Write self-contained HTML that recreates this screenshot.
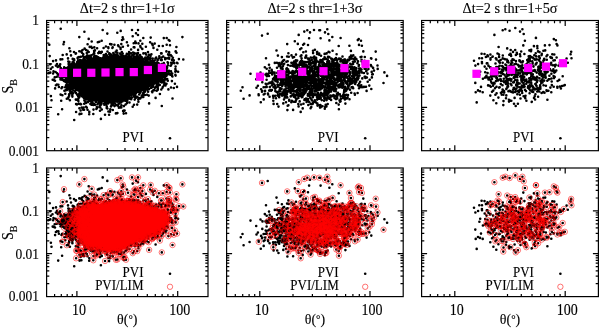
<!DOCTYPE html>
<html><head><meta charset="utf-8"><style>
html,body{margin:0;padding:0;background:#fff;width:600px;height:328px;overflow:hidden}
svg{display:block;font-family:"Liberation Serif",serif;will-change:transform}
text{stroke:#000;stroke-width:0.12px}
.rg{fill:none;stroke:none;marker-start:url(#r);marker-mid:url(#r);marker-end:url(#r)}
</style></head><body>
<svg width="600" height="328" viewBox="0 0 600 328">
<defs><marker id="r" markerUnits="userSpaceOnUse" markerWidth="8" markerHeight="8" refX="4" refY="4" overflow="visible"><circle cx="4" cy="4" r="2.7" fill="none" stroke="#f00" stroke-width="0.55"/></marker></defs>
<path d="M104.1 56.8H126.1V58.2H104.1zM95.1 57.8H134.1V59.2H95.1zM89.1 58.8H140.1V60.2H89.1zM86.1 59.8H144.1V61.2H86.1zM83.1 60.8H147.1V62.2H83.1zM79.1 61.8H150.1V63.2H79.1zM77.1 62.8H155.1V64.2H77.1zM74.1 63.8H161.1V65.2H74.1zM72.1 64.8H164.1V66.2H72.1zM69.1 65.8H165.1V67.2H69.1zM67.1 66.8H165.1V68.2H67.1zM66.1 67.8H166.1V69.2H66.1zM65.1 68.8H166.1V70.2H65.1zM64.1 69.8H166.1V71.2H64.1zM63.1 70.8H166.1V72.2H63.1zM63.1 71.8H165.1V73.2H63.1zM63.1 72.8H165.1V74.2H63.1zM63.1 73.8H164.1V75.2H63.1zM64.1 74.8H164.1V76.2H64.1zM64.1 75.8H163.1V77.2H64.1zM65.1 76.8H162.1V78.2H65.1zM65.1 77.8H161.1V79.2H65.1zM66.1 78.8H160.1V80.2H66.1zM67.1 79.8H159.1V81.2H67.1zM68.1 80.8H158.1V82.2H68.1zM69.1 81.8H157.1V83.2H69.1zM69.1 82.8H155.1V84.2H69.1zM71.1 83.8H153.1V85.2H71.1zM72.1 84.8H151.1V86.2H72.1zM73.1 85.8H150.1V87.2H73.1zM74.1 86.8H148.1V88.2H74.1zM76.1 87.8H145.1V89.2H76.1zM77.1 88.8H143.1V90.2H77.1zM78.1 89.8H140.1V91.2H78.1zM79.1 90.8H138.1V92.2H79.1zM81.1 91.8H135.1V93.2H81.1zM82.1 92.8H133.1V94.2H82.1zM83.1 93.8H132.1V95.2H83.1zM85.1 94.8H130.1V96.2H85.1zM86.1 95.8H129.1V97.2H86.1zM87.1 96.8H127.1V98.2H87.1zM89.1 97.8H126.1V99.2H89.1zM92.1 98.8H124.1V100.2H92.1zM96.1 99.8H120.1V101.2H96.1zM100.1 100.8H115.1V102.2H100.1z" fill="#000"/>
<path d="M163.8 38.1h0M91.7 41.5h0M135.3 41.6h0M97.8 42.3h0M126.9 42.2h0M150.1 42.3h0M133.7 43.3h0M135.9 43.1h0M138.5 43.4h0M142.3 43.8h0M154.7 43.6h0M49.3 44.7h0M63.5 44.3h0M110.1 44.1h0M111.5 44.4h0M121.3 44.1h0M118.1 45.4h0M128 45.6h0M162.8 46h0M89.7 46.9h0M105.9 46.5h0M118.6 46.3h0M122.9 46.7h0M140.3 46.1h0M145.9 46.7h0M94.3 47.4h0M108.3 47.3h0M120.5 47.7h0M133.7 47.2h0M134.4 47.4h0M140.6 47.3h0M153.5 47.9h0M176.4 47h0M69.4 48.2h0M84.6 48.6h0M108.4 48.1h0M112.4 48h0M142.3 48.9h0M120.6 49h0M131.1 49.5h0M138.1 49.9h0M157.3 49.8h0M82.5 50.1h0M87.6 50.9h0M94.1 50.8h0M94.9 50.4h0M116.7 50.5h0M70.3 51.2h0M81 51.5h0M99.2 51.7h0M101.8 51.9h0M107.5 51.5h0M115.7 51.7h0M166.4 51.4h0M94.1 52.3h0M100.2 52.7h0M101.4 52.1h0M117.4 52.8h0M121.8 52.1h0M129.1 52h0M133 52.6h0M133.8 52.7h0M134.2 53h0M148 52.1h0M176.5 52.7h0M75.7 53.7h0M76 53.3h0M86.8 53.1h0M94.3 53.7h0M98.3 53.1h0M100.8 53h0M109.4 53.3h0M113.3 53.1h0M120 53.6h0M122.7 53.5h0M122.5 53.7h0M126.8 53.9h0M129.5 53.9h0M131 53.3h0M136.2 53.5h0M138 53.1h0M143.4 53.4h0M145.5 53.2h0M161.1 53.4h0M161.6 53.4h0M83.3 54.2h0M93.3 54.2h0M105.9 54h0M109.2 54h0M110.7 54.4h0M110.7 55h0M114.1 54.4h0M115.7 54.8h0M115.8 54.9h0M116.7 54.9h0M117.5 55h0M121.2 54.7h0M122.4 54.1h0M127.6 54.1h0M128.3 54.3h0M129.5 54h0M133.9 54.4h0M140.1 55h0M146.1 54.5h0M149 54.8h0M151.4 54.2h0M168.1 54.3h0M169 54.4h0M169 54.5h0M71 55.4h0M87.3 55.4h0M89.6 55.8h0M91.4 55.3h0M103.7 55.1h0M106.9 55.5h0M106.8 55.2h0M111.6 55.4h0M112.8 55.8h0M116.9 55h0M117.6 55.4h0M122.7 55.6h0M123.6 55.9h0M126.3 55.8h0M126.2 55.5h0M129.1 55.1h0M132.4 55.4h0M136.7 55.6h0M137.6 55.2h0M168.6 55.2h0M170.7 55.1h0M49.7 56.1h0M80.9 56.7h0M83 56.1h0M83.1 56.3h0M85.7 56.8h0M86.3 56.9h0M87.5 56.5h0M88.5 56.4h0M94 56.7h0M95 56.4h0M94.9 56.3h0M96.6 56.2h0M104.4 56.1h0M106 57h0M106.1 56h0M106.4 56.3h0M109.6 56.1h0M112.5 56.1h0M114.8 56.8h0M114.6 56.7h0M114.2 56.1h0M116 56.6h0M116.6 56.3h0M117.8 56.1h0M118.5 56h0M118.3 57h0M119.5 56.7h0M121.7 56.9h0M121.6 56.6h0M122.6 56.7h0M122.5 56.9h0M123.7 56.8h0M123.5 56.9h0M124.1 57h0M125.3 56.3h0M125.5 56.6h0M127.3 56.7h0M130.4 56.2h0M131 56.9h0M131.3 56.9h0M134.2 56.7h0M137.6 56.6h0M140.3 56.4h0M141 56.8h0M147.9 56.5h0M150.5 56.1h0M159.3 56.3h0M163.2 56.5h0M171.5 56h0M77.9 57.6h0M79 57.1h0M84.8 57h0M86.1 57.5h0M85.4 57.4h0M86.5 57.8h0M88.1 57.6h0M88.9 57.5h0M89.7 57.4h0M90.9 57.4h0M94.4 57.9h0M95.5 57.2h0M95.7 57.8h0M98.2 57.6h0M98.3 57.2h0M98.3 57.8h0M103.3 57.2h0M104.3 57.3h0M105.6 57.4h0M107 57.7h0M108.1 57.1h0M109.8 57.8h0M109.9 57.3h0M110.6 57.9h0M110.9 57.9h0M110.7 57.8h0M111.4 57.2h0M112.8 57.1h0M113 57.9h0M112.8 57.6h0M113.8 57.4h0M113.8 57.9h0M113.4 57.5h0M115.1 57.7h0M115.5 57.9h0M116.8 57.5h0M117.9 57.2h0M118.1 57.7h0M118.6 57.2h0M120.5 57.7h0M120.9 57.1h0M122.7 57.3h0M123.3 57.6h0M124.7 57.2h0M124.5 57.4h0M125.4 57.8h0M125.7 57.7h0M127.5 57.3h0M128 57.3h0M129.6 57h0M129.8 57.3h0M130.9 57.3h0M130.5 57.5h0M131.2 57.6h0M135.8 57.1h0M136.1 57h0M136.8 57.1h0M138 57.3h0M139 57.5h0M140.9 57.2h0M141.6 57.1h0M145.4 57.5h0M147.8 57.1h0M147.3 57.5h0M148.4 57.8h0M148.9 58h0M156.2 57.5h0M161.7 57.5h0M68 58.4h0M72.7 58.9h0M77.6 58h0M83.7 58.6h0M87.7 58h0M89.8 58.8h0M91.5 58.2h0M93 58.5h0M95.1 58.5h0M96.1 58.7h0M96.5 58.5h0M96.6 58.1h0M99.8 58.3h0M100.1 58.2h0M101.5 58.5h0M102.7 58.5h0M103.1 58.8h0M103.7 58.5h0M104 58.5h0M103.4 58.6h0M126.9 58.7h0M126.9 58.6h0M127.6 58.3h0M127.3 58.5h0M128.8 58.3h0M128.2 58.2h0M128.9 58.3h0M128.3 58.4h0M130 58.6h0M129.9 58.7h0M129.7 58.1h0M130.1 58.8h0M133.2 58.3h0M133.2 58.6h0M133.8 58.8h0M135 58.6h0M134.9 58.3h0M134.9 58.7h0M134.4 58.3h0M136 58.2h0M136.9 58.9h0M140 58.4h0M139.5 59h0M142.1 58.3h0M142.6 58.5h0M145 58.6h0M150.1 58.9h0M150.3 58h0M152.7 58.6h0M155.4 58.6h0M159.3 58h0M165.1 58.1h0M167.2 58.3h0M169.2 58.7h0M60.5 59.4h0M62.3 59.3h0M74.1 59.4h0M83.5 59.3h0M87.5 59.2h0M89.8 59.1h0M89.6 59.8h0M90.7 59.7h0M91.7 59.9h0M91.9 59.7h0M92.1 59.1h0M93.8 59.2h0M94.5 59.1h0M94.6 59.9h0M96.1 59.5h0M95.4 59.9h0M97 59.8h0M133.5 59.8h0M135.2 59.1h0M136.6 59.6h0M138.2 59.8h0M139.2 60h0M140.9 60h0M140.7 59.3h0M141.1 59.2h0M143 60h0M144.9 59.3h0M144.8 59.3h0M146.6 59.4h0M148 59.7h0M157.7 59.6h0M165.2 59.3h0M172 59.9h0M172.5 59.2h0M56 60.4h0M73.8 60.8h0M73.9 60.4h0M74.2 60.2h0M78 60.3h0M78.1 60.7h0M78.5 60.9h0M79.8 60h0M81.1 60.6h0M80.4 60.1h0M82.3 60.7h0M82.3 60.2h0M82.5 60.3h0M85 60.1h0M87.5 60.2h0M87.5 60.3h0M87.3 60.9h0M88.6 61h0M89.4 60.3h0M89.7 60.2h0M139.7 60.4h0M139.9 60.6h0M139.4 60.9h0M139.2 61h0M139.5 60.7h0M139.3 60.6h0M141.3 60.5h0M142.2 60.5h0M142.5 60.9h0M146 60.1h0M146.6 60.5h0M147.3 60.9h0M150.3 60.2h0M152.4 60.9h0M154.7 60.5h0M157.5 60.5h0M157.7 60.3h0M160.8 60h0M161.8 60.1h0M173.8 60.4h0M53.1 61.1h0M68.3 61.6h0M69.5 62h0M73.3 61.9h0M80.7 61.5h0M81.3 61.2h0M83.3 61.5h0M84 61.3h0M83.6 61.6h0M85.5 61.2h0M85.9 61.7h0M86.6 61.8h0M86.6 61.7h0M86.7 62h0M145.3 61.4h0M147.5 61.6h0M151.3 61.2h0M153.7 61.5h0M72.5 62.2h0M73.7 62.1h0M77.2 62h0M80.7 62.8h0M81.6 62.3h0M82.2 62.2h0M146.6 62.2h0M146.1 62.4h0M146.6 62.5h0M146.8 62.2h0M146.9 63h0M147.7 62.2h0M147.8 62.1h0M148.7 62.8h0M149.7 62.3h0M151.8 62.1h0M157.1 62.5h0M167.6 62.3h0M171.1 62.7h0M174.1 63h0M173.4 62.4h0M176.9 62.7h0M57 64h0M74 63.5h0M73.7 63.4h0M73.5 63h0M76.8 63.8h0M77 63.6h0M76.8 63.4h0M77.7 63.3h0M78.3 63.1h0M78.6 63.1h0M78.5 63.7h0M79.2 63.2h0M79.1 63.6h0M80.1 63.5h0M150.4 63h0M152.8 63.1h0M152.3 63.2h0M152.2 63.3h0M152.6 63.7h0M154.4 63.1h0M154.1 63.9h0M155.1 63.2h0M155.4 63.2h0M157 63.1h0M156.1 63.6h0M158.6 63.4h0M163.8 63.1h0M168 63h0M171.6 64h0M174.2 63.3h0M177.5 63.2h0M50.2 64.2h0M60.2 64.2h0M68.6 64.1h0M70.8 64.2h0M71.5 64.1h0M74.3 65h0M74.6 64.3h0M154.3 64.7h0M154.5 64.9h0M155.2 64.8h0M155.9 64.5h0M156.5 64.2h0M157 64.9h0M156.2 64.5h0M156.4 64.2h0M158.9 64.2h0M158.5 64.6h0M161.4 64.5h0M161.7 64h0M162.5 64.6h0M163.7 64.6h0M164.4 64.6h0M55.9 65.6h0M58.5 66h0M69.5 65.4h0M70.3 65.8h0M73.7 65.9h0M73.1 65.5h0M74.7 65.3h0M75 65.9h0M74.5 65.9h0M74.5 65.7h0M161.3 65.7h0M162.7 65.1h0M162.2 65.3h0M164 65.5h0M164.7 65.2h0M167.9 65.3h0M170.5 65.8h0M171 65.5h0M59.9 66.2h0M68.8 66.2h0M69.2 66.4h0M70.7 66.4h0M71.7 66.8h0M71.5 66h0M163.3 66.9h0M163.8 66.2h0M163.8 66.9h0M165.7 66.5h0M52.5 67.3h0M57.7 67h0M60.8 68h0M64.2 67.4h0M68 67.7h0M68.2 67.4h0M68.7 67.7h0M69.9 67.5h0M69.7 67.2h0M69.6 67.2h0M164.2 67.5h0M164.8 67.8h0M167.1 67.4h0M50.8 68.9h0M60.7 68.5h0M66.5 68h0M66.1 68.2h0M66.6 68.8h0M68 68.1h0M67.5 68.5h0M67.1 68.9h0M164.8 68.4h0M164.9 68.2h0M164.7 68.7h0M164.5 68.7h0M166.5 68.4h0M166.9 68.4h0M175.4 69h0M60.5 69.6h0M64 69.3h0M63.1 69.3h0M63.2 69.6h0M65.1 69.8h0M64.2 69.9h0M64.8 69.6h0M65.2 69.9h0M66.9 69.1h0M64.5 70.4h0M65.9 70h0M65.7 70.1h0M166.6 70.8h0M167.4 70.7h0M169 70.7h0M176 70.7h0M53.5 71.2h0M55.6 72h0M64.4 71.7h0M164.2 71.5h0M164.4 71.6h0M165.6 71.1h0M166.1 71.7h0M165.7 71.1h0M168.6 71.4h0M169.1 71.8h0M171 71.4h0M175.4 71.7h0M175.3 71.3h0M178.1 71.8h0M49.6 72.9h0M50.3 72.6h0M62.2 72h0M63.1 72.4h0M63.2 72.6h0M63.3 72.9h0M164.4 73h0M165 73h0M165.1 72.4h0M165.6 72.9h0M48.3 73.3h0M53.1 73.5h0M57.1 73.2h0M61.5 73.4h0M62.8 73.8h0M165.8 73.1h0M166.6 73.8h0M166.3 73.2h0M168.4 73.2h0M172.2 73.5h0M58 74.4h0M60.4 74.8h0M61.1 74.7h0M62.2 74.6h0M63.9 74.9h0M64.8 74.3h0M163.9 74.2h0M163.9 74.7h0M164.5 74.9h0M168 74.2h0M169.9 74.1h0M170.3 74.7h0M171.1 74.5h0M175.4 74.9h0M61.6 75.8h0M163.1 75h0M162.5 76h0M162.4 75.6h0M164 75.3h0M163.8 75.8h0M163.9 75.7h0M164.7 75.8h0M164.5 75.1h0M165.8 75.6h0M166.5 75.7h0M172.1 75.9h0M56.8 76.8h0M59.5 77h0M59.5 76.5h0M62.2 76.9h0M63.4 76.8h0M64.3 76.2h0M65 76.1h0M64.3 76.6h0M172.4 76.5h0M54.7 77.4h0M62.3 77.9h0M65.4 77.4h0M161.6 77.4h0M161.6 77.4h0M162.8 77.5h0M163.7 77h0M163.3 77.2h0M165.2 77.9h0M61.5 78.3h0M161.2 78.6h0M162.1 78.4h0M52.7 79.8h0M60.5 79.4h0M62 79.8h0M66 79.9h0M67.5 79.7h0M67.9 79.3h0M67.8 79.9h0M159.5 79.3h0M161.6 79.6h0M162 79.9h0M166 79.1h0M165.5 79.5h0M167.2 79h0M53.7 80.1h0M55 80.7h0M63.9 80.1h0M63.9 80.9h0M68.1 80.3h0M158.2 80.1h0M161 80.7h0M163.7 80.7h0M163.6 80.1h0M163.2 80.1h0M164.3 80h0M167.8 80.7h0M65.4 81.7h0M66.6 81.8h0M67.4 81.7h0M68.4 81.5h0M157.5 81.2h0M157.2 81.6h0M157.4 81.2h0M158.1 81.5h0M160.2 81.6h0M161.1 81.3h0M162.6 81.1h0M162.2 81.2h0M163.1 81.9h0M69.3 82.3h0M69.4 82.1h0M154.8 82.8h0M155.8 82.8h0M156.8 82.4h0M157.2 82.5h0M161.6 82.5h0M163.7 82.5h0M164.4 82.2h0M66.8 84h0M70 83.7h0M69.5 83.1h0M70.7 83.4h0M70.4 83.7h0M154 83.1h0M154.1 83.5h0M157.4 83.3h0M157.5 83.5h0M158.2 83.5h0M164.5 83.9h0M174.9 83.8h0M56.9 84.5h0M58.4 84.7h0M67.6 84.5h0M68 84.8h0M70.6 84.4h0M70.5 84.8h0M72.4 84.2h0M72.7 84.2h0M152.4 85h0M153.6 84.3h0M156.9 84.3h0M156.7 84.5h0M157.7 84.5h0M157.5 84.8h0M158.7 84.4h0M66 85.3h0M68 85.1h0M68.2 85.6h0M69.4 86h0M72.6 85.4h0M72.3 86h0M73.2 85.4h0M150.8 85.8h0M151.7 85.7h0M152.8 85.4h0M152.2 85.7h0M156.7 85.2h0M158.7 85.3h0M159.8 85h0M164 85.3h0M165 85.3h0M165.5 85.5h0M67.8 86.3h0M69.2 87h0M71.2 86.7h0M71.7 86.4h0M73.1 86.3h0M148 86.6h0M147.1 86.3h0M151.8 86.2h0M152.4 86.6h0M153.3 86.6h0M156.4 86.8h0M162.9 86.7h0M58.9 87h0M62.1 87.4h0M62.4 87.2h0M65.2 87.3h0M67.4 87.4h0M69.9 87.3h0M69.1 87.5h0M71.7 87.9h0M73.4 87.5h0M75.1 87.9h0M145.6 87.5h0M145.8 87.2h0M146.9 87.2h0M146.1 88h0M147.3 87.5h0M150.9 87.7h0M151.5 87.8h0M155.1 87.7h0M157.7 87.1h0M162.6 87.6h0M61.5 88.3h0M66.9 88.7h0M73.2 88.3h0M76.7 88.7h0M77.1 88.6h0M142.8 88.1h0M142.9 88.4h0M143.9 88.8h0M144.5 88.2h0M144.9 88.8h0M147.8 88.1h0M147.5 88.1h0M157.8 88.2h0M157.8 88.9h0M67 89.9h0M69.3 89.4h0M70.8 89.5h0M71.5 89h0M75.9 89.4h0M76.1 90h0M140 89.3h0M140.2 89.8h0M141.1 89.8h0M141.4 89.7h0M141.2 89.2h0M142.3 89.3h0M143.4 89.9h0M144.2 89.9h0M145.6 89.6h0M147.1 89.6h0M149.1 89.1h0M154.1 89.9h0M157.8 89.8h0M161.3 89.5h0M168.4 89.4h0M64.4 90.7h0M65.4 90.4h0M66.6 90h0M69.7 90.8h0M73.4 90.5h0M77.8 90.3h0M79.4 90.4h0M79.1 90.7h0M80 90.2h0M137.9 90.2h0M137.6 90.3h0M138.8 90.7h0M138.3 90.7h0M139.9 90.7h0M140.9 90.9h0M141.4 90.2h0M141.3 90.5h0M142.2 90.2h0M143.1 90.1h0M144.9 90.8h0M153.3 90.3h0M154.4 90.3h0M156.7 90.8h0M157 90.5h0M71.5 91.7h0M75 91.4h0M80.2 91.9h0M80.7 91.5h0M136.3 91.4h0M136.5 92h0M137.6 91.9h0M138.8 91.2h0M139.3 91h0M140.3 91.5h0M140.4 91.6h0M140.5 91.9h0M140.1 91.1h0M145.1 91.6h0M144.1 91.1h0M148.1 91.8h0M152 91.6h0M152.4 91.6h0M70.3 92.3h0M70.5 92.3h0M79.8 92.9h0M79.7 92.2h0M81.9 92.3h0M82.9 92.5h0M82.5 92.6h0M132.1 92.3h0M132.4 92h0M133.7 92.7h0M134.4 92.3h0M135 92.2h0M135.4 92.5h0M136.6 92.2h0M139.8 92.5h0M139.9 92.9h0M152.3 92.3h0M65.3 93.7h0M71.2 93.2h0M73.1 93.2h0M76 93.1h0M79.4 93.8h0M80.1 93.9h0M79.6 93.9h0M82.1 93.9h0M83.9 93h0M131.9 93.1h0M131.4 93.9h0M133 93.3h0M132.6 93.4h0M133.8 93.9h0M134.4 93.1h0M135.9 93.3h0M142.9 93.2h0M143.2 93.5h0M143.5 93.3h0M60.6 94.6h0M69.1 94.4h0M77.1 94.6h0M77.8 94.6h0M79.8 94h0M83.7 94.5h0M83.8 94.5h0M84.8 95h0M84.9 94.8h0M131.2 94.7h0M131.5 94.9h0M133.4 94.5h0M134.7 94.3h0M135.3 94.9h0M139.2 94.5h0M147 94.7h0M159.9 94h0M62.4 95.3h0M69.2 95.7h0M72.3 95.4h0M79.6 95.8h0M86.9 95.2h0M129.4 95.1h0M129.3 95.5h0M131.3 95.1h0M141.8 95.6h0M143.1 95.9h0M143.4 95.2h0M144.9 95h0M148.7 95.6h0M50.9 96.1h0M72.4 96.6h0M78.2 96.2h0M79.2 96.9h0M81.7 96.1h0M82.7 96.8h0M82.6 96.5h0M83.9 96.2h0M83.2 96.4h0M85 96.9h0M85.6 96.8h0M85.5 96.6h0M86.8 96.4h0M86.6 97h0M86.6 96.3h0M87.3 96.7h0M87.8 96.2h0M87.4 96.8h0M87.3 96.2h0M126.4 96.2h0M127.3 96.7h0M127.9 96.9h0M127.8 96.2h0M127.6 96.2h0M134 96.5h0M135.3 96.3h0M137.2 96.7h0M68.6 97.1h0M79.3 97.2h0M83.8 97.2h0M84.9 97.8h0M85.3 97.7h0M88.3 97.6h0M89 97.8h0M89 98h0M125.6 97.5h0M125.6 97.5h0M129.7 97.3h0M132 97.5h0M135.3 97.6h0M136 97.7h0M141.6 97.1h0M143.3 97h0M155.6 97.9h0M66.8 98.7h0M68.1 98.4h0M78.5 98.4h0M83.9 98.1h0M86.3 99h0M86.7 98.4h0M88.7 98.9h0M89.4 98.9h0M90.4 98.5h0M92.3 98.5h0M92.9 99h0M123.4 98.7h0M124.1 98.4h0M124.4 98.5h0M124.8 98.6h0M125.8 98.5h0M128.4 98.6h0M128.9 98h0M129.4 98.6h0M130.7 98h0M138.7 98.1h0M140.2 98.4h0M172.5 98.5h0M75.8 99.6h0M76.5 99.6h0M77.9 99.8h0M86.1 99.5h0M87.9 99.5h0M89 99.1h0M88.3 99.5h0M90.6 99.2h0M93.2 99.1h0M95.5 99.6h0M96.5 99.4h0M119.9 99.9h0M119.8 99.7h0M119.2 99h0M121.7 99.5h0M122 99.4h0M122.1 99.5h0M122.7 99.3h0M123.3 99.9h0M123.3 99.1h0M125.4 99.1h0M125.2 99.8h0M125.9 99.6h0M126.8 99.5h0M131.2 99.2h0M134.7 99.6h0M138.3 99.4h0M51.5 100.2h0M61.2 100.7h0M69.9 100.3h0M84.4 100.5h0M89.1 100.7h0M90.9 100.7h0M90.8 100.7h0M91.2 100.1h0M93.2 100.1h0M95.7 100h0M95.5 100.7h0M95.8 100.7h0M95.3 100.8h0M95.7 100.7h0M97.4 100.1h0M115.6 100.1h0M115.4 100.7h0M115.2 100.5h0M115.4 100.5h0M115.9 100.3h0M117.9 100.7h0M118.9 100.6h0M119.4 100.5h0M119.1 100.7h0M120.2 100.8h0M123.8 100.2h0M124.3 100h0M124.9 100.6h0M125.7 100.8h0M125.2 100.3h0M127.3 100.8h0M78.4 101.1h0M90.9 101.3h0M92 102h0M91.2 101.7h0M92.4 101.7h0M95.9 102h0M98.8 102h0M101 101h0M100.4 101.8h0M100.7 101.8h0M101.6 101.8h0M101.6 101.8h0M104.1 101h0M104.9 101.5h0M106 101.9h0M105.8 101.5h0M107.6 101.8h0M107.9 101.7h0M108.4 101.1h0M108.6 101.1h0M109.7 101.7h0M110.5 102h0M110.3 101.8h0M111.7 101.3h0M111.2 101.5h0M112.7 101.7h0M115 101.1h0M114.8 101.3h0M114.5 101.4h0M115.7 101.3h0M117.8 101.3h0M117.2 101.8h0M117.2 101.1h0M117.2 101h0M117.6 101.5h0M120.5 101.7h0M120.6 101.9h0M120.1 101.6h0M122.6 101.2h0M138.4 101.8h0M85.4 102.3h0M85.6 102.1h0M88 102.1h0M99.6 103h0M101.3 102.8h0M106.6 102.4h0M108.7 102.6h0M108.3 102.6h0M109.8 102.2h0M110.7 102.4h0M111.9 102.8h0M112.1 102.9h0M111.8 102.2h0M121.1 102.5h0M129.5 102.5h0M78.6 103.7h0M80.3 103.9h0M84.2 103.8h0M86 103h0M90.4 103.9h0M92.2 103.2h0M93.7 103.7h0M98.2 103.2h0M100.7 103.4h0M101.3 103.7h0M103.9 103.7h0M105.2 103.7h0M107.8 103.1h0M108.1 103.4h0M114.6 103.2h0M119.3 103.4h0M127 103.1h0M149.1 103.4h0M76.1 104.1h0M76.9 104.4h0M80.2 104.1h0M81.1 104.3h0M91.5 104.8h0M93.4 105h0M95.2 104.8h0M97.7 104.2h0M100.7 104.1h0M101.1 104.6h0M104.9 104.2h0M104.3 104.8h0M106 104.6h0M111.6 104.6h0M112.9 104.6h0M112.9 104.1h0M116 104.8h0M118.5 104.1h0M125.6 104.5h0M134 104.8h0M137.2 104.6h0M100.2 105.3h0M112.3 105.1h0M115.5 105.3h0M117.7 105.6h0M118.1 105.4h0M121.4 105.4h0M161.8 106h0M86 106.8h0M99.4 106.9h0M106.8 106.3h0M111 106.4h0M114.5 106.1h0M123.9 106.1h0M132.7 106.7h0M81.8 107.6h0M83.6 107.5h0M86.8 107.6h0M96.8 107h0M100.3 107.5h0M106.7 107.9h0M118.9 107.7h0M120.1 107.4h0M121.3 107.5h0M79.4 108.3h0M97 108h0M107.4 108.5h0M62.1 109.3h0M83 109.6h0M84.1 109.7h0M87.5 109.8h0M93.5 109.6h0M96.4 109h0M101.8 109.5h0M110.3 109.4h0M80.6 110.5h0M100 110.7h0M112.8 110h0M123.7 110.5h0M124.6 110.6h0M76.1 112h0M89.3 111.9h0M108.4 111.5h0M110 111.8h0M123.1 111.1h0M79.7 113.8h0M81.4 113.8h0M93.3 114h0M115.9 113.4h0M117.4 113.1h0M123.7 113.6h0M126 113.3h0M89.2 114.3h0M105 114.7h0M109.1 114.7h0M60.7 28.7h0M64 42h0M79.3 37.1h0M84.4 31.7h0M88.7 38.9h0M87.6 44.3h0M91.3 46.7h0M92 48h0M97.1 48.3h0M99.3 41.7h0M101.7 40.7h0M102.7 30h0M107.3 33.6h0M103.6 48h0M112.7 47.3h0M114.4 44.7h0M117.3 32.7h0M120.7 30.9h0M122.7 37.3h0M123.3 39.3h0M122 40h0M132 30h0M138 30h0M136 33.3h0M138 35h0M132.7 36.3h0M143.3 38h0M140.3 40.7h0M150.7 37.6h0M166.7 38h0M168.7 40h0M169.6 40.7h0M182.4 37.1h0M152 43.7h0M152.7 45.3h0M158.9 46h0M166.7 44.7h0M170 45.3h0M169 52h0M175.7 51.3h0M169.2 52.2h0M175.6 51.5h0M169.2 57.7h0M172.9 57.7h0M178.9 59.1h0M183.3 59.5h0M175.6 66.5h0M175.6 75.6h0M171.9 81.1h0M171 87.5h0M173.8 88h0M177 86.9h0M166.5 83.8h0M58.2 114.3h0M74.2 120h0M79.5 114.3h0M100.9 118.9h0M55.1 88.4h0M55.9 85.3h0M62.7 55h0M66.7 54.4h0M74 52h0M79.3 51.3h0M82 52.7h0M86 50h0M88.7 52h0" stroke="#000" stroke-width="2.6" stroke-linecap="round" fill="none"/>
<rect x="59" y="68.9" width="8.2" height="8.2" fill="#f0f"/>
<rect x="73" y="68.7" width="8.2" height="8.2" fill="#f0f"/>
<rect x="87.2" y="68.7" width="8.2" height="8.2" fill="#f0f"/>
<rect x="101.4" y="68.4" width="8.2" height="8.2" fill="#f0f"/>
<rect x="115.4" y="68" width="8.2" height="8.2" fill="#f0f"/>
<rect x="129.7" y="68" width="8.2" height="8.2" fill="#f0f"/>
<rect x="143.8" y="65.9" width="8.2" height="8.2" fill="#f0f"/>
<rect x="157.8" y="63.8" width="8.2" height="8.2" fill="#f0f"/>
<path d="M104.1 203.8H126.1V205.3H104.1zM95.1 204.8H134.1V206.3H95.1zM89.1 205.8H140.1V207.3H89.1zM86.1 206.8H144.1V208.3H86.1zM83.1 207.8H147.1V209.2H83.1zM79.1 208.7H150.1V210.2H79.1zM77.1 209.7H155.1V211.2H77.1zM74.1 210.7H161.1V212.2H74.1zM72.1 211.7H164.1V213.2H72.1zM69.1 212.7H165.1V214.2H69.1zM67.1 213.7H165.1V215.2H67.1zM66.1 214.7H166.1V216.2H66.1zM65.1 215.7H166.1V217.1H65.1zM64.1 216.6H166.1V218.1H64.1zM63.1 217.6H166.1V219.1H63.1zM63.1 218.6H165.1V220.1H63.1zM63.1 219.6H165.1V221.1H63.1zM63.1 220.6H164.1V222.1H63.1zM64.1 221.6H164.1V223.1H64.1zM64.1 222.6H163.1V224.1H64.1zM65.1 223.6H162.1V225H65.1zM65.1 224.5H161.1V226H65.1zM66.1 225.5H160.1V227H66.1zM67.1 226.5H159.1V228H67.1zM68.1 227.5H158.1V229H68.1zM69.1 228.5H157.1V230H69.1zM69.1 229.5H155.1V231H69.1zM71.1 230.5H153.1V232H71.1zM72.1 231.5H151.1V232.9H72.1zM73.1 232.4H150.1V233.9H73.1zM74.1 233.4H148.1V234.9H74.1zM76.1 234.4H145.1V235.9H76.1zM77.1 235.4H143.1V236.9H77.1zM78.1 236.4H140.1V237.9H78.1zM79.1 237.4H138.1V238.9H79.1zM81.1 238.4H135.1V239.9H81.1zM82.1 239.4H133.1V240.8H82.1zM83.1 240.3H132.1V241.8H83.1zM85.1 241.3H130.1V242.8H85.1zM86.1 242.3H129.1V243.8H86.1zM87.1 243.3H127.1V244.8H87.1zM89.1 244.3H126.1V245.8H89.1zM92.1 245.3H124.1V246.8H92.1zM96.1 246.3H120.1V247.8H96.1zM100.1 247.3H115.1V248.7H100.1z" fill="#000"/>
<path d="M163.8 185.4h0M91.7 188.8h0M135.3 188.8h0M97.8 189.5h0M126.9 189.5h0M150.1 189.5h0M133.7 190.5h0M135.9 190.3h0M138.5 190.7h0M142.3 191.1h0M154.7 190.8h0M49.3 191.9h0M63.5 191.5h0M110.1 191.3h0M111.5 191.6h0M121.3 191.3h0M118.1 192.6h0M128 192.8h0M162.8 193.2h0M89.7 194.1h0M105.9 193.6h0M118.6 193.4h0M122.9 193.8h0M140.3 193.2h0M145.9 193.9h0M94.3 194.6h0M108.3 194.5h0M120.5 194.8h0M133.7 194.3h0M134.4 194.6h0M140.6 194.4h0M153.5 195h0M176.4 194.2h0M69.4 195.3h0M84.6 195.8h0M108.4 195.3h0M112.4 195.2h0M142.3 196.1h0M120.6 196.2h0M131.1 196.6h0M138.1 197.1h0M157.3 196.9h0M82.5 197.3h0M87.6 198h0M94.1 197.9h0M94.9 197.5h0M116.7 197.7h0M70.3 198.3h0M81 198.6h0M99.2 198.8h0M101.8 199h0M107.5 198.6h0M115.7 198.8h0M166.4 198.6h0M94.1 199.4h0M100.2 199.8h0M101.4 199.2h0M117.4 199.9h0M121.8 199.2h0M129.1 199.1h0M133 199.7h0M133.8 199.8h0M134.2 200.1h0M148 199.2h0M176.5 199.8h0M75.7 200.8h0M76 200.4h0M86.8 200.2h0M94.3 200.8h0M98.3 200.2h0M100.8 200.1h0M109.4 200.4h0M113.3 200.2h0M120 200.7h0M122.7 200.6h0M122.5 200.8h0M126.8 201h0M129.5 201h0M131 200.4h0M136.2 200.6h0M138 200.2h0M143.4 200.5h0M145.5 200.3h0M161.1 200.5h0M161.6 200.5h0M83.3 201.3h0M93.3 201.3h0M105.9 201.1h0M109.2 201.1h0M110.7 201.5h0M110.7 202h0M114.1 201.5h0M115.7 201.8h0M115.8 202h0M116.7 202h0M117.5 202h0M121.2 201.8h0M122.4 201.2h0M127.6 201.2h0M128.3 201.4h0M129.5 201.1h0M133.9 201.5h0M140.1 202h0M146.1 201.6h0M149 201.9h0M151.4 201.3h0M168.1 201.4h0M169 201.5h0M169 201.6h0M71 202.5h0M87.3 202.5h0M89.6 202.9h0M91.4 202.4h0M103.7 202.2h0M106.9 202.6h0M106.8 202.2h0M111.6 202.5h0M112.8 202.8h0M116.9 202.1h0M117.6 202.4h0M122.7 202.7h0M123.6 203h0M126.3 202.8h0M126.2 202.6h0M129.1 202.2h0M132.4 202.4h0M136.7 202.6h0M137.6 202.3h0M168.6 202.3h0M170.7 202.2h0M49.7 203.2h0M80.9 203.8h0M83 203.2h0M83.1 203.4h0M85.7 203.9h0M86.3 204h0M87.5 203.6h0M88.5 203.4h0M94 203.7h0M95 203.5h0M94.9 203.3h0M96.6 203.3h0M104.4 203.2h0M106 204h0M106.1 203.1h0M106.4 203.4h0M109.6 203.2h0M112.5 203.2h0M114.8 203.9h0M114.6 203.8h0M114.2 203.2h0M116 203.6h0M116.6 203.3h0M117.8 203.1h0M118.5 203.1h0M118.3 204h0M119.5 203.8h0M121.7 203.9h0M121.6 203.7h0M122.6 203.8h0M122.5 203.9h0M123.7 203.9h0M123.5 204h0M124.1 204h0M125.3 203.3h0M125.5 203.6h0M127.3 203.8h0M130.4 203.3h0M131 203.9h0M131.3 203.9h0M134.2 203.8h0M137.6 203.6h0M140.3 203.5h0M141 203.8h0M147.9 203.6h0M150.5 203.2h0M159.3 203.3h0M163.2 203.6h0M171.5 203.1h0M77.9 204.6h0M79 204.1h0M84.8 204.1h0M86.1 204.5h0M85.4 204.4h0M86.5 204.9h0M88.1 204.6h0M88.9 204.5h0M89.7 204.5h0M90.9 204.4h0M94.4 204.9h0M95.5 204.2h0M95.7 204.9h0M98.2 204.7h0M98.3 204.3h0M98.3 204.9h0M103.3 204.2h0M104.3 204.4h0M105.6 204.4h0M107 204.7h0M108.1 204.2h0M109.8 204.8h0M109.9 204.3h0M110.6 205h0M110.9 204.9h0M110.7 204.9h0M111.4 204.2h0M112.8 204.1h0M113 204.9h0M112.8 204.6h0M113.8 204.4h0M113.8 205h0M113.4 204.6h0M115.1 204.7h0M115.5 204.9h0M116.8 204.5h0M117.9 204.2h0M118.1 204.7h0M118.6 204.2h0M120.5 204.7h0M120.9 204.2h0M122.7 204.3h0M123.3 204.6h0M124.7 204.2h0M124.5 204.5h0M125.4 204.8h0M125.7 204.7h0M127.5 204.4h0M128 204.4h0M129.6 204.1h0M129.8 204.4h0M130.9 204.4h0M130.5 204.5h0M131.2 204.6h0M135.8 204.2h0M136.1 204.1h0M136.8 204.1h0M138 204.4h0M139 204.5h0M140.9 204.2h0M141.6 204.1h0M145.4 204.5h0M147.8 204.2h0M147.3 204.5h0M148.4 204.9h0M148.9 205h0M156.2 204.5h0M161.7 204.5h0M68 205.4h0M72.7 205.9h0M77.6 205.1h0M83.7 205.7h0M87.7 205.1h0M89.8 205.8h0M91.5 205.2h0M93 205.5h0M95.1 205.5h0M96.1 205.8h0M96.5 205.6h0M96.6 205.1h0M99.8 205.3h0M100.1 205.2h0M101.5 205.5h0M102.7 205.6h0M103.1 205.8h0M103.7 205.5h0M104 205.5h0M103.4 205.7h0M126.9 205.8h0M126.9 205.7h0M127.6 205.3h0M127.3 205.5h0M128.8 205.3h0M128.2 205.2h0M128.9 205.3h0M128.3 205.4h0M130 205.7h0M129.9 205.7h0M129.7 205.1h0M130.1 205.8h0M133.2 205.3h0M133.2 205.6h0M133.8 205.8h0M135 205.7h0M134.9 205.3h0M134.9 205.7h0M134.4 205.3h0M136 205.3h0M136.9 205.9h0M140 205.4h0M139.5 206h0M142.1 205.3h0M142.6 205.5h0M145 205.6h0M150.1 205.9h0M150.3 205h0M152.7 205.7h0M155.4 205.6h0M159.3 205.1h0M165.1 205.1h0M167.2 205.4h0M169.2 205.7h0M60.5 206.4h0M62.3 206.3h0M74.1 206.5h0M83.5 206.3h0M87.5 206.2h0M89.8 206.1h0M89.6 206.8h0M90.7 206.8h0M91.7 206.9h0M91.9 206.7h0M92.1 206.2h0M93.8 206.2h0M94.5 206.1h0M94.6 206.9h0M96.1 206.5h0M95.4 207h0M97 206.8h0M133.5 206.8h0M135.2 206.1h0M136.6 206.6h0M138.2 206.8h0M139.2 207h0M140.9 207h0M140.7 206.3h0M141.1 206.2h0M143 207h0M144.9 206.3h0M144.8 206.3h0M146.6 206.4h0M148 206.7h0M157.7 206.7h0M165.2 206.3h0M172 206.9h0M172.5 206.2h0M56 207.4h0M73.8 207.8h0M73.9 207.4h0M74.2 207.2h0M78 207.3h0M78.1 207.7h0M78.5 207.9h0M79.8 207h0M81.1 207.7h0M80.4 207.1h0M82.3 207.7h0M82.3 207.3h0M82.5 207.3h0M85 207.1h0M87.5 207.2h0M87.5 207.4h0M87.3 207.9h0M88.6 208h0M89.4 207.3h0M89.7 207.2h0M139.7 207.4h0M139.9 207.6h0M139.4 207.9h0M139.2 208h0M139.5 207.7h0M139.3 207.6h0M141.3 207.6h0M142.2 207.5h0M142.5 207.9h0M146 207.2h0M146.6 207.5h0M147.3 207.9h0M150.3 207.2h0M152.4 207.9h0M154.7 207.5h0M157.5 207.5h0M157.7 207.4h0M160.8 207h0M161.8 207.1h0M173.8 207.4h0M53.1 208.1h0M68.3 208.6h0M69.5 209h0M73.3 208.9h0M80.7 208.5h0M81.3 208.2h0M83.3 208.5h0M84 208.3h0M83.6 208.6h0M85.5 208.2h0M85.9 208.7h0M86.6 208.8h0M86.6 208.7h0M86.7 209h0M145.3 208.4h0M147.5 208.5h0M151.3 208.2h0M153.7 208.5h0M72.5 209.1h0M73.7 209.1h0M77.2 209h0M80.7 209.8h0M81.6 209.3h0M82.2 209.2h0M146.6 209.2h0M146.1 209.4h0M146.6 209.5h0M146.8 209.2h0M146.9 210h0M147.7 209.2h0M147.8 209.1h0M148.7 209.8h0M149.7 209.3h0M151.8 209.1h0M157.1 209.5h0M167.6 209.3h0M171.1 209.7h0M174.1 210h0M173.4 209.4h0M176.9 209.7h0M57 210.9h0M74 210.5h0M73.7 210.4h0M73.5 210h0M76.8 210.8h0M77 210.6h0M76.8 210.4h0M77.7 210.3h0M78.3 210.1h0M78.6 210.1h0M78.5 210.7h0M79.2 210.2h0M79.1 210.5h0M80.1 210.4h0M150.4 210h0M152.8 210.1h0M152.3 210.2h0M152.2 210.3h0M152.6 210.6h0M154.4 210h0M154.1 210.9h0M155.1 210.1h0M155.4 210.1h0M157 210.1h0M156.1 210.5h0M158.6 210.4h0M163.8 210.1h0M168 210h0M171.6 211h0M174.2 210.3h0M177.5 210.1h0M50.2 211.2h0M60.2 211.2h0M68.6 211h0M70.8 211.2h0M71.5 211.1h0M74.3 211.9h0M74.6 211.3h0M154.3 211.7h0M154.5 211.8h0M155.2 211.7h0M155.9 211.4h0M156.5 211.2h0M157 211.9h0M156.2 211.5h0M156.4 211.2h0M158.9 211.2h0M158.5 211.5h0M161.4 211.5h0M161.7 211h0M162.5 211.6h0M163.7 211.6h0M164.4 211.6h0M55.9 212.5h0M58.5 212.9h0M69.5 212.4h0M70.3 212.7h0M73.7 212.9h0M73.1 212.4h0M74.7 212.3h0M75 212.9h0M74.5 212.8h0M74.5 212.7h0M161.3 212.6h0M162.7 212h0M162.2 212.2h0M164 212.4h0M164.7 212.1h0M167.9 212.2h0M170.5 212.8h0M171 212.4h0M59.9 213.1h0M68.8 213.2h0M69.2 213.3h0M70.7 213.4h0M71.7 213.7h0M71.5 213h0M163.3 213.9h0M163.8 213.2h0M163.8 213.8h0M165.7 213.5h0M52.5 214.2h0M57.7 214h0M60.8 214.9h0M64.2 214.3h0M68 214.7h0M68.2 214.3h0M68.7 214.6h0M69.9 214.4h0M69.7 214.2h0M69.6 214.1h0M164.2 214.4h0M164.8 214.8h0M167.1 214.3h0M50.8 215.8h0M60.7 215.4h0M66.5 214.9h0M66.1 215.2h0M66.6 215.7h0M68 215h0M67.5 215.4h0M67.1 215.8h0M164.8 215.3h0M164.9 215.1h0M164.7 215.6h0M164.5 215.6h0M166.5 215.3h0M166.9 215.3h0M175.4 215.9h0M60.5 216.5h0M64 216.2h0M63.1 216.2h0M63.2 216.5h0M65.1 216.7h0M64.2 216.8h0M64.8 216.5h0M65.2 216.8h0M66.9 216.1h0M64.5 217.3h0M65.9 216.9h0M65.7 216.9h0M166.6 217.7h0M167.4 217.6h0M169 217.6h0M176 217.5h0M53.5 218h0M55.6 218.8h0M64.4 218.5h0M164.2 218.4h0M164.4 218.5h0M165.6 218h0M166.1 218.6h0M165.7 218h0M168.6 218.3h0M169.1 218.7h0M171 218.3h0M175.4 218.5h0M175.3 218.2h0M178.1 218.7h0M49.6 219.7h0M50.3 219.4h0M62.2 218.9h0M63.1 219.2h0M63.2 219.5h0M63.3 219.8h0M164.4 219.8h0M165 219.8h0M165.1 219.3h0M165.6 219.8h0M48.3 220.2h0M53.1 220.3h0M57.1 220h0M61.5 220.2h0M62.8 220.6h0M165.8 219.9h0M166.6 220.7h0M166.3 220.1h0M168.4 220.1h0M172.2 220.4h0M58 221.2h0M60.4 221.6h0M61.1 221.5h0M62.2 221.5h0M63.9 221.7h0M64.8 221.2h0M163.9 221.1h0M163.9 221.6h0M164.5 221.7h0M168 221h0M169.9 220.9h0M170.3 221.6h0M171.1 221.3h0M175.4 221.7h0M61.6 222.7h0M163.1 221.9h0M162.5 222.8h0M162.4 222.5h0M164 222.1h0M163.8 222.6h0M163.9 222.5h0M164.7 222.7h0M164.5 221.9h0M165.8 222.4h0M166.5 222.6h0M172.1 222.7h0M56.8 223.7h0M59.5 223.8h0M59.5 223.3h0M62.2 223.8h0M63.4 223.6h0M64.3 223h0M65 223h0M64.3 223.4h0M172.4 223.3h0M54.7 224.2h0M62.3 224.7h0M65.4 224.2h0M161.6 224.2h0M161.6 224.2h0M162.8 224.3h0M163.7 223.9h0M163.3 224h0M165.2 224.6h0M61.5 225.1h0M161.2 225.4h0M162.1 225.2h0M52.7 226.6h0M60.5 226.2h0M62 226.6h0M66 226.7h0M67.5 226.5h0M67.9 226.1h0M67.8 226.6h0M159.5 226.1h0M161.6 226.3h0M162 226.7h0M166 225.9h0M165.5 226.3h0M167.2 225.8h0M53.7 226.9h0M55 227.5h0M63.9 226.9h0M63.9 227.6h0M68.1 227h0M158.2 226.9h0M161 227.5h0M163.7 227.5h0M163.6 226.9h0M163.2 226.8h0M164.3 226.8h0M167.8 227.4h0M65.4 228.4h0M66.6 228.5h0M67.4 228.5h0M68.4 228.3h0M157.5 227.9h0M157.2 228.4h0M157.4 227.9h0M158.1 228.2h0M160.2 228.3h0M161.1 228h0M162.6 227.9h0M162.2 227.9h0M163.1 228.6h0M69.3 229h0M69.4 228.8h0M154.8 229.5h0M155.8 229.5h0M156.8 229.2h0M157.2 229.3h0M161.6 229.3h0M163.7 229.3h0M164.4 228.9h0M66.8 230.7h0M70 230.4h0M69.5 229.8h0M70.7 230.1h0M70.4 230.4h0M154 229.8h0M154.1 230.2h0M157.4 230h0M157.5 230.2h0M158.2 230.2h0M164.5 230.6h0M174.9 230.5h0M56.9 231.2h0M58.4 231.4h0M67.6 231.3h0M68 231.5h0M70.6 231.1h0M70.5 231.5h0M72.4 231h0M72.7 230.9h0M152.4 231.7h0M153.6 231h0M156.9 231h0M156.7 231.3h0M157.7 231.3h0M157.5 231.5h0M158.7 231.1h0M66 232h0M68 231.8h0M68.2 232.3h0M69.4 232.7h0M72.6 232.1h0M72.3 232.7h0M73.2 232.1h0M150.8 232.5h0M151.7 232.4h0M152.8 232.1h0M152.2 232.4h0M156.7 231.9h0M158.7 232h0M159.8 231.7h0M164 232h0M165 232h0M165.5 232.2h0M67.8 233h0M69.2 233.6h0M71.2 233.4h0M71.7 233.1h0M73.1 233h0M148 233.3h0M147.1 233h0M151.8 232.9h0M152.4 233.3h0M153.3 233.2h0M156.4 233.5h0M162.9 233.4h0M58.9 233.7h0M62.1 234.1h0M62.4 233.9h0M65.2 234h0M67.4 234h0M69.9 234h0M69.1 234.2h0M71.7 234.6h0M73.4 234.2h0M75.1 234.5h0M145.6 234.2h0M145.8 233.9h0M146.9 233.8h0M146.1 234.6h0M147.3 234.1h0M150.9 234.4h0M151.5 234.4h0M155.1 234.4h0M157.7 233.8h0M162.6 234.3h0M61.5 235h0M66.9 235.3h0M73.2 235h0M76.7 235.3h0M77.1 235.3h0M142.8 234.7h0M142.9 235.1h0M143.9 235.5h0M144.5 234.8h0M144.9 235.4h0M147.8 234.7h0M147.5 234.8h0M157.8 234.9h0M157.8 235.5h0M67 236.6h0M69.3 236h0M70.8 236.1h0M71.5 235.7h0M75.9 236.1h0M76.1 236.6h0M140 236h0M140.2 236.5h0M141.1 236.5h0M141.4 236.3h0M141.2 235.8h0M142.3 236h0M143.4 236.5h0M144.2 236.5h0M145.6 236.2h0M147.1 236.3h0M149.1 235.8h0M154.1 236.6h0M157.8 236.5h0M161.3 236.2h0M168.4 236.1h0M64.4 237.3h0M65.4 237h0M66.6 236.7h0M69.7 237.5h0M73.4 237.1h0M77.8 236.9h0M79.4 237.1h0M79.1 237.4h0M80 236.9h0M137.9 236.8h0M137.6 236.9h0M138.8 237.3h0M138.3 237.4h0M139.9 237.3h0M140.9 237.5h0M141.4 236.8h0M141.3 237.1h0M142.2 236.9h0M143.1 236.7h0M144.9 237.4h0M153.3 237h0M154.4 237h0M156.7 237.5h0M157 237.2h0M71.5 238.4h0M75 238h0M80.2 238.5h0M80.7 238.1h0M136.3 238h0M136.5 238.6h0M137.6 238.5h0M138.8 237.9h0M139.3 237.7h0M140.3 238.1h0M140.4 238.2h0M140.5 238.5h0M140.1 237.8h0M145.1 238.2h0M144.1 237.7h0M148.1 238.4h0M152 238.2h0M152.4 238.2h0M70.3 238.9h0M70.5 238.9h0M79.8 239.5h0M79.7 238.8h0M81.9 238.9h0M82.9 239.1h0M82.5 239.2h0M132.1 238.9h0M132.4 238.7h0M133.7 239.3h0M134.4 238.9h0M135 238.8h0M135.4 239.1h0M136.6 238.8h0M139.8 239.1h0M139.9 239.5h0M152.3 239h0M65.3 240.3h0M71.2 239.8h0M73.1 239.8h0M76 239.7h0M79.4 240.4h0M80.1 240.5h0M79.6 240.5h0M82.1 240.5h0M83.9 239.6h0M131.9 239.7h0M131.4 240.5h0M133 239.9h0M132.6 240h0M133.8 240.5h0M134.4 239.7h0M135.9 239.9h0M142.9 239.8h0M143.2 240.1h0M143.5 239.9h0M60.6 241.1h0M69.1 241h0M77.1 241.2h0M77.8 241.2h0M79.8 240.6h0M83.7 241.1h0M83.8 241.1h0M84.8 241.6h0M84.9 241.3h0M131.2 241.3h0M131.5 241.5h0M133.4 241.1h0M134.7 240.9h0M135.3 241.5h0M139.2 241h0M147 241.3h0M159.9 240.6h0M62.4 241.9h0M69.2 242.3h0M72.3 242h0M79.6 242.4h0M86.9 241.8h0M129.4 241.7h0M129.3 242h0M131.3 241.7h0M141.8 242.1h0M143.1 242.5h0M143.4 241.8h0M144.9 241.6h0M148.7 242.2h0M50.9 242.7h0M72.4 243.2h0M78.2 242.8h0M79.2 243.5h0M81.7 242.7h0M82.7 243.3h0M82.6 243.1h0M83.9 242.8h0M83.2 243h0M85 243.5h0M85.6 243.4h0M85.5 243.1h0M86.8 242.9h0M86.6 243.5h0M86.6 242.8h0M87.3 243.3h0M87.8 242.7h0M87.4 243.3h0M87.3 242.8h0M126.4 242.8h0M127.3 243.3h0M127.9 243.4h0M127.8 242.8h0M127.6 242.8h0M134 243h0M135.3 242.9h0M137.2 243.3h0M68.6 243.6h0M79.3 243.8h0M83.8 243.8h0M84.9 244.3h0M85.3 244.2h0M88.3 244.2h0M89 244.3h0M89 244.5h0M125.6 244h0M125.6 244h0M129.7 243.8h0M132 244.1h0M135.3 244.1h0M136 244.3h0M141.6 243.6h0M143.3 243.6h0M155.6 244.5h0M66.8 245.2h0M68.1 245h0M78.5 245h0M83.9 244.7h0M86.3 245.5h0M86.7 244.9h0M88.7 245.5h0M89.4 245.5h0M90.4 245h0M92.3 245h0M92.9 245.5h0M123.4 245.3h0M124.1 244.9h0M124.4 245.1h0M124.8 245.2h0M125.8 245h0M128.4 245.1h0M128.9 244.6h0M129.4 245.1h0M130.7 244.6h0M138.7 244.7h0M140.2 245h0M172.5 245h0M75.8 246.2h0M76.5 246.1h0M77.9 246.4h0M86.1 246h0M87.9 246h0M89 245.6h0M88.3 246h0M90.6 245.7h0M93.2 245.6h0M95.5 246.1h0M96.5 245.9h0M119.9 246.5h0M119.8 246.2h0M119.2 245.6h0M121.7 246.1h0M122 245.9h0M122.1 246h0M122.7 245.8h0M123.3 246.5h0M123.3 245.6h0M125.4 245.6h0M125.2 246.3h0M125.9 246.1h0M126.8 246h0M131.2 245.7h0M134.7 246.2h0M138.3 245.9h0M51.5 246.8h0M61.2 247.2h0M69.9 246.8h0M84.4 247h0M89.1 247.2h0M90.9 247.2h0M90.8 247.2h0M91.2 246.6h0M93.2 246.6h0M95.7 246.5h0M95.5 247.2h0M95.8 247.3h0M95.3 247.3h0M95.7 247.2h0M97.4 246.7h0M115.6 246.6h0M115.4 247.2h0M115.2 247h0M115.4 247h0M115.9 246.8h0M117.9 247.2h0M118.9 247.1h0M119.4 247h0M119.1 247.2h0M120.2 247.4h0M123.8 246.8h0M124.3 246.5h0M124.9 247.1h0M125.7 247.3h0M125.2 246.8h0M127.3 247.3h0M78.4 247.6h0M90.9 247.8h0M92 248.5h0M91.2 248.2h0M92.4 248.2h0M95.9 248.5h0M98.8 248.5h0M101 247.5h0M100.4 248.3h0M100.7 248.3h0M101.6 248.3h0M101.6 248.3h0M104.1 247.5h0M104.9 248h0M106 248.4h0M105.8 248h0M107.6 248.3h0M107.9 248.2h0M108.4 247.6h0M108.6 247.6h0M109.7 248.2h0M110.5 248.5h0M110.3 248.3h0M111.7 247.8h0M111.2 248h0M112.7 248.2h0M115 247.6h0M114.8 247.8h0M114.5 248h0M115.7 247.8h0M117.8 247.8h0M117.2 248.3h0M117.2 247.6h0M117.2 247.5h0M117.6 248h0M120.5 248.2h0M120.6 248.4h0M120.1 248.1h0M122.6 247.7h0M138.4 248.3h0M85.4 248.8h0M85.6 248.6h0M88 248.6h0M99.6 249.5h0M101.3 249.3h0M106.6 248.9h0M108.7 249.1h0M108.3 249.1h0M109.8 248.7h0M110.7 248.9h0M111.9 249.3h0M112.1 249.4h0M111.8 248.7h0M121.1 249h0M129.5 249h0M78.6 250.2h0M80.3 250.3h0M84.2 250.2h0M86 249.5h0M90.4 250.4h0M92.2 249.7h0M93.7 250.1h0M98.2 249.7h0M100.7 249.9h0M101.3 250.2h0M103.9 250.2h0M105.2 250.2h0M107.8 249.6h0M108.1 249.8h0M114.6 249.7h0M119.3 249.9h0M127 249.6h0M149.1 249.9h0M76.1 250.6h0M76.9 250.9h0M80.2 250.6h0M81.1 250.8h0M91.5 251.2h0M93.4 251.4h0M95.2 251.3h0M97.7 250.6h0M100.7 250.6h0M101.1 251.1h0M104.9 250.7h0M104.3 251.3h0M106 251.1h0M111.6 251.1h0M112.9 251.1h0M112.9 250.6h0M116 251.3h0M118.5 250.6h0M125.6 250.9h0M134 251.3h0M137.2 251.1h0M100.2 251.8h0M112.3 251.5h0M115.5 251.7h0M117.7 252.1h0M118.1 251.9h0M121.4 251.8h0M161.8 252.4h0M86 253.2h0M99.4 253.4h0M106.8 252.8h0M111 252.8h0M114.5 252.5h0M123.9 252.6h0M132.7 253.2h0M81.8 254.1h0M83.6 254h0M86.8 254h0M96.8 253.5h0M100.3 253.9h0M106.7 254.3h0M118.9 254.1h0M120.1 253.9h0M121.3 253.9h0M79.4 254.7h0M97 254.4h0M107.4 254.9h0M62.1 255.7h0M83 256h0M84.1 256.1h0M87.5 256.2h0M93.5 256h0M96.4 255.5h0M101.8 255.9h0M110.3 255.8h0M80.6 256.9h0M100 257.1h0M112.8 256.4h0M123.7 256.9h0M124.6 257h0M76.1 258.3h0M89.3 258.3h0M108.4 257.9h0M110 258.2h0M123.1 257.5h0M79.7 260.2h0M81.4 260.2h0M93.3 260.3h0M115.9 259.8h0M117.4 259.5h0M123.7 260h0M126 259.7h0M89.2 260.7h0M105 261h0M109.1 261.1h0M60.7 176.1h0M64 189.2h0M79.3 184.4h0M84.4 179.1h0M88.7 186.2h0M87.6 191.5h0M91.3 193.9h0M92 195.2h0M97.1 195.5h0M99.3 188.9h0M101.7 188h0M102.7 177.4h0M107.3 180.9h0M103.6 195.2h0M112.7 194.5h0M114.4 191.9h0M117.3 180.1h0M120.7 178.3h0M122.7 184.6h0M123.3 186.6h0M122 187.3h0M132 177.4h0M138 177.4h0M136 180.6h0M138 182.3h0M132.7 183.6h0M143.3 185.3h0M140.3 188h0M150.7 184.9h0M166.7 185.3h0M168.7 187.3h0M169.6 188h0M182.4 184.4h0M152 190.9h0M152.7 192.5h0M158.9 193.2h0M166.7 191.9h0M170 192.5h0M169 199.1h0M175.7 198.4h0M169.2 199.3h0M175.6 198.6h0M169.2 204.7h0M172.9 204.7h0M178.9 206.1h0M183.3 206.5h0M175.6 213.4h0M175.6 222.4h0M171.9 227.9h0M171 234.2h0M173.8 234.7h0M177 233.6h0M166.5 230.5h0M58.2 260.6h0M74.2 266.3h0M79.5 260.6h0M100.9 265.2h0M55.1 235.1h0M55.9 232h0M62.7 202.1h0M66.7 201.5h0M74 199.1h0M79.3 198.4h0M82 199.8h0M86 197.1h0M88.7 199.1h0" stroke="#000" stroke-width="2.6" stroke-linecap="round" fill="none"/>
<path d="M91.7 188.8 135.3 188.8 150.1 189.5 133.7 190.5 135.9 190.3 138.5 190.7 142.3 191.1 154.7 190.8 110.1 191.3 121.3 191.3 128 192.8 162.8 193.2 118.6 193.4 122.9 193.8 94.3 194.6 108.3 194.5 120.5 194.8 133.7 194.3 134.4 194.6 140.6 194.4 176.4 194.2 108.4 195.3 142.3 196.1 138.1 197.1 87.6 198 94.1 197.9 99.2 198.8 101.8 199 115.7 198.8 166.4 198.6 117.4 199.9 121.8 199.2 129.1 199.1 134.2 200.1 148 199.2 176.5 199.8 94.3 200.8 98.3 200.2 120 200.7 122.7 200.6 126.8 201 129.5 201 131 200.4 145.5 200.3 161.1 200.5 161.6 200.5 93.3 201.3 105.9 201.1 114.1 201.5 115.7 201.8 115.8 202 116.7 202 117.5 202 122.4 201.2 127.6 201.2 128.3 201.4 133.9 201.5 146.1 201.6 169 201.5 169 201.6 89.6 202.9 91.4 202.4 103.7 202.2 111.6 202.5 112.8 202.8 117.6 202.4 122.7 202.7 126.3 202.8 137.6 202.3 168.6 202.3 80.9 203.8 85.7 203.9 88.5 203.4 95 203.5 96.6 203.3 104.4 203.2 106.1 203.1 109.6 203.2 112.5 203.2 114.2 203.2 117.8 203.1 118.5 203.1 118.3 204 122.6 203.8 122.5 203.9 123.7 203.9 123.5 204 124.1 204 125.3 203.3 127.3 203.8 134.2 203.8 137.6 203.6 140.3 203.5 150.5 203.2 171.5 203.1 86.1 204.5 86.5 204.9 89.7 204.5 90.9 204.4 95.5 204.2 95.7 204.9 98.3 204.3 98.3 204.9 103.3 204.2 104.3 204.4 107 204.7 109.9 204.3 110.7 204.9 112.8 204.1 112.8 204.6 113.8 204.4 113.8 205 115.1 204.7 116.8 204.5 117.9 204.2 118.6 204.2 120.5 204.7 122.7 204.3 123.3 204.6 124.7 204.2 124.5 204.5 125.7 204.7 127.5 204.4 128 204.4 129.6 204.1 129.8 204.4 135.8 204.2 136.1 204.1 138 204.4 141.6 204.1 147.8 204.2 148.4 204.9 148.9 205 161.7 204.5 96.5 205.6 99.8 205.3 103.1 205.8 103.7 205.5 104 205.5 103.4 205.7 107.9 205.1 109.8 205.5 110.7 205.5 110.8 205.2 110.6 205.3 111.9 205.8 113.5 205.9 114.5 205.5 116 205.5 116 205.3 116.7 205.7 117.6 205.2 117.4 205.3 121.1 205.1 121.9 206 126.9 205.8 126.9 205.7 127.3 205.5 128.9 205.3 130 205.7 130.1 205.8 133.2 205.6 133.8 205.8 134.9 205.3 134.9 205.7 134.4 205.3 136.9 205.9 140 205.4 142.6 205.5 145 205.6 150.3 205 152.7 205.7 155.4 205.6 165.1 205.1 167.2 205.4 87.5 206.2 89.8 206.1 90.7 206.8 91.7 206.9 93.8 206.2 94.6 206.9 99.9 207 103.5 206.5 107 206.9 108.7 206.8 110.6 206.4 110.2 206.7 110.4 206.5 111 206 110.1 206.9 110.1 206.4 117.5 207 117.3 206.5 120.5 206.9 120.4 206.1 120.5 206.8 121.5 206.5 122.1 206.6 123.7 206.1 125 206.8 126.3 206.5 127.5 206.1 127.7 206.6 129.9 206.6 132.1 207 136.6 206.6 138.2 206.8 139.2 207 140.9 207 141.1 206.2 143 207 144.8 206.3 165.2 206.3 79.8 207 87.5 207.2 87.5 207.4 87.3 207.9 90.6 207.4 91.9 207.4 92.8 207.5 93.3 207.2 93.3 207.7 95 207.6 94.8 207.1 95.8 207.9 96 207.7 95.3 207.5 95.4 207.3 96.5 207.5 96.3 207.6 98.4 207.4 99.4 207.3 99.9 207.1 99.9 207.2 99.1 207.6 101 207.6 100.8 207.3 100.4 207.7 101.1 208 101.7 207.4 102.7 207.3 102.3 207.3 102.8 207.3 103.2 207.8 104.8 207.1 105.1 207.4 105.6 208 106.1 207.3 107.2 208 108.6 207.1 108.9 207.7 108.9 207.4 109.6 207.8 110.8 208 111.2 207.6 113.7 207.5 113.2 207.4 113.8 207.9 114.7 207.8 116.3 207.8 117 207.7 118 207.5 120.5 207.3 120.3 207.1 120.6 207.4 121.6 207.3 123.6 207.3 123.2 207.7 124.1 207 125 207.1 124.4 207.5 126.1 207.1 126.6 207.6 128 207.4 127.2 207.2 127.1 207.3 130 207.3 129.7 207.9 130.7 207.7 131.3 207.8 131.8 207.8 132.9 207.6 133.9 207.7 133.1 207 134.3 207.5 134.4 207.7 134.3 207.7 135.2 207.3 135.2 208 136.7 207.3 136.4 207.6 136.9 207.2 136.6 208 138.1 207.3 139.9 207.6 139.4 207.9 139.2 208 139.5 207.7 141.3 207.6 142.2 207.5 142.5 207.9 146 207.2 146.6 207.5 150.3 207.2 152.4 207.9 154.7 207.5 157.5 207.5 157.7 207.4 173.8 207.4 81.3 208.2 84 208.3 85.5 208.2 86.6 208.8 86.6 208.7 91.8 208.5 92.3 208.8 94 208.1 95 208.9 95 208.9 94.5 208.8 95.5 208.6 98.5 208.2 98.9 208.4 98.6 208 99.3 208.5 99.7 208.3 100.9 208.5 102.9 208.7 104 208.1 105.8 208 106.9 208.3 106.9 208.7 109.8 208.8 110.1 208.1 111.1 208.3 113 208.6 112.3 208.6 114.4 209 114.3 208.5 116 208.6 115.2 208.6 117.1 208 118.8 208.7 120 208.9 119.8 208.5 119.8 208.3 119.7 208.2 119.1 208.8 120.4 208.2 120.4 208.1 120.5 208.2 121.9 208.6 121.6 208.6 122.2 208.1 123.1 208.5 124 208 125.3 208.3 125.5 208.2 125.7 208.1 126.1 208.1 126 208.4 126.8 208.4 126.5 208.8 127.4 208.7 128 208.2 128.4 208 128.9 208.9 130.9 208.8 131.6 208.6 134.9 208.8 134.7 208.2 135.7 208.7 136.1 208.2 136.9 208.3 138.1 208.8 138.7 208.4 138.4 208.1 140.4 208.6 142.3 208.9 142.1 208.5 145.3 208.4 77.2 209 81.6 209.3 83.7 209.6 89.1 209.6 91.8 209.4 91.3 209.9 91.3 209.4 91.9 209.7 92.4 209.7 93.3 209.8 93.2 209.2 94.8 209.1 95.6 209.8 98.7 209.2 100.3 209.3 102.9 209.8 103.6 209.9 106.2 209.8 106.9 209.2 106.7 209.7 107.6 209.3 107.6 209.6 108.1 209.6 107.6 210 108.5 209.1 108.1 209.2 108.3 209.6 110.9 209.9 112.9 209.9 112.3 209.8 112.6 210 113.4 209.3 114 210 114 209 115.7 209.4 115.3 209.9 115.8 209.2 116.3 209.6 117.2 209.5 119.8 209.5 119.2 209.3 121.6 209.8 121.8 209.6 123.1 209.4 123 209.1 122.8 209.6 123.2 209.3 123.8 209.1 124.6 209.6 124.5 209.7 126.2 209.2 126.3 209.1 126.7 209.3 127.7 209.4 127.6 209.4 130.1 209.9 130 209.1 130.4 210 130.6 209 130.7 209.8 130.9 209.4 131.3 209.9 131.5 209.3 133.3 209.3 133.8 209.8 139.7 209.5 139.9 209.6 139.6 209.7 139.4 209 141 209.4 141.6 209.9 141.8 209.4 141.4 209.1 142 209.2 142.9 209.2 142.8 209.4 146.6 209.2 146.6 209.5 146.8 209.2 146.9 210 147.7 209.2 147.8 209.1 148.7 209.8 167.6 209.3 174.1 210 173.4 209.4 176.9 209.7 74 210.5 76.8 210.8 76.8 210.4 78.6 210.1 78.5 210.7 82.4 210.5 83 210.6 82.2 210 84.1 210.8 85.3 210.9 88 210.3 88.7 210.8 90.9 210.2 93.4 210.2 94.3 210.3 95.6 210.2 95.6 210.8 95.4 210 95.8 210.2 96.2 210.3 97.8 210.6 97.4 210.9 98.5 210.4 100 210.6 99.5 210.3 99.5 210.8 101.9 210.4 102.2 210.1 103 210.1 103.8 210.8 103.9 210.4 104.4 210.8 105.4 210.6 105.9 210.9 108.2 210.2 109.8 210 110.9 210.3 111.9 210 112.3 210.9 112.1 210.2 114.2 210.6 114.2 210.4 115.1 210.9 116.5 210.1 116.3 210.3 118.1 210.2 118.4 210.6 119.4 210.3 120.5 210.4 120.3 210.2 120.2 210.5 121.2 210.4 122.5 210.7 122.6 210.7 124.5 210.7 126.1 210.7 127 210.3 128.9 210.9 130 210.5 131 210.9 132 210.7 132 210.1 132.3 210.8 132.9 210.2 136.2 210.1 138.6 210 138.5 210.5 140 210.2 140.5 210.7 141.8 210.4 142 210.5 142.1 210.2 142.9 210.1 144.6 210.7 145.6 210.5 145.9 210.1 145.9 210.4 145.2 210.9 146.7 210.3 148.7 210.9 152.8 210.1 152.3 210.2 152.2 210.3 154.4 210 154.1 210.9 157 210.1 156.1 210.5 158.6 210.4 163.8 210.1 171.6 211 174.2 210.3 60.2 211.2 71.5 211.1 79.9 211.4 80.3 211.1 82.1 211.9 82.6 211.7 82.5 211.9 82.5 211 83.6 211.9 84.7 211.8 85.2 211.3 87.1 211.5 88.9 211.5 89.1 211.8 89.9 211.4 89.9 211.2 90.7 211.7 91.1 211.9 95 211.7 95.4 211.6 95.3 211.6 95.4 211.8 96.5 211.8 97.8 211.6 98.8 211.2 99.7 211.9 99.7 211.8 100.6 211.3 100.2 211.9 103 211.1 104 211 105.5 211.6 106.8 211.9 106.3 211.4 106.4 211.8 107 211 108 211.3 107.1 211.5 109.3 211.7 110.3 211.7 110.4 211.5 110.5 211.7 113.9 211.2 113.3 211.6 113.1 211.9 115.1 211.1 114.3 211.1 115.5 211.6 117 211.8 117.1 211.7 118.5 211 119.5 211.6 120.6 211.9 120.4 211.4 123.2 211.7 123.6 211.3 123.7 211.7 123.6 211.7 124.3 211.7 124.2 211.7 124.1 211.8 125.3 211 127 211.6 126.7 211.5 127.1 211.7 128 211.1 128.9 211.9 131.1 211.5 132 211.4 131.3 211.5 131.2 211.9 132.4 211.5 132.9 211.2 132.5 211.8 135 211.3 135 211.8 137 211.6 138.3 211.6 140.7 211.1 140.2 211 141.7 211.4 142 211.3 141.7 211.3 144.1 211.9 144.3 211.8 145.9 211.6 145.2 211.4 147.7 211.5 147.2 211.7 147.9 211.9 148.8 211.3 148.5 211.7 148.5 211.5 149.6 211.1 150.4 211.9 151.4 211.1 152.1 211.6 152.4 211 154.3 211.7 155.9 211.4 156.5 211.2 157 211.9 156.2 211.5 156.4 211.2 161.4 211.5 162.5 211.6 164.4 211.6 78.5 212.6 80.8 212 81.5 212.4 87.6 212.2 88.2 212.2 90.2 212.5 92.9 212.8 94.4 212.7 94.8 212.6 95.8 212.6 95.5 212 96.5 212.8 96.8 212.2 97.6 212.5 97.9 212.7 97.7 212 97.3 212.1 98.2 212.2 100 212.2 100.3 212.3 102 212.5 102.4 212.9 104.7 212.8 105.1 212.8 105.1 212.5 107.9 212.5 107.9 212.8 108 212.5 107.2 212 108.9 212 108.2 212.3 109.4 212.9 110.7 212.3 111 212.3 110.4 212.1 111.1 212.7 112.4 212.9 113.4 212.3 113.2 212.6 113.8 212.8 114.1 212 116 212 115.4 212.4 116.1 212 116.5 212.1 118.4 212.4 118.6 212.2 120.7 212.6 120.6 212.9 121.7 212.6 122.2 212.6 124.7 212.3 125.8 212.7 126 212.3 126.1 212.9 126.1 212.8 127.1 212.1 126.9 212.6 127.5 212.1 128.6 212.5 128.5 212.3 128.5 212.8 129.1 212.9 129.4 212 129.9 212 129.2 212.2 129.7 212.5 131.7 212.2 134.1 212.1 135.9 212.1 136.5 212.7 137.9 212.4 139 212.3 139.8 212.7 140.6 212 141.2 212.1 141.7 212.5 142.4 212.3 142.2 212.7 143.9 212.6 144.3 212.1 144.7 212.2 145.3 212.6 146.5 212 150.2 212.2 151.5 212 152.6 212.5 152.8 212.7 153.6 212.5 154 212.8 153.2 212 153.6 212.4 155.9 212.7 155.2 212.5 158 212.5 161.3 212.6 162.7 212 164 212.4 170.5 212.8 74.5 213.4 75.5 213.7 80.6 213.1 82.7 213.7 82.4 213.6 83.1 213.2 83.5 213.8 84.6 213 88.8 213 88.3 213 88.6 213 92 213.2 93 213.5 93.5 213.9 94 213.6 95.1 213.5 96.5 213.1 98.8 213.6 98.3 213.8 101.1 213.5 100.8 213.1 102.6 213 102.3 213.5 104.1 213.9 107 213.8 110.2 213.2 110.9 213.6 110.1 213.7 111.4 213.6 112 213.3 111.2 213 113.3 213.3 114.9 213.4 114.2 213.6 116.1 213.4 115.8 213.3 116.8 213.8 118.4 213.4 118.1 213.9 118.9 213.9 119.5 213.5 120.7 213.4 120.8 213.5 122 213.6 122.9 213.7 122.3 213.5 123.1 213.5 124.6 213 124.2 213 125.3 213.3 127.1 213.1 127.8 213.9 128.7 213.4 129.9 213.3 131.1 213.1 131.6 213.4 133.6 213.4 134.9 213.3 134.4 213.7 134.2 212.9 135.1 213.7 136.7 213.8 137.7 213.5 137.8 213.7 138.6 213.3 138.2 213.9 138.9 213.2 140 213.6 139.3 212.9 140.6 213.3 142.1 213.4 141.3 213.3 143.3 213.5 143.2 213.5 144.9 213.7 145 213.3 145.9 213.3 147.2 213.3 148.4 213 149.6 213.4 149.2 213.7 151.1 213.6 150.5 213.6 154.7 213 155.7 213.6 155.3 213.2 158 213.4 157.6 213.5 158.5 213 158.3 213.3 159.2 213.9 161.4 213.6 161.2 213.6 162.1 213.6 162.8 213.5 162.9 213 163.3 213.9 165.7 213.5 76.7 214.1 78 214.5 80.8 214.5 84.9 214.2 86 214.9 87.1 214.2 87.6 214.6 91.7 214 92.5 214.5 92.6 214.2 95.8 214.2 96.4 213.9 96.4 214.8 97.5 214.8 97.5 214.2 97.5 214.2 98.7 214.2 100 214.2 101.8 214 102.2 214.2 102.8 214.6 103.8 214.1 104 214.5 104.6 214.2 104.6 214 105.3 214.4 105.9 214.3 105.5 214.8 105.6 214.7 105.4 214.3 106.6 214.4 107.9 214.6 108.7 214.3 110.8 214.1 110.5 214.2 111.8 214.2 111.4 214.5 112.3 214.2 114.7 214.4 116 214.8 118.8 214.7 118.1 214.8 119.7 214.7 119.2 214.7 120.5 214.2 121.2 214.9 122.9 214.3 122.2 214.6 124 213.9 123.7 214.6 124.4 214.8 126.5 214.7 126.2 214.5 126.7 214 126.9 214.5 127.5 214.2 128.3 214.4 129.5 214.8 130.8 214.7 130.9 214.7 131.3 214.7 131.6 214.4 133.7 214.4 133.9 214.1 135.1 214.3 135.9 214.3 136.7 214.2 136.2 214.4 137 214.3 138 214 137.1 214.1 138 214.8 138.9 213.9 139.4 214.5 139.4 214.8 140.1 214.1 141.4 214.8 141.2 214.7 142 214.4 143.1 214.3 142.2 214 142.7 214.7 142.6 214 143.5 214.1 143.4 214.7 147 214.5 146.9 214.4 147.8 214.2 148.6 214.2 148.7 214.5 149 214.3 149.9 214.4 149.7 214.8 153.5 214.8 154.5 214.6 155.2 214.8 157.1 214.9 156.7 214.1 160.3 214.7 163.9 214.1 163.9 214.1 164.2 214.4 167.1 214.3 66.1 215.2 70.1 215.3 75.2 215.7 77.9 214.9 79.2 215.7 80.5 215.9 81.9 215.7 84 215.4 86.4 215.8 88.6 215.4 89.3 215.9 92.4 215.1 93.2 215.5 94.7 215.2 94.1 215 95.8 215.1 96.2 215.9 97 215.6 97.1 215.1 98.2 215.5 100.2 215.5 103 215.4 103.2 215.1 104.1 215.7 104.2 215 107.7 215.9 107.3 215.9 107.5 215.7 108.1 214.9 108 214.9 108.9 215 108.7 215.1 110 215.8 109.6 215.3 109.2 215.9 109.9 215.8 111.2 215.6 112.9 215.5 114.1 215.2 113.9 215.4 115.4 215.8 115.6 215.1 117.7 215.6 118.4 215.3 119.5 215.1 119.3 215.8 120.5 215.8 120.4 215.4 122.4 215.4 125.8 215.5 125.2 215.1 126 215.4 125.6 215.6 126.2 215.6 128.9 215.5 129 215.1 129.9 215.2 129.2 215.1 129.4 215.5 130.4 215.3 131.1 215.6 130.3 215.4 132.9 215.9 134.2 215.3 135.5 215.5 135.5 215.8 138.1 215.3 138.1 214.9 138.4 215.4 138.1 215 140.4 215 140.9 215.6 140.4 214.9 140.5 215.9 140.7 214.9 140.7 215.8 141.8 215.1 142.5 215.6 142.3 215.9 144.3 215.4 144.6 215.2 144.3 215.5 145.5 215.2 147.9 215.2 147.3 215.3 149.2 215.8 151.4 215.3 153.1 215.2 160.8 215.5 161.4 215.5 163 215.8 163.1 215.8 163.8 215.6 164.9 215.1 164.7 215.6 164.5 215.6 166.5 215.3 166.9 215.3 60.5 216.5 73.6 216.4 74.5 216.5 75.3 216.4 79 216.3 82.2 216 84.2 216.5 84.6 216 86.4 216.4 86.3 216.1 87.7 216 88.3 216.6 88.3 216.3 88.9 216.8 89 216.2 89.9 216.6 91.4 216.3 92.9 216.5 94 216.5 94.5 216.8 95.1 216.8 96.9 216.2 97.6 216.7 98 216.9 97.9 216.5 98.2 216.4 98.7 216.2 99.8 216.4 99.4 216.6 101.8 216.2 102.5 216.6 102.7 215.9 103.7 216.7 104.3 216.4 104.5 216.1 104.5 216.9 106.4 216.3 107.2 216.3 107.7 216.8 107.7 216.4 108.5 216.2 110.8 216.8 111.4 216.8 111.3 216.1 112.1 216.9 112 216.6 112.4 216.3 112.8 216.3 112.7 216.9 112.4 216 112.9 216.8 117.3 216.6 118 216.6 118.2 216.3 118.6 216.4 120 216.7 119.4 216 120.5 216.5 123.9 216.4 124 216.6 125.1 216.2 126.6 216.4 127.2 216.2 128.6 216.1 128.3 216.6 129.9 216.6 130.9 216.1 130.5 216.8 132 216.1 131.8 216.7 131.2 216 131.9 216.5 132.4 216.4 135.3 216.4 135.2 216.5 136.3 215.9 136.1 216.7 138.3 216.5 140 216.9 140.2 216.5 140.6 216.9 140.5 216.6 140.1 216.6 140.9 216.8 142.3 216.2 143 216.2 143 216.4 144.2 216.1 145.5 216.5 146.2 215.9 149.6 216.2 150.7 216.3 151.3 216.2 151.4 216.6 152.1 216 152.4 216.5 153.1 216.7 154.1 216.6 155.6 216.8 155.6 216 155.5 216.7 156.9 216.5 156.1 216.5 156.8 216.4 157.7 216.5 157.4 215.9 158.3 216.4 158.2 216.5 159.5 216 159.2 216.3 160 216.3 160.3 216.3 161.8 216.8 161.9 216.1 161.8 216.4 162.2 216.8 163.1 216.5 163.7 216.7 165 216.3 72.2 217.1 80.1 217 82.1 217.4 82.1 217.1 83.7 217.5 84.2 217.5 86.8 217.7 88.2 217.2 91 217 92.3 217.8 96.7 217.3 96.3 217 99.8 217.4 100.6 217.2 100.7 217.6 104.1 217.3 104.5 217.5 110.6 217 112.8 217.8 114.9 217.1 115.8 217 116.2 216.9 116.6 217.2 116.8 216.9 117.3 217.5 117.4 217.4 119 217.4 118.3 217 118.3 217.8 123.4 217.7 123.3 216.9 125.3 217.5 127.9 217.3 128.8 217 129 217.6 128.6 216.9 131.6 216.9 132.8 217.7 133.2 217.7 135.8 217.7 135.6 217.5 136 217.7 136.2 217.6 136.2 217.3 137.6 217.5 137.4 217.8 138.1 217.8 138.1 217.2 142 217.3 141.7 217.8 142 217.8 142.3 217.1 142.9 217.4 144.9 217.3 146 217.4 145.9 217 145.7 217.7 145.8 217.2 146.4 217.8 146.6 217.7 146.4 217.2 148.7 217.3 148.9 217.7 150 217.2 150.4 217 150.5 217.7 150.7 217.9 152.2 217.8 152.7 217 152.9 217.7 154 217.7 153.3 217.1 154.1 217.5 154.2 217.3 154.6 216.9 155.2 217.1 155.2 217.8 155.2 217.5 156.8 217.3 156.8 217.4 156.3 217.5 157.5 217.6 157.4 217.4 158.2 217.2 158.8 217 160.7 216.9 161.9 217.2 162.2 217.6 162.2 217.9 163.1 217.7 163.6 217.7 163.6 217 164 217.4 167.4 217.6 68 218.6 73.4 218.1 74.1 218.8 81 217.9 80.6 218.1 81.9 218 82.1 217.9 82.6 218.1 82.9 218.6 85.3 218.1 86.2 218 86.7 218.8 90.4 218.5 91.6 218.1 93.1 218.5 93.8 218.8 95 218.1 94.2 218.6 97 218.4 99.6 218.4 99.6 217.9 101 218.7 102.6 218.2 105 218.3 106.5 218.5 107.2 218.2 108 218.5 108.2 218.7 108.8 218.9 110 218.9 111.1 218.8 110.5 218.2 115 218.7 114.4 218.8 116.8 218.6 117 218.1 119.1 218.9 120.2 218.2 120.2 218.2 121.6 218.8 121.5 218.8 122.4 218.7 123.5 218.1 124.8 218.8 124.9 218.7 126.1 217.9 127.2 217.9 127.2 218.1 128 218.5 127.7 218.4 128.1 218.1 129.4 218.2 129.1 218.5 132.1 218 132.3 218.7 136.1 218.2 135.2 218.2 136.5 218.8 136.6 218.6 137.3 218.9 137.7 218.5 137.6 218 139.5 218 140.1 218.3 140.2 218.8 140.6 218.4 141.1 218.3 143.4 218.8 146.5 217.9 147.3 218.6 147.5 217.9 148.8 218.6 148.2 218.8 150.1 218 150.7 218.3 150.4 218.7 151 218.8 153.1 218.2 153.4 218.1 153.6 218.3 154.2 218.8 157 218.8 157.8 218.2 159 217.9 158.6 217.9 160.5 218.3 161.3 218 162.3 218.5 163.5 218.1 163.3 218.1 164.2 218.4 165.6 218 166.1 218.6 165.7 218 168.6 218.3 175.4 218.5 72.5 219.5 76.9 219 76.9 219 79.8 219.8 79.2 219.6 80.9 219.2 82.2 219.5 83.6 219.8 83.9 219.4 84.7 219.3 86.4 219.2 89.4 219.3 94.9 219.6 94.1 219.3 95.4 219.8 97.4 219.7 98 219 97.4 219 98.5 219.1 100 219.7 99.7 219.4 100.1 219.5 101.3 219.3 103.5 219.5 103.6 219 103.3 219.6 107.5 219.6 107.9 219.4 107.2 219.4 108.5 219.9 108.9 219.2 109.5 219.8 110.6 219.1 111.9 219.7 111.5 218.9 114 219.5 115 218.9 116.5 219.7 118.2 219.7 118.4 219.1 119.7 218.9 119.5 218.9 119.9 219.6 120.4 219.4 120.2 219.1 121.7 219.2 121.6 218.9 126.2 219.3 127.4 219.1 127.1 219.2 129.5 219.7 130.1 219 129.3 219.2 130.3 218.9 131 219.3 134 219.5 133.8 218.9 135.8 219.1 135.8 219.9 136.6 219.7 138.7 219.4 142 219.2 142.9 219.3 143.7 219.4 143.6 219.4 144.9 219.6 149 219.8 148.5 219.6 150 219.7 149.5 219.1 151.1 219.7 150.7 219.8 150.6 219.7 150.1 219.4 151.3 219.7 152.6 219.8 152.4 219.7 152.5 219 153.1 219.1 155.8 219.1 157 219.8 157.1 219.5 158.2 219 161.1 219.5 161 219.6 163.2 219.7 164.4 219.8 165.1 219.3 165.6 219.8 62.8 220.6 77 220.8 84.9 220.1 84.5 220.5 85.8 220.6 86 220.8 86.9 220.5 90.5 220.7 92.1 220.7 92.5 219.9 92.5 220.1 93.8 220.3 93.6 220.5 95.2 220.4 95.4 220.2 96.7 220.2 102.1 220 103 220.8 102.8 220.2 103.5 220 103.6 220.1 104.5 220.2 104.1 220.3 105.4 220.1 106.6 220.7 107.5 220.6 107.2 220.4 108.2 220.7 110.5 220.5 110.5 220.7 111.1 219.9 111.2 220.3 115.6 220.4 117.7 220.2 119 220.7 118.5 220.1 119.9 220.3 119.9 220.5 123.2 220.6 123.8 219.9 123.4 220 125.1 220.2 124.5 220.3 127.5 220.1 127.5 220.3 129.5 220.1 132 220.8 131.4 220.7 132 220.2 132.3 220.7 133.6 220.2 133.6 219.9 134.6 220.2 138.2 220.4 139.8 220.1 141 220.7 140.4 220.8 140.8 220.4 145.6 220 146.7 220.4 148.8 220.6 149.5 219.9 149.3 220.4 150.4 220.7 150.9 220.4 156.6 220.5 161.8 220 161.2 220.1 162.4 220.8 163.8 220.5 166.6 220.7 166.3 220.1 168.4 220.1 58 221.2 74.9 221.3 75.6 221.1 76.6 221.5 79.5 221.6 80.6 220.9 81.6 221.1 82.7 221 85.1 221.2 85.3 221.8 85.6 221.3 86.5 221 89.5 221.8 90.8 221.7 91.9 221.1 91.5 221.8 93 221.8 92.7 221.4 94.6 221.6 95.9 221.5 95.5 221.5 96.7 221.8 96.4 221.7 97 221.3 98.9 221.3 99.8 221.4 99.6 221.3 101 221.2 103.1 221.3 103.2 221.2 106.2 221.6 107.6 221.7 109.6 220.9 110.7 221.5 111.5 220.9 113.2 221.2 113.5 221.2 113.4 221 115.1 220.9 115.2 220.9 116.8 221.1 117.8 221.1 118.4 221.1 118.7 221.1 119.9 220.9 119.8 221.6 119.7 221.1 119.9 221.1 120.6 221.6 121 221 123.1 220.9 122.2 221.1 122.3 221.2 123.8 221.8 125 221 128.7 221 128.5 221.4 129.1 221.6 130.9 221.1 130.2 221.2 130.2 221.2 131.3 221.1 132.9 221.8 132.2 221.2 134 221 134 221.2 135.2 221.3 136.4 221.8 136.6 221.6 137.5 221.6 139.1 221.3 142.3 221.6 144.4 221.5 145.9 221.4 145.9 221.6 147.7 221.8 150.6 221.4 150.7 220.9 152.1 221.6 154.8 221.3 154.7 221.3 155.5 221.8 155.7 221.1 156.7 221.3 157 221.4 157 221.6 156.6 221.3 157.5 220.9 158.5 221 158.2 221.6 158.3 221 158.5 221.4 161.3 220.9 162.8 221.3 163.9 221.6 168 221 171.1 221.3 70 221.9 76.7 222.2 81.9 222.4 83 222.7 82.8 222.4 82.4 221.9 85.4 222.4 88 222.4 87.5 222.1 88.1 222.1 89.3 222.5 90.5 222 90.5 222.7 93.6 222.5 94.2 222.4 95.9 222.7 96.4 221.9 96.7 221.8 96.6 222.2 97.3 221.9 97.8 222.2 101.9 222.1 101.5 221.9 102.7 222.6 103 222.3 102.7 222.4 103.9 222.3 103.2 221.8 104.4 222.1 105.1 222 107.3 222.2 108.9 221.9 110 222 109.7 222.6 109.7 222 110.2 222.5 111.5 222.4 112 222.3 113.5 222 113.6 222.3 113.8 222.4 113.5 222.8 114.3 222.6 114.8 222.1 116.6 221.9 117.9 222.7 118.6 222.8 119.9 222.7 119.5 221.9 121.1 222.3 120.6 222.3 121.2 222 121.6 221.9 124.5 222.5 124.1 221.9 126.5 222.6 126.6 222.1 126.8 222.3 128.4 222.6 129.3 222 133.9 222.6 133.2 222.1 133.7 222.6 134.3 222 135 222.5 135.9 222 138.1 222.3 140 222.7 141 222.4 141.7 222.1 141.1 221.9 142.3 222.1 142.2 222.1 143.3 221.9 143.9 222.6 146.7 222 147.5 222.2 147.6 222.3 148.8 221.9 148.4 222.3 150.7 222.6 150.6 222.6 152 222.3 152.7 222.4 154 222.1 155 222.7 154.7 221.9 155.4 222.4 155.6 222.3 157 222.5 157.5 221.9 158.7 222.2 160.3 222.6 161.7 222 161.5 222 162.4 222.5 164 222.1 163.9 222.5 164.7 222.7 164.5 221.9 165.8 222.4 166.5 222.6 71.1 223 71.5 223.4 75.4 223.3 76.7 222.8 78.9 223.7 80.1 223.4 81.7 223 81.5 223.4 83.9 223.2 84.8 223.6 86.1 223.3 86.8 223 88.7 223 89 223.3 89.9 223.5 91.3 223.4 94.3 223.5 95.9 222.9 95.8 223.8 97.6 223.5 97.2 223.5 98.4 223.5 99.3 222.8 99.8 223.3 99.7 223.4 100.9 222.9 101.1 223.1 101.4 223.7 103.2 223.7 104.8 222.9 105.7 223.6 105.9 223 105.2 222.9 106.1 223.8 107.9 222.9 108.6 223.3 110.5 223.7 114.6 223.3 115.9 223.8 115.9 223.6 116 223.4 120.4 223.2 120.5 223.1 121.9 223.2 121.5 223.3 123.7 223 124 223.4 125.4 223.4 126.3 223 129.2 223.5 130.4 223.5 131.1 223.6 130.2 223 131.7 223.8 133.3 223.4 134 223.3 133.4 223.1 133.8 223.3 135 223.3 134.9 223.8 135.5 223.7 135.9 223.4 136.5 223.5 137.6 222.9 138.1 223.6 138.5 223.6 138.4 223.5 140.2 223.1 141 222.8 141.7 223.4 141.5 223 141.6 223.1 143.2 223.6 144.1 223.8 145.2 223.8 145.4 223 148 223.2 152 223.6 151.6 222.9 152.7 223.4 152.3 223.2 152.7 223.5 153.3 223.5 155.6 223.6 157.9 223.6 157.5 223.5 157.3 222.9 160.2 223.2 160.3 223.2 160.8 222.8 172.4 223.3 69.2 224.3 69.6 223.9 73.8 224.3 75.1 224.1 80.5 224.7 85.1 224.4 86.7 224.8 89.7 224.2 89.4 224.3 90.8 223.8 91.5 224.6 92.8 224.6 95 224 94.4 224 94.6 224.3 95.7 224 96.5 224.2 97.2 224.5 98.3 224.7 100.6 224 100.7 224.6 101.6 224.6 104.5 224.3 104.7 224.2 104.5 224.2 105.4 224.3 105.2 224.2 105.3 224.3 108.1 224.7 109.4 224.4 110.1 224.4 110.7 224.2 111.2 224.6 112.9 224 112.2 224 113.5 224 114.7 224.1 115.9 224 115.3 224.4 116.5 224.6 116.3 224.4 117.8 224.6 119.9 224.7 120.2 224.3 120.6 224.8 122.6 223.9 123.1 223.9 123.1 224.1 122.2 224.7 123.3 224.5 123.3 224.2 124.3 224.5 125.1 224.7 125.4 224.7 126.6 223.9 128.4 224 129.9 224.5 129.6 224.2 129.5 224.2 130.9 224.4 132.5 224.5 132.6 224 133.7 223.8 137 224.4 136.5 224.2 137.3 224 137.5 223.9 139 224.8 138.7 224.7 138.9 224.6 139.5 224.6 140.7 224.1 140.2 224 145 224.5 145.2 224.1 145.8 224.3 145.8 224.1 146.7 223.9 147.3 224.1 150.8 224.5 150.4 224 151.2 224.3 151.3 224.4 151.6 223.8 153 224.1 152.6 224 156.5 224.6 156.7 223.9 156.5 223.9 158.1 224.5 157.1 224.1 157.1 224.2 158.8 224.3 159.1 224.2 160.3 224.5 160.9 224.3 160.6 224.7 160.9 223.9 161.6 224.2 162.8 224.3 163.3 224 165.2 224.6 78.6 225.4 81.9 225 81.8 225.1 82.7 224.8 84 225.4 84.9 224.9 85.6 225.6 86.4 224.9 87.2 225.8 88 225.7 91.5 225.4 92.3 225.6 92.6 225.5 94.7 225.2 98.2 224.9 102 225.6 102.8 225.1 102.3 225.3 102.4 224.8 104.3 225.6 106.1 225.3 106.2 225.6 108.8 225 108.5 225.6 108.7 224.8 110 225.3 111 225 111.8 225.1 114.5 225.4 114.5 225 115.4 225.7 117.8 225.4 119.7 225.2 121.1 225.7 122.6 225.2 123 225 125.5 224.9 126 224.8 125.7 224.9 126.7 225.3 126.5 225.2 126.7 225.8 129.2 224.8 129.7 225.2 130 225.5 132.5 225.2 132.2 225.3 133.4 225.3 134.5 225 135.3 225.7 135.9 225.3 138.1 224.9 139.7 225.6 141.7 225.3 145.3 225.1 147.5 225 147.3 225.1 148.1 225.5 148.2 225.3 149.4 225.4 149.5 225.3 150.7 225.2 151.9 225.7 151.5 225.5 152.7 225.3 152.5 225.2 152.3 225.3 153.7 225.1 154.1 225.5 154.7 225.6 154.7 225.5 154.3 225.5 156.6 224.8 157.5 225 158.9 224.8 158.6 225.3 161.2 225.4 162.1 225.2 67.5 226.5 68.5 226.5 79.5 226.1 83.2 226.7 84 225.8 86.3 225.8 86.9 226.5 89 225.9 88.9 226 89.4 226.4 92 226.5 91.9 226.8 91.2 226 92.5 226.5 94.5 226.4 96.4 226.2 96.8 225.8 97.8 226.6 97.6 226.5 97.4 226.2 97.5 225.8 99.1 226.6 98.3 226.4 99.3 226.3 99.3 226.2 100.5 226.1 100.6 226.3 105.3 226 106.4 225.9 106.9 226.5 106.7 226.5 107.2 226 108.2 226.4 108.1 226.5 110.1 226.5 109.7 226.5 111.1 226.7 112.7 226 113.7 226.3 113.6 226.4 114.3 226.8 114.8 226.2 116 226.2 117.2 226.5 117.5 225.9 118.5 225.8 119.3 225.9 121.8 226.6 121.7 226.1 121.3 226.4 122.3 226.7 123.5 225.8 124 226.7 124.2 226.5 125 225.9 124.2 226.7 124.7 226 125.4 226.3 126.4 226 128.8 226.6 130 226 130 226.5 130.4 226.2 131.7 226.1 135.7 225.8 137 226.2 136.3 226.6 137.9 226.7 138.5 225.9 139.6 225.9 140.3 225.9 140.5 225.8 140.3 226.3 142.4 226.2 143.7 226.7 144.6 226.2 144.9 226.6 144.7 226.2 146 226 145.6 225.8 146.6 225.9 148 226.4 147.1 226.1 150.6 226.6 151.7 226.6 152 226.4 153.7 226.2 153.7 226 156.4 226.1 156.7 226.1 157.2 226.2 158.4 226.5 158.3 226.2 159.5 226.1 161.6 226.3 162 226.7 166 225.9 165.5 226.3 63.9 227.6 80.4 227.5 81 227.1 81.2 227.1 82.5 227.3 83.4 227.1 83.6 227.2 84.1 227.1 86.9 227 87.5 227.4 88.5 226.8 90.9 227.3 90.8 227.4 91.7 227.5 92.1 227.6 93.2 227.5 94.2 227.3 94.1 227.4 96.7 227 96.5 227.6 97.3 227.4 100.8 227.3 100.6 227.4 100.4 226.8 103 226.9 103.5 227.5 104.7 226.8 104.1 227.5 105.7 227.1 107.1 227.5 108 227.3 107.7 227.6 108.8 227.3 109.3 227.7 111.9 227.1 112.1 227.2 113 227.4 112.1 227.2 116.6 226.8 119.1 227.3 118.3 227.4 118.8 227.1 118.8 226.8 118.2 227.1 121.1 226.8 121 227.4 120.7 227.4 123.6 227.5 124.9 227.7 124.4 227.4 127.6 227.6 127.7 227.5 128.7 227.7 128.9 227.2 130.5 227.6 132.2 227.5 133.2 227 133.7 227.4 135.3 227.7 135.9 227 135.9 227.2 137.6 227.5 138.1 227.4 138.3 227.5 138.7 227.6 139.3 227.1 141.8 227.7 141.9 227.5 143.4 227.2 144.3 227.2 144.3 227.7 146.1 227.4 145.2 227.4 147 227.1 146.8 226.9 150.7 227.4 151.9 227 153.8 226.8 154.5 227.5 154.1 227.4 161 227.5 167.8 227.4 71.8 228.5 77.2 228 79.3 228.1 80.9 227.9 82 228.3 81.4 227.8 81.5 227.8 82.9 228.3 84 228.3 84.6 227.8 89.2 228.1 91.9 228 92 228.5 94 228.2 93.1 228.1 94.6 228.5 94.5 228.4 96.1 227.8 98.8 228.4 98.3 227.9 98.8 227.9 99 228.3 99.7 228.5 100.3 228.3 101.4 228.5 101.1 227.9 101.2 228.4 103.4 228.7 103.2 228.4 104.8 228.5 104.9 227.8 104.6 228 105.7 228.3 105.6 227.8 106.5 228.1 107.5 228.1 107.6 228.7 109.5 228.1 110.9 228 113.5 228.1 113.7 228.4 115.4 228.7 115.6 228.3 117.7 228.4 117.6 228.3 117.6 227.8 118.3 228.1 121.9 228.7 122.3 227.9 123.2 228.1 123.4 228.1 125.3 228.2 125.7 228.4 126.4 228.6 127.6 228.5 128.4 227.9 128.2 228.2 128.1 228.4 129.3 228.4 129.1 228.4 131.5 228.1 131.4 228.4 131.6 228.4 135.2 228.4 137.4 228.1 138.6 228.6 139.4 227.9 139.6 228.1 140.9 228.5 140.8 228 141.8 228.2 141.2 228.1 141.2 227.8 141.4 228.7 141.1 228.7 143.1 228 146.9 228.6 148.3 228.6 148.8 228.7 150.4 228 150.9 228.4 150.3 228.3 151.2 228.4 151.8 227.8 152.3 228.4 153.9 227.9 153.7 228.1 154.8 228.6 154.2 227.9 154.4 228.7 156.1 228.7 157.5 227.9 157.2 228.4 157.4 227.9 158.1 228.2 160.2 228.3 161.1 228 163.1 228.6 72.1 229.1 80.5 229.1 80.5 228.9 84.2 229.1 84.8 228.8 86.5 229.3 88.9 229.4 90.4 229.5 92.1 229.1 92.8 229.2 92.6 229.7 92.3 229.4 93.6 229.4 93.1 229.6 93.6 229.4 96.1 229.3 96.3 229.6 96.9 229 97.9 229.1 99.9 229.5 101 228.8 101 228.9 100.9 228.8 102.2 229.5 102.6 228.9 103.8 229.6 106.5 229.4 108.9 229.3 110.3 229 110.6 229.6 111.6 229.4 111.3 229.3 111.1 229 114.2 229.1 114.3 229.5 117.5 229 117.8 229.3 117.7 229.1 118.3 228.9 118.2 229.1 120.5 229.3 122.9 229.5 122.8 228.8 123.2 229.1 123.9 229.1 126.2 229 126.7 229.3 127 228.8 127.2 229.5 128.1 229.3 128.1 229.2 130.8 229.6 130.9 229 131.9 229.5 133.2 228.8 134 229.3 134.3 229.5 134.5 228.8 135.4 229.7 135.3 229 135.4 229.1 137.8 229.5 137.5 229.4 137.1 229.4 138.4 229.6 138.1 228.9 140.2 229.7 141.8 229 142.2 229.3 144.8 229 146 229.5 145.1 228.8 147 228.8 147 229 152 229.6 151.7 228.9 151.4 229.5 153.3 229.7 155.8 229.5 157.2 229.3 161.6 229.3 80.9 230.5 82.8 229.8 83.6 230.6 85.1 229.9 85.3 230.5 86.5 229.7 88 230.5 88.7 230.7 88.9 230.4 91.1 230.1 90.8 229.8 91.1 230.5 91.2 230.5 92.8 230.5 92.3 230.3 95.5 230.6 95.5 230.6 97.2 229.8 98.1 230.5 99.9 230.5 99.8 229.8 100.7 230.2 101 229.9 101.7 230.2 102.5 230.7 103.4 230.3 104.4 230.5 104.2 229.9 105 229.8 109.6 229.8 111.6 230.2 112.5 230.1 112.3 230.2 113.6 230.2 114.9 230.3 118.1 230.6 117.1 230.5 118.7 230.5 118.8 230.4 118.8 230.7 120 230.1 120.7 230.5 120.7 230.2 122.8 230.1 122.7 229.7 123.3 230.3 123.9 230.3 124.3 230.2 125.9 229.9 126 230.3 126.7 230.4 127.9 230.5 128.4 229.8 128.9 230.4 131 230.5 130.7 229.8 130.3 230.7 132.4 230.4 133.4 230.3 133.8 230.1 134.4 230.3 134.2 230.4 134.3 230 135.8 229.9 136.7 229.7 136.1 230.6 137.3 230 137.8 229.8 137.5 229.9 138.2 230.3 141.6 230.7 141.2 229.9 142 230.4 142.3 230.7 144.9 230 145.1 230.6 144.6 230.1 146.6 230.1 146.6 229.8 147.8 230.5 148.3 230.1 148.3 230.3 149.8 230.3 150.1 230.5 150.1 230.5 150.8 229.9 150.5 230.5 151.2 230.2 151.2 230.3 154 229.8 154.1 230.2 157.4 230 158.2 230.2 174.9 230.5 74.3 231.3 75.4 231.1 75.6 231.3 76.9 230.8 79.9 231 82.4 231.4 82.5 230.8 86.5 231.6 87.4 231.4 92.5 231.3 92.5 231.6 94.1 231.4 93.9 231.6 95.2 231.2 96.8 231.2 96.6 230.8 96.9 231.6 99 230.8 99.6 231 99.2 231.6 102.5 230.7 102.7 231.3 102.9 231.2 105.2 230.9 106.4 231.2 106.8 231.6 107.6 231.4 107.5 230.8 107.6 231.1 109.3 231.1 111 230.9 111.7 230.7 111.2 230.9 112.1 231.1 112.5 231.4 114.3 231.2 114.6 231.2 115.1 231 115.5 231.2 115.4 231.6 117 231.2 117.8 231.4 118.6 231 118.6 231.4 121 230.9 120.1 231.2 122.8 231.1 122.4 231.6 123.5 231 126.1 231.5 127 231.6 127.2 231.5 127.1 231.7 127.7 231.6 127.7 231.1 129.3 231.7 129.5 231 130.5 231.2 132.3 230.9 133.4 231.5 133.1 231.2 134.8 231.7 136.1 231.7 136.2 231.1 138.9 231.1 139.4 231 139.7 231.4 139.3 231.4 140.8 231.4 140.5 231.6 140.8 231 141.2 231.1 142.4 230.7 144 231.7 143.6 231.1 143.1 231.5 147.3 231.4 148.6 231 149 231.3 148.4 231.3 149.9 231.4 151 231.5 153.6 231 156.9 231 156.7 231.3 157.7 231.3 74.9 232.1 77.2 232.5 81.8 232.3 83 231.8 84.3 231.7 84.4 232.1 85.1 231.9 88.9 231.9 90.4 232.4 92.6 231.7 93.5 232.6 94.3 231.9 94.5 232.5 95.9 232.2 96.1 231.8 97.3 232.6 97.6 232.4 97.7 232.5 98.3 231.9 99.4 232.2 100.9 232.6 101.2 232.7 102.5 232.4 102.2 232.5 103.9 232.5 104.9 231.9 105.3 231.9 105.1 232.6 106.9 232.5 107.9 232.5 109.8 231.9 109.3 232.5 113.9 232.6 114.5 232.2 116 231.9 117.5 231.9 117.9 231.8 117.2 232 118.4 232.5 118.9 232.7 118.4 232.7 119.2 232 121.6 232.3 122.1 232.6 122.6 232.1 123.2 232.4 123.6 231.8 123.6 231.8 124.2 231.9 124.2 232.2 126 232.5 127.9 232 128 232.2 129.6 232 130.9 232.1 131.5 232.2 133.1 232.3 134 232 134.2 231.9 134.8 232.3 135.9 232 137.8 232 137.4 232.7 137.9 232.6 138.2 232.5 138.4 231.9 139.6 231.8 139.1 232.6 140.6 232.2 141.1 231.8 141.9 232.3 144.3 232.4 146.5 232.1 150.8 232.5 151.7 232.4 152.8 232.1 156.7 231.9 158.7 232 159.8 231.7 77.2 233 80.8 232.8 81.1 233.6 82.3 233.4 88 232.9 88 233.4 89 233.2 88.4 233.2 89.3 232.8 90 233.5 91.2 233.2 91.7 233.6 92.6 233.6 95.9 233.1 96.3 232.9 97.8 233.5 97.4 233.4 98.4 232.8 98.2 233.2 99.3 233.4 100.1 233.6 100 232.8 100.3 232.8 100.4 232.9 105.2 233.1 105.9 233.4 106.1 232.9 106.7 233.4 108 233 107.2 233.3 110.1 233.6 110.2 233 111.8 233.2 112.1 233.5 112.1 232.8 113.2 233.6 115.6 233.3 115.2 233.3 115.3 232.8 116.4 233.1 119 233.2 118.7 233.7 119.8 233.5 120.8 233.2 120.4 232.7 120.8 232.8 120.8 232.8 123.5 232.8 124.8 233.1 125 232.8 125.9 232.9 127.1 233.3 128.8 233.1 128.2 233.1 128.4 233.3 128.9 233.5 128.8 233.2 130.9 233 132.4 233.2 132.8 233.6 133.4 233.3 133.2 232.9 135 233.2 134.5 232.7 137 233 137.1 233.2 137.5 233.5 138.1 233.3 137.9 233.1 140 233.6 140.1 233.5 139.3 233.4 139.9 233.2 143.8 233.6 143.4 233 145.2 232.9 146.7 232.8 147.1 233 151.8 232.9 152.4 233.3 153.3 233.2 65.2 234 71.7 234.6 78.3 233.9 79.8 233.7 81 234.2 80.6 234.4 82.1 234 82 233.9 82.9 233.9 86.6 233.8 86.3 234.3 88.2 234.2 89.2 234.1 90 233.8 90.4 234 91.5 234.5 92 234.1 93.7 234 93.4 234.7 93.4 234.2 94.4 233.8 94.8 234.2 95.6 234.5 97.5 234.2 99.8 234 100 233.9 99.2 234.3 100.7 234.6 101.7 233.8 101.7 234 103.7 234.2 104.7 234.4 105.8 233.8 105.2 234.2 106.3 234.3 109.8 234.4 110.5 234.3 111.4 234.4 111.5 234.6 112.9 234 112.2 233.8 114 234.4 113.8 234.4 114.6 234.5 115.6 234.6 115.8 234.3 116.8 234.5 118.5 234 119.5 233.7 120.2 234.4 121.4 234.5 121.4 234.5 121.3 234.6 123.3 234.1 125.5 234 125.3 234.4 125.9 233.9 125.2 234.2 127.2 234.6 127.5 234.3 129 233.9 128.5 234.4 129.3 234 130 233.9 131.1 234.2 131 234.6 131.8 234.6 131.7 234.1 131.9 233.8 132.5 233.9 133.8 234.1 134.3 234.4 134.1 234.2 135.8 234.4 138.2 233.8 140.7 234.5 140.8 234.4 140.4 234.5 143.6 234.1 147.3 234.1 150.9 234.4 151.5 234.4 162.6 234.3 77.1 235.3 79.8 235.1 80.2 235.1 81.5 234.8 82.7 234.8 82.5 234.8 82.9 235 83.6 235.5 85.4 234.8 85.2 235.1 86.4 235.1 90.1 234.8 90.8 234.7 94.5 234.9 95.9 235.5 95.6 235.2 97.6 234.7 97.1 234.7 99.8 235.5 99.8 235.6 99.9 235.5 100.6 234.8 101.4 235.2 104.7 235.1 105.7 235.2 106.3 235.4 112.9 235.2 113 235.3 112.3 234.8 116.6 235.6 116.5 234.8 116.6 235 117.6 235 119.8 234.7 119.2 234.8 121.5 235.6 123.4 234.7 123.4 235.4 124.7 235 125.2 235.1 126.9 235.3 127.7 235.4 128.4 235.2 128.2 235.4 129.2 235.2 131.9 235.3 132.9 235.5 133.9 235.5 133.4 235.1 133.4 235.3 134.9 234.9 137.6 234.7 138 235 138.1 235.2 140.9 235.3 141.9 235.3 142.8 234.7 142.9 235.1 143.9 235.5 144.9 235.4 147.8 234.7 147.5 234.8 157.8 234.9 157.8 235.5 69.3 236 75.9 236.1 81 236.6 82 235.7 82.6 236.1 84.7 236.5 84.8 236.2 86.8 235.9 87 235.7 87.3 236.5 88.2 236.5 90.2 235.8 90.7 236.1 92.8 236.6 93 236.1 92.4 235.8 93 236.1 93.5 236 93.5 235.9 94.2 236.5 94.9 236.2 95.7 236.2 96.8 236.6 96.5 235.9 96.5 235.7 96.9 236.1 99.6 235.8 99.7 236.6 99.5 236.5 99.9 236.3 100.9 236.1 101 236.1 101.4 236.6 103 235.7 102.8 235.8 104 236.6 103.7 236 104.3 236.3 104.9 236 106.3 236.5 106.2 236.4 106.7 236.2 107.5 235.7 108.3 235.9 111.3 236.3 112.5 236.3 112.4 236.2 113.5 236.5 114 236.2 114.1 235.7 115.1 236.4 115.7 236.6 116.5 236.2 117.1 236 119.7 236.5 120.9 236 123.8 236.2 123.7 236.4 125.1 235.9 126 235.9 126.9 236 127.6 236.4 129.3 235.7 129.5 235.7 130.2 236.1 130.6 236.1 132.7 235.8 132.5 236.5 133 236.3 134.1 236.5 133.5 235.8 133.6 236.5 136.4 235.8 137.3 235.7 138.1 235.7 141.2 235.8 142.3 236 144.2 236.5 145.6 236.2 147.1 236.3 154.1 236.6 161.3 236.2 168.4 236.1 64.4 237.3 69.7 237.5 80 236.9 82.9 237.4 87.1 237.2 87 237.1 87.8 237.3 88.4 237.1 88.2 237.1 88.5 237.5 90.5 237.3 91.6 237.3 93.2 236.9 96.8 237.6 96.4 236.8 97.2 237.2 98 236.8 97.2 237.3 98.2 236.7 99.4 237.6 101.1 237.2 100.7 237.2 102 237.5 101.3 237.1 102.7 236.9 103.8 236.8 103.8 237.6 104.4 237.1 105 237 104.7 236.8 110.3 237.4 111.9 237.2 112.2 237.3 112.6 237.3 113.3 237.1 116 237.5 115.9 237.2 116.1 236.8 117.8 237.2 119.6 237.1 120.4 237.4 121.7 237 122.6 237.2 122.7 237.4 122.4 236.9 122.3 236.8 123.9 236.7 124.4 237.1 125.4 237.6 125.8 237.2 125.7 237.2 125.7 237 126.1 237.4 126.9 236.7 127 237.5 127.4 237.6 132.1 236.8 131.4 237 131.2 237.5 131.4 237.4 132.3 237.1 132.3 237.2 135 237.3 136 236.8 136.6 237.2 137.9 236.8 137.6 236.9 138.8 237.3 138.3 237.4 139.9 237.3 140.9 237.5 141.3 237.1 142.2 236.9 143.1 236.7 144.9 237.4 153.3 237 157 237.2 71.5 238.4 81.5 237.8 85.5 238 87 237.9 89.5 238 94.9 238 97 238.1 98.7 237.7 98.6 237.8 98.4 238.5 98.4 238.4 99.6 238.5 99.7 238.4 101.1 238.1 102.9 237.8 102.6 238.5 104.1 238.2 103.8 238.1 105.8 238.5 106.2 238.6 107.5 238.2 107.1 237.9 108.9 238.6 108.2 238.5 109.4 238.3 110.2 238.5 110.3 238.3 113.5 238.2 113.3 238.2 114.8 238 114.9 237.6 117 238 117.5 238 117.3 238.5 118.4 238.1 118.6 237.9 119.5 238.6 119.4 238.2 121.9 238.3 121.4 237.9 122 238.4 123.3 238.3 123.1 237.7 124.9 238.6 127 238.6 127.3 238.6 129.9 238 132.8 237.7 132.2 238.1 133.7 238 134.2 237.9 136.5 238.6 139.3 237.7 140.3 238.1 140.5 238.5 140.1 237.8 145.1 238.2 144.1 237.7 152 238.2 152.4 238.2 79.8 239.5 82.9 239.1 87 238.8 87.1 239 88.5 239.5 90.4 239.5 91.7 239.3 91.3 238.7 92.9 239.3 93.8 239.4 94 239.1 94.2 238.8 96.9 239.2 97.5 239.5 97.6 239.2 99.1 238.8 101.6 239.5 102.2 238.8 102.9 239.5 105.1 239.6 108 238.9 107.8 238.6 109 239.5 109.5 239 110.8 238.9 111 238.9 114.4 239.2 114.8 238.9 116.6 238.7 117.5 239.3 117.6 239 119 239 119.4 239.6 121.1 238.7 122 239.1 124.3 239.2 124.4 238.9 125.1 238.9 125.9 238.8 127.8 239 127.4 239.1 127.6 239.5 131.3 238.7 131.2 239.5 132.1 238.9 132.4 238.7 133.7 239.3 135 238.8 135.4 239.1 136.6 238.8 139.8 239.1 139.9 239.5 152.3 239 79.6 240.5 82.1 240.5 86.2 239.6 86.7 240.1 86.4 240.4 86.2 240.2 87 240.4 89.7 240.6 91.5 240.4 92 240 92.8 240.3 92.6 240.3 92.6 240.3 94.2 239.8 95.7 240 96.9 240.4 97.6 240.4 100.1 240.5 99.1 240 100.1 240.5 99.9 239.9 100.1 240.5 100.4 240.2 102.1 239.9 102.6 240.4 102.5 240.4 103.6 240.3 103.8 239.9 103.5 240.5 104.1 240.6 104.9 240.4 104.5 239.7 104.7 240.3 105.6 240 105.2 240.4 105.3 240.1 107 239.7 106.9 240.4 107.4 240 107.3 239.8 108.6 239.8 110.8 240.4 110.3 240.1 111.1 240.2 112.2 239.8 113.8 240 114.8 239.9 114.2 239.7 114.9 239.7 114.4 240 116.3 239.8 116.5 239.7 117.4 240.4 118.4 240.3 121.8 239.8 122 240.2 122.1 239.8 123.9 239.8 123.1 240.3 124.4 239.8 125.4 240 125.6 240.5 125.9 239.8 127 240.3 127.4 240.5 127.8 240 127.8 240.5 128.5 239.9 129.2 240.3 129.2 240.2 129.2 240.4 130.5 240 131 239.9 131.4 240.5 132.6 240 134.4 239.7 142.9 239.8 143.2 240.1 83.8 241.1 84.8 241.6 85.2 241.5 87 240.7 88.8 240.6 91 241.3 92.3 240.9 92.6 241.5 93.7 241.3 94.3 241 97 241.3 97.6 241.1 97.3 241.4 99.7 241.3 99.5 241.5 100.6 241.5 100.9 241 101.7 241.4 101.4 240.8 101.1 241.3 103.1 240.8 102.6 241.5 103.5 240.8 104.8 241.3 110 241.2 109.7 240.9 110.7 241 113.2 241.4 113.5 241.5 113.3 240.7 116.6 240.7 117.2 241.2 117.4 240.8 119 240.7 118.7 241.4 119.5 241.1 120.9 240.7 120.8 240.6 120.9 240.9 122.6 241 122.2 241 124.2 241.3 126.2 241.1 126.2 240.9 129 240.6 131.5 241.5 133.4 241.1 135.3 241.5 147 241.3 159.9 240.6 62.4 241.9 86.9 241.8 88.3 241.8 91.5 241.9 93.5 242.4 94.7 242.5 95.2 242.3 97.4 242 99.1 241.7 101.7 241.7 102.7 242.1 104.7 241.8 106.5 242.5 107.4 242.5 107.5 241.7 108.3 242.5 109.1 242.1 109.1 242.1 109.8 241.6 110.6 242.2 112.8 242.4 114 242.6 114.1 242.1 116.2 241.8 116.5 241.9 116.9 241.6 117.5 241.6 117.2 241.7 117.2 241.8 118.1 241.8 118.5 242.1 120.1 241.8 119.2 241.7 120.6 242.1 120.7 242.3 121.2 242.4 122.9 242 123.2 242.5 124.2 241.6 125.3 242.2 125.5 242 125.4 241.6 125.9 242.2 126.7 241.8 126.9 242.2 126.6 241.8 127.2 242.1 129.4 241.7 129.3 242 148.7 242.2 78.2 242.8 79.2 243.5 81.7 242.7 83.9 242.8 85.6 243.4 86.8 242.9 86.6 242.8 87.8 242.7 88.2 243.3 91 242.9 90.8 243.1 91.8 242.6 91.5 243.2 92.8 243.3 93.1 243.5 94 243.1 95 243.3 95.6 243.2 96.4 242.6 96.9 243.4 98.1 243.2 98.5 243 98.6 243.4 101.5 243 102.3 243.5 102.3 242.9 104.1 243.2 103.9 243.5 103.5 242.7 106.4 242.6 107 243.4 108 243.2 107.1 242.9 108 242.9 109.5 243.4 109.3 242.9 109.6 243 110.9 242.8 111.7 243.5 111.9 242.6 112.1 243.5 111.8 242.9 111.5 242.6 112.6 243.4 112.4 243 113.1 243 114.5 242.6 116 242.8 117.2 242.7 117.1 243 118.3 243.5 118.9 243.2 118.8 243.5 119.9 243.1 120.7 242.7 122 243 122.1 243.3 121.6 243.1 121.6 243.2 123.1 243.4 123.9 242.9 124.6 243.1 125 243.4 125.4 243.1 125.5 242.8 125.7 243.2 127.8 242.8 127.6 242.8 134 243 135.3 242.9 137.2 243.3 85.3 244.2 89 244.3 89.6 244 89.4 244.5 91.7 244 92 244.5 93.9 243.7 94.7 244.1 94.4 244.2 95.8 243.8 96.8 243.8 99.8 243.6 99.3 244.4 99.7 243.9 100.8 244.1 100.6 244.1 100.6 244.4 101.4 243.6 101.9 244.4 102 243.7 101.9 243.8 102.4 244.1 103.8 244.2 104.7 243.9 104.4 244.3 105.4 243.9 105.2 244.3 106.6 244.2 106.9 243.6 107.7 244.2 107.8 243.6 107.4 244.1 107.7 244.3 108.9 243.8 109 243.8 108.9 244 109.6 244.2 112 243.9 111.4 244.1 112.8 244.5 112.3 244.4 113.2 243.9 113.6 243.7 115.8 244.4 116.7 244.1 117.5 244.5 117.5 243.8 120.9 244.2 121.8 243.6 124.1 244.5 124.9 244.1 124.8 244 125.6 244 129.7 243.8 132 244.1 135.3 244.1 141.6 243.6 66.8 245.2 86.3 245.5 88.7 245.5 89.4 245.5 97.2 244.8 97.5 245.4 98.8 244.8 98.7 245.2 102.7 245.4 105.1 245.1 105.6 245.1 106.4 244.6 106.5 245.1 107.1 245.5 109 245 109.9 245.1 109.9 244.6 110.5 245.5 110.6 244.9 110.5 244.6 112.2 245.3 113.7 244.6 115.1 244.8 114.2 244.8 115.5 244.6 116.3 245.2 117.9 244.8 118.3 244.9 120.7 245 120.1 245.5 120.5 244.9 120.7 245.5 122.6 244.7 123.4 245.3 124.1 244.9 124.4 245.1 124.8 245.2 130.7 244.6 138.7 244.7 172.5 245 86.1 246 89 245.6 90.6 245.7 96.5 245.9 98.7 245.8 99 246.4 101.7 246.4 101.9 245.8 102.5 246.5 102.4 246.1 103.6 245.8 103.4 246.4 105.4 246.2 106 245.7 106.7 246 107 246.4 107.6 246.1 108.1 245.7 108 246.4 109.5 246.4 111.1 245.8 110.3 246.4 110.2 245.8 112.6 245.6 113.8 246.4 115 245.7 116.2 246.5 118.7 245.7 119.9 246.5 119.2 245.6 121.7 246.1 122 245.9 122.7 245.8 123.3 246.5 126.8 246 90.9 247.2 90.8 247.2 93.2 246.6 95.7 246.5 95.8 247.3 95.7 247.2 101.6 246.9 102.4 246.7 102.1 247 103.2 247.2 103.5 247.5 105.5 246.6 106.1 246.8 106.1 247.3 106.8 246.6 106.5 246.7 106.4 247.1 107.1 246.6 109.2 247.1 110.2 247.2 110.9 246.6 111.5 247 111.3 246.6 112.3 246.8 113.2 247.2 114 247.5 113.6 246.7 115.2 247 115.4 247 117.9 247.2 118.9 247.1 119.1 247.2 120.2 247.4 127.3 247.3 78.4 247.6 91.2 248.2 98.8 248.5 100.4 248.3 104.1 247.5 106 248.4 107.9 248.2 108.4 247.6 108.6 247.6 109.7 248.2 114.5 248 115.7 247.8 117.8 247.8 117.2 248.3 117.2 247.6 117.2 247.5 117.6 248 120.5 248.2 120.1 248.1 122.6 247.7 138.4 248.3 85.4 248.8 85.6 248.6 99.6 249.5 106.6 248.9 108.7 249.1 108.3 249.1 109.8 248.7 110.7 248.9 112.1 249.4 111.8 248.7 129.5 249 86 249.5 93.7 250.1 107.8 249.6 119.3 249.9 127 249.6 149.1 249.9 76.1 250.6 76.9 250.9 80.2 250.6 81.1 250.8 91.5 251.2 97.7 250.6 100.7 250.6 104.9 250.7 104.3 251.3 106 251.1 112.9 251.1 112.9 250.6 116 251.3 125.6 250.9 134 251.3 137.2 251.1 100.2 251.8 118.1 251.9 161.8 252.4 106.8 252.8 114.5 252.5 132.7 253.2 81.8 254.1 83.6 254 86.8 254 96.8 253.5 118.9 254.1 120.1 253.9 79.4 254.7 97 254.4 107.4 254.9 93.5 256 96.4 255.5 110.3 255.8 112.8 256.4 123.7 256.9 124.6 257 76.1 258.3 123.1 257.5 93.3 260.3 115.9 259.8 117.4 259.5 126 259.7 105 261 64 189.2 79.3 184.4 84.4 179.1 103.6 195.2 112.7 194.5 117.3 180.1 120.7 178.3 122.7 184.6 123.3 186.6 132 177.4 138 177.4 136 180.6 143.3 185.3 140.3 188 150.7 184.9 166.7 185.3 168.7 187.3 169.6 188 182.4 184.4 152.7 192.5 158.9 193.2 166.7 191.9 170 192.5 169 199.1 169.2 199.3 175.6 198.6 169.2 204.7 178.9 206.1 183.3 206.5 175.6 213.4 175.6 222.4 171.9 227.9 171 234.2 173.8 234.7 177 233.6 166.5 230.5 62.7 202.1" class="rg"/>
<path d="M357.8 40.1h0M294.8 41.2h0M297.8 43.9h0M304.2 43.7h0M287.2 44.1h0M303.1 44.8h0M301.4 48.2h0M300.1 49.3h0M314.9 49.8h0M276.5 50.5h0M313 50.7h0M332.6 50.8h0M350.9 50.9h0M305.9 51.5h0M328.6 51.8h0M363.3 51.4h0M303.3 52.3h0M317 52.1h0M317.2 52.1h0M329.5 52.3h0M288.4 53.3h0M313.1 53.1h0M317.1 54h0M319.2 53.5h0M324.6 53.9h0M326.6 53.4h0M296 54.6h0M319.2 54.8h0M336.6 54.2h0M277.9 55.6h0M291.5 55.4h0M301.4 55.4h0M306.2 55.5h0M321 55.7h0M351 55.6h0M353.3 55.4h0M287.1 56.5h0M288.8 56.8h0M294.1 57h0M300.6 56.2h0M305.7 56.9h0M305.9 56.5h0M306.1 56.7h0M314.3 56.6h0M328 56.9h0M342.5 56.5h0M350.8 56.4h0M351.8 56.3h0M361.5 56.8h0M364.8 57h0M281.9 57.1h0M292.8 57.6h0M305.3 57.7h0M310.8 57.5h0M313.2 57.5h0M316.1 57.7h0M324.6 57.2h0M328.4 57.2h0M329.3 57.1h0M349.6 57.4h0M355.2 57.5h0M360.6 57.1h0M301.6 58.4h0M307.8 58.6h0M308.9 58.7h0M314.4 58.9h0M315.1 58.4h0M316.1 58.8h0M324.2 58.7h0M325.1 58.3h0M326.1 58.7h0M331.1 58.5h0M331.9 58.9h0M331.7 58.8h0M335.9 58.1h0M336.1 58.4h0M339.1 58.6h0M340.7 58.7h0M351.5 58.6h0M353.5 58.8h0M353.5 58.7h0M371.4 58.6h0M308.6 59.2h0M311.8 59.9h0M323.1 59.2h0M324.9 59.1h0M327.7 59.6h0M332 59.7h0M334.5 59.3h0M335.9 59.4h0M338.7 59.1h0M340.8 60h0M345 59.5h0M344.6 59.5h0M347.9 59.8h0M349.6 59.2h0M354.9 59.5h0M354.4 59.1h0M356.5 59.2h0M361.6 59.8h0M282.9 60.9h0M284.1 60.1h0M295.8 60.3h0M297.2 60.6h0M310.1 60.3h0M316.2 60.1h0M316.6 60.7h0M320.4 60.1h0M321.4 60.3h0M333.3 60.2h0M334.3 60.1h0M336.8 60.4h0M343.1 60.7h0M343.2 60.1h0M345.3 60.1h0M349.3 60.1h0M364.6 60.9h0M286.4 61.7h0M287.7 61.2h0M294 61.5h0M294.9 61.9h0M294.5 61.9h0M295.8 61.1h0M300.3 61.7h0M301.1 61h0M301.3 61.3h0M301.9 61.1h0M303.8 61.8h0M305.9 62h0M308.1 61.7h0M310 61.8h0M314.2 61.4h0M318.5 61.9h0M321.6 61.7h0M322.7 61.3h0M327.3 61.5h0M329.3 61.4h0M332.3 61.4h0M333.5 61.4h0M341 61.3h0M340.4 61.5h0M344.3 61.7h0M345.9 61.8h0M346.6 61.8h0M347.4 61.8h0M352.9 61.7h0M354.8 61.6h0M354.5 61.1h0M358 61.4h0M361.6 61.2h0M362.2 61.6h0M363.7 61.1h0M274.8 62.9h0M276.9 62.8h0M281.8 62.4h0M291.4 62.7h0M293.6 62.7h0M294.7 62.4h0M294.4 62.1h0M299.8 62.7h0M306.2 62.5h0M310.3 62.7h0M312.8 62.3h0M314.1 62.8h0M314.7 62.3h0M316 62.6h0M319.9 62.8h0M320.6 62.4h0M320.3 62.1h0M327.3 62.5h0M328.5 62h0M337.3 62.6h0M342.8 62.2h0M343.8 62.7h0M346 62.6h0M362.6 62h0M279.2 63h0M284.2 63.7h0M296.2 63.4h0M302.2 63.4h0M304.4 63.1h0M308.9 64h0M312.1 63.2h0M311.7 63.1h0M315.6 63.9h0M323.8 63.1h0M323.4 63.7h0M330.1 63.6h0M329.1 64h0M332.2 63.2h0M332.9 63.9h0M334.6 63.2h0M335.3 63.3h0M337.4 63.5h0M343.6 63.1h0M344.6 63.2h0M346.4 63.1h0M350.2 63.8h0M353.1 63.9h0M357.4 63.3h0M362.7 63.8h0M364.4 63.8h0M269 64.7h0M278.8 64.6h0M281 64.3h0M283.5 64.4h0M292.8 64.7h0M294.1 64.5h0M299.4 64.6h0M299.5 64.1h0M300.4 64.6h0M301.8 64.9h0M303.3 65h0M310.5 64.7h0M315.2 64.4h0M319.4 64.2h0M322.4 64.3h0M325.6 64.6h0M326.2 64h0M326.8 64.3h0M326.7 64.1h0M327.6 64h0M328.2 64.7h0M328.7 64.9h0M329.3 64.3h0M332.9 64.6h0M336.9 64.6h0M336.5 64.8h0M338.8 64.7h0M339.5 64.8h0M341.4 64.8h0M347.5 65h0M351.2 64.2h0M367.2 64.3h0M367.3 64.2h0M278.9 65.9h0M287.9 65.1h0M290.3 65.7h0M292.3 65.8h0M293.9 65h0M296.1 65.7h0M297.4 65h0M297.3 65.5h0M299.1 65.4h0M302.8 65.1h0M302.6 65.1h0M305.2 65h0M306.4 65.4h0M307.1 65.9h0M313.6 65.9h0M314.4 65h0M315.5 65.2h0M318.9 65.2h0M319.6 65h0M320.1 65.9h0M322.9 65h0M325.2 65.5h0M327.4 65.4h0M328.8 65.8h0M330.9 65.5h0M332 65.4h0M334 65.6h0M334.9 65.9h0M335.1 65.7h0M335.9 65.4h0M336.7 66h0M336.8 65.1h0M336.9 65.2h0M338.3 65.3h0M338.9 65.4h0M339.1 65.4h0M339.4 65.1h0M341.6 65.5h0M341.2 65h0M344 65.8h0M347.3 65.9h0M359 65.1h0M370.8 65.1h0M377.5 65.5h0M279.9 66.1h0M282.9 66.3h0M293.6 66.3h0M294.2 66.6h0M296.2 66.6h0M304.4 66.8h0M304.7 66.1h0M305.4 66.3h0M306.3 66.5h0M306.9 66.9h0M309 66.8h0M311.6 66.6h0M315.1 66.2h0M314.9 66.8h0M315.2 66.8h0M320.2 66.8h0M322.4 66.6h0M322.5 66.9h0M323.2 66.2h0M325.3 66.3h0M328.3 66.3h0M331.7 66.6h0M333 66.2h0M337.6 66.8h0M338.2 66.7h0M340.1 66.1h0M340.5 66.5h0M344 66.6h0M346.9 66.3h0M349.8 66.6h0M352 66.8h0M358.7 66.1h0M371.4 66.2h0M264.8 67.2h0M269.7 67.8h0M277 67.8h0M280.9 68h0M282.1 67.4h0M296.9 67.8h0M297.2 67.9h0M302.3 67.4h0M303.7 67.4h0M306 67.6h0M308.3 67.4h0M310.8 67.8h0M312.1 67.5h0M315.4 67.6h0M317.3 67.2h0M320.1 67.8h0M319.3 67.6h0M320.4 67.4h0M324.9 67.7h0M326.3 67.5h0M328.2 67.2h0M330.1 67.1h0M331.1 67.7h0M330.9 67.2h0M330.5 67.6h0M333.7 67.2h0M337.2 67.2h0M338 67.3h0M337.8 67.6h0M337.5 67.7h0M342.1 67.7h0M342.5 67.2h0M344.1 67.7h0M347.7 68h0M349.8 67.1h0M354.4 67.3h0M355.2 67.8h0M373.1 67.9h0M266.7 68.8h0M286.4 68.9h0M286.7 68.9h0M286.9 68.2h0M296.6 68.6h0M296.8 68.3h0M296.3 68.1h0M299.6 68.1h0M299.5 68.4h0M305.6 68.2h0M307 68.3h0M310.5 68.8h0M312.4 68.2h0M314.9 68.4h0M324 68.6h0M329.5 68.4h0M334.1 68.8h0M334.9 68.8h0M337 68.2h0M336.7 68.2h0M336.3 68.2h0M338 68.6h0M338.5 68.3h0M338.7 68.9h0M341.9 68.5h0M347.3 68.8h0M347.4 68.6h0M351.1 68.9h0M353.1 68.2h0M353.8 68.2h0M355.1 68.8h0M356.4 68.3h0M356.4 68.4h0M359.2 68.7h0M360.2 68.5h0M365.1 68.2h0M364.6 68.8h0M365.7 68.4h0M377.7 68.9h0M271.7 69.9h0M282.6 69.1h0M288.1 69.4h0M301.5 69.9h0M302.2 69.6h0M309.9 69.8h0M311.8 69.6h0M312.2 69.6h0M315.6 69.2h0M317 69.7h0M316.2 69.2h0M317.5 69h0M318.5 69.5h0M318.2 69.5h0M320.8 69.3h0M322.4 69.9h0M327.3 69.8h0M332.2 69h0M333.4 69.6h0M337.1 69.1h0M337.3 70h0M338.9 69.5h0M343.6 69.8h0M344.7 69.4h0M352.9 69.4h0M360.3 69.2h0M361.5 69.6h0M368.4 69.1h0M269.1 70.8h0M280.6 70.9h0M282.4 70.6h0M295.9 70.9h0M299.9 70.6h0M300.9 70.4h0M302.7 70.7h0M306.2 70.6h0M306.9 70.3h0M309.7 70.3h0M314 70.5h0M318.1 70.7h0M319.1 70.9h0M320.5 70.8h0M322 70.9h0M324.8 71h0M326 70.5h0M325.5 70.7h0M329.2 70h0M330.7 70.5h0M333.5 70.5h0M333.6 70.7h0M337 70.6h0M336.3 70.7h0M336.5 70.3h0M337.4 70.4h0M338 70.8h0M340.1 70.1h0M342.6 70.1h0M346.2 70h0M346.7 70.5h0M348.9 70.6h0M353.5 70.9h0M354.8 70.7h0M356 70h0M356.3 70.5h0M360.1 70.6h0M359.5 70.8h0M366.6 70.6h0M374 70.6h0M272 71.6h0M278.2 71.3h0M279.4 71.4h0M280 71.1h0M280.9 71.9h0M283 72h0M286.7 71.7h0M286.4 71.4h0M286.8 71.7h0M289.1 71.4h0M292.6 71h0M293.8 71.7h0M293.2 71.3h0M297.3 71.4h0M300.4 71.7h0M301.6 71.5h0M304.1 71.1h0M306.2 71.8h0M308.5 71.7h0M309.3 71.1h0M310.9 71.2h0M313.1 71.4h0M312.3 71h0M317.2 71.6h0M319 71.1h0M320.7 71.7h0M322.8 71.9h0M323.7 71.3h0M324.5 71.9h0M326 71.3h0M326.3 71.8h0M328.2 71.5h0M328.2 71.1h0M331.1 71.7h0M332.1 71.6h0M332.6 71.8h0M333.9 71.4h0M339.6 71.4h0M339.1 71.8h0M340.4 71.1h0M341.3 71h0M345 71.2h0M344.6 71.5h0M345.1 71.7h0M346.8 71.9h0M346.2 71.9h0M346.3 71.5h0M348.3 71.9h0M349.6 71.8h0M352.7 71.4h0M355.2 71.5h0M356.4 71.2h0M358.6 71.7h0M359.1 71.1h0M366.2 71.3h0M371.7 71.9h0M260.5 72.6h0M270.8 72.5h0M270.8 72.7h0M272.5 72h0M274.6 72.5h0M277.3 72.9h0M281 72.4h0M285.7 72.1h0M288.1 72.2h0M290.4 72.7h0M292 72.3h0M292.1 72.2h0M295.1 72h0M294.7 72.9h0M295.6 72.3h0M302.9 72.6h0M303.2 72.6h0M306.7 72.8h0M312.8 72.7h0M312.8 72.6h0M314.5 72.4h0M316 72.7h0M316.5 72h0M317.5 72h0M317.9 72.6h0M318.7 72.4h0M321.3 72.9h0M322.5 72.2h0M325 72.7h0M328.6 72.9h0M335.8 72.4h0M337.2 72.7h0M340 72.8h0M343.8 72.7h0M344.3 72.4h0M345.3 72.8h0M346 72.5h0M346.8 72.3h0M350.2 72.2h0M354.5 72.4h0M354.6 72.1h0M357.6 72.2h0M359.3 72.9h0M361.8 72.4h0M363.9 73h0M384.4 72.4h0M250.5 73.7h0M266.4 73.9h0M268.9 73.2h0M274.6 73.6h0M282.1 73.8h0M288.8 73.6h0M288.6 73.2h0M292.1 73.7h0M293.7 73.1h0M298.3 73.3h0M299.5 73.9h0M301.3 73.6h0M304.3 73.7h0M306 73.4h0M305.2 73.7h0M307.5 73.4h0M309.7 73.1h0M318.2 73.3h0M322.4 73.9h0M324.8 73.1h0M327 73.9h0M326.3 73.1h0M328.7 73h0M331.6 73.9h0M334.1 73.7h0M333.5 73.8h0M334.6 73.7h0M336.4 73.4h0M337.5 73.3h0M337.6 73.3h0M341.6 74h0M342.6 74h0M342.2 73.1h0M343.9 73.8h0M344.6 73.9h0M346.9 73.7h0M346.3 74h0M347.3 73.8h0M350.2 73.3h0M352.8 73h0M353.2 73.5h0M355.1 73.2h0M355.4 73.6h0M357.4 73.2h0M357.9 73.3h0M357.8 73.1h0M367.5 73.6h0M262.5 74.6h0M265.5 74.6h0M266.6 74h0M268.2 74.1h0M272.2 74.4h0M285.1 74.5h0M286.3 74.5h0M292.8 74.8h0M297.8 74.5h0M300.9 74.8h0M300.7 74.8h0M301.3 74.4h0M304.1 74.5h0M307.9 74h0M308.4 74.8h0M308.5 74.1h0M309.6 74.9h0M312.8 74.2h0M313.6 74.8h0M314.3 74.9h0M322.9 74h0M323.4 74.1h0M323.2 74.8h0M323.2 74.4h0M324.9 74.3h0M326 74.6h0M331.1 74.3h0M331.1 74.8h0M331.7 74.4h0M331.8 74.8h0M334.2 74.3h0M336.7 74.4h0M337.6 74h0M337.7 74.8h0M338 74.3h0M338.7 74.9h0M339.6 74.3h0M340.1 74.3h0M342 74.4h0M342.8 74.4h0M345 74.8h0M346.3 74.1h0M346.5 74.2h0M350 74.5h0M353.1 74.3h0M354.1 74.9h0M355.9 74.2h0M355.1 75h0M372.8 74.2h0M372.2 74.5h0M269 76h0M268.2 75.7h0M275.5 75.9h0M276.1 76h0M278.6 75.7h0M283.6 75.4h0M286.3 75.7h0M288.1 75.2h0M292.9 75.7h0M292.9 75.4h0M293.9 75.9h0M293.8 75.7h0M294.7 75.8h0M295.5 75.9h0M299.9 75.5h0M304 76h0M309.6 75.3h0M310.6 75.2h0M310.6 75.3h0M312.1 75.5h0M312.5 75.7h0M314.7 75.4h0M314.3 75.4h0M315.3 75.4h0M315.5 75.4h0M316.7 75.1h0M316.1 75.1h0M316.9 75.9h0M318.2 75.6h0M319.3 75.3h0M321.1 75.9h0M321.4 75.5h0M321.7 75.4h0M327.6 75.2h0M329 75.7h0M329.6 75.6h0M329.2 75.1h0M332.3 75.5h0M333.4 75.4h0M334.3 75.2h0M334.2 75.5h0M336.8 75.5h0M338.7 75.7h0M340.8 75.5h0M345.4 75.2h0M353.3 76h0M354.4 75.6h0M354.6 75.9h0M357.3 75.2h0M359.5 75.6h0M387.1 75.9h0M266.8 76.3h0M275 76.1h0M278.9 76.2h0M281.2 76.7h0M285.2 76.6h0M288.6 76.8h0M290.3 76.9h0M291.7 76.3h0M295.8 76.4h0M296.3 76.3h0M296.6 76.4h0M296.9 76.3h0M297.8 76.6h0M299.8 76.3h0M300.1 76.1h0M300.8 76.6h0M304 76.5h0M303.9 76.3h0M304.1 76.7h0M303.9 76.3h0M306.2 77h0M307.2 76.7h0M309.3 76.9h0M310.1 76.6h0M311.6 76.1h0M311.4 76.2h0M312.1 76.8h0M313.1 76.7h0M313.4 76.8h0M315 76.7h0M317.6 76.5h0M321.7 76.2h0M321.9 76.2h0M323.5 76.6h0M323.8 77h0M325.4 76.9h0M326.4 76.6h0M326.5 76h0M327.1 76.3h0M330.5 76.6h0M332.9 76.5h0M337.9 76.8h0M338.8 76.9h0M340.5 77h0M342.1 76.7h0M342.6 76.7h0M343.9 76.7h0M343.9 76.9h0M345.5 76.8h0M346.5 76.4h0M348.7 76.3h0M351.9 76.2h0M352.9 76.1h0M352.3 76.3h0M357.9 76.5h0M357.4 76.9h0M357.6 76.8h0M358.1 76.6h0M364.7 76.8h0M365.3 76.9h0M273.9 77.9h0M276.1 77.4h0M277.9 77.5h0M279.9 77.3h0M280.6 77.3h0M282.1 77.4h0M281.6 77.4h0M291.4 77h0M292.9 77.2h0M293.4 77.2h0M293.3 77.2h0M296 77.9h0M297.1 77.4h0M296.2 77.1h0M298.4 77.3h0M302.5 77.4h0M305.5 77.2h0M305.3 77.1h0M306.5 77.2h0M311.1 77.5h0M312.8 77.7h0M312.7 77.8h0M312.5 77h0M312.7 77.7h0M313.1 77.1h0M314.5 77.1h0M318.5 77.7h0M323.4 78h0M323.4 77.1h0M327 77.6h0M327.4 77.3h0M328.6 77.3h0M331.1 77.5h0M331.3 77.3h0M332.3 77.4h0M337.5 77.8h0M338.1 77.3h0M337.5 77.4h0M338.8 77h0M347.1 77.8h0M349.9 77.5h0M353.6 77.2h0M353.7 77.9h0M353.7 77.9h0M353.3 78h0M358 77.9h0M358.5 77.9h0M365.4 77.9h0M366.9 77.5h0M371.9 77.4h0M275.5 78.6h0M279.4 78.3h0M281.9 78.5h0M284.3 79h0M285.8 78.4h0M285.4 78h0M286.8 78.3h0M289 78.4h0M289.9 78.3h0M290.5 78.4h0M293 78.1h0M295.6 78.1h0M297.1 78.2h0M296.6 78.4h0M298.4 78.8h0M299.7 78.7h0M300.5 78.3h0M302 78.7h0M302 79h0M307.1 78.5h0M307.2 78.6h0M307.1 78.2h0M310.9 78.7h0M312.1 78.7h0M312.6 78.3h0M322.5 78.9h0M323.9 78.9h0M323.8 78h0M323.4 78.6h0M323.8 79h0M324 78.1h0M327 78.9h0M326.9 78.9h0M327.5 78.1h0M329.9 78.9h0M330.2 78.4h0M331.3 78h0M333.6 78.6h0M334.5 78.2h0M337.2 78.2h0M337.8 78.7h0M341.1 78.7h0M343.9 78.3h0M344.3 78.8h0M344.6 78.9h0M344.7 78.9h0M344.4 78.8h0M348.9 79h0M350.8 78.8h0M353.3 78.3h0M354.6 78.9h0M354.1 78.3h0M356.8 78.3h0M357.4 78.5h0M362.3 78.4h0M256.2 79.2h0M266.6 79.8h0M273 79h0M273.4 79.3h0M277.8 79.8h0M277.7 79.4h0M277.4 79.4h0M280.7 79.8h0M280.4 79.2h0M280.5 80h0M280.8 79.8h0M281.9 79.9h0M282.7 79.7h0M282.7 79h0M283.4 79.9h0M284.1 79.5h0M285.3 79.6h0M287.7 79.9h0M289.3 79.5h0M294.9 79.4h0M297.6 79.4h0M298.2 80h0M299.1 79.8h0M300 79.9h0M299.2 79.7h0M299.3 80h0M301.6 79.4h0M302.2 79h0M302.8 79h0M302.8 79.2h0M304 79.3h0M305.6 79.8h0M307 79.1h0M307.4 79.7h0M308 79.7h0M308 79.9h0M308.8 79.4h0M310.1 79.3h0M310.7 80h0M310.2 79.7h0M314.8 79.4h0M314.2 79.1h0M314.9 79.2h0M315.8 79.1h0M315.3 79.7h0M317.6 79.6h0M318.6 79.5h0M318.8 79.5h0M319.5 79.4h0M321.6 79.1h0M321.2 79h0M321.5 79h0M321.3 79.3h0M322.8 79.9h0M325.9 79.5h0M330 79h0M330.6 79.2h0M335.5 79.5h0M339.8 79.4h0M348.3 79.8h0M348.3 79.9h0M350.9 79.2h0M352.2 79.1h0M356 79.4h0M357 79.7h0M357.8 79.4h0M369.7 79.7h0M275.3 80.7h0M283.2 81h0M285.7 80.2h0M290 80.8h0M290.4 80.6h0M290.8 80.8h0M292.5 80.5h0M292.9 80h0M293.3 80.7h0M294 80.5h0M293.4 80.9h0M295.3 80.6h0M297.3 80.6h0M299.8 80.6h0M299.4 80.8h0M299.5 80.4h0M301.9 80.6h0M301.7 80.9h0M304.5 80.3h0M312 80.4h0M313.9 80.1h0M314.8 80.9h0M314.6 80.4h0M316.2 81h0M317.2 80.2h0M317.6 80.4h0M319.4 80.9h0M321.2 80.6h0M321.4 80.3h0M321.9 80.2h0M321.6 80.2h0M322.3 80.4h0M322.1 80.8h0M323.4 80.2h0M326.6 80.3h0M326.7 80.9h0M328.2 80.8h0M329 80.7h0M331 80.4h0M332.4 80.7h0M335 80.7h0M335.8 80.1h0M336.3 80.1h0M336.8 80.1h0M336.5 80h0M337.2 80.4h0M339.7 80.7h0M341.8 80.7h0M341.3 80.5h0M342.9 80.2h0M342.6 80.5h0M344.9 81h0M349.5 80.7h0M349.7 81h0M355.2 80.2h0M272.4 81.2h0M276.2 81.2h0M277.3 81.7h0M281.2 81.9h0M286.9 81.1h0M289.1 81.6h0M291.4 81.4h0M296.7 81.6h0M299.5 81.3h0M300.9 81.6h0M300.9 81.1h0M301.2 81.3h0M302 81.7h0M303 81.2h0M302.9 81.8h0M304.9 81.5h0M304.5 81.8h0M306.1 81.9h0M306 81.1h0M305.9 81.7h0M306.3 81.2h0M306.6 82h0M307.5 81.7h0M310.3 81h0M310.7 81.7h0M311.3 81.5h0M312.4 81.2h0M312.9 81.3h0M313.6 81.6h0M316.2 81.6h0M319.1 81.9h0M319.5 81.6h0M321.1 81.3h0M322.5 81.1h0M322.6 81.6h0M327.8 81.5h0M329 81.2h0M329.6 81.5h0M332 81.2h0M333 81.7h0M338.2 81.1h0M340.9 81.4h0M345.4 81h0M347.8 81.2h0M348.1 81.5h0M350.9 81.3h0M351.3 81.9h0M352.4 81.1h0M353.5 81.2h0M354.9 81.1h0M356.3 81.8h0M360.1 81.8h0M367.7 81.7h0M262.3 82.2h0M269.4 82.9h0M270.1 82.7h0M271.1 82.5h0M277.7 82.1h0M281.3 82.5h0M282.8 82.5h0M283.2 82.1h0M285.2 83h0M285.5 82.2h0M289 82.9h0M291 82.6h0M290.8 82.8h0M294.1 82.7h0M296.5 82.6h0M296.8 82.7h0M298 82h0M297.2 82.9h0M298.9 82.3h0M299.4 82.6h0M306.3 82.1h0M306.2 82.3h0M307.6 82.5h0M307.6 82.6h0M309.4 82.8h0M309.2 83h0M310 83h0M312 82.7h0M313.3 82.8h0M314.9 82.8h0M314.2 82.4h0M316.3 82.8h0M319.7 82.8h0M319.5 82.6h0M323.1 82.5h0M322.4 82h0M324.2 82.7h0M326.3 82.6h0M327.1 82.7h0M329 82.2h0M328.4 82.3h0M330.1 82.2h0M331.1 82.3h0M331.4 82.5h0M332.3 82.2h0M337.5 82.2h0M341.4 82.3h0M343.5 82.9h0M346.2 82.9h0M350.4 82.8h0M355.1 82.3h0M383.5 83h0M265.7 83.8h0M268.4 83.5h0M272.1 83.1h0M272.4 83.2h0M273.3 83.2h0M280.4 83.3h0M282.1 83.3h0M284.9 84h0M287 83.9h0M287.8 83h0M288.2 83.9h0M289.7 83.3h0M289.9 83.9h0M289.5 83.4h0M290.2 83.7h0M294.6 83.4h0M298.1 83.6h0M297.4 83.7h0M297.2 83.5h0M300.1 83h0M300.7 83.3h0M302.6 83.9h0M303.1 83.2h0M305.8 83.9h0M305.6 83.2h0M310 83.6h0M310.5 83.3h0M310.3 83.2h0M313.7 83.8h0M315.3 83.6h0M316.7 83.2h0M317 83.5h0M316.2 83.2h0M317.4 83.6h0M317.9 83.3h0M318.7 83.8h0M319.4 83.1h0M319.9 83.6h0M320.4 83h0M325.5 83.4h0M326.7 83.3h0M326.5 83.2h0M327.6 83.7h0M329.1 83.4h0M329.7 83.3h0M330.9 83.2h0M332.2 83.7h0M334.1 84h0M334.7 83.1h0M335.7 83.2h0M336.3 83.5h0M340.8 83.9h0M343.5 83.9h0M347 83.4h0M346.7 83.7h0M347.5 83.8h0M347.3 83.6h0M350.9 83.8h0M350.1 83.6h0M352.6 83.1h0M355.3 83.5h0M355.2 84h0M359.2 83.6h0M266.5 84.3h0M274.2 84.6h0M277.4 84.7h0M279.2 84.8h0M282.9 84.7h0M283.2 84.4h0M286.2 84.5h0M287 84.5h0M288.5 84.7h0M288.7 84.1h0M289.5 84.2h0M291 84.2h0M292.3 84.5h0M293.8 84.5h0M294.1 84.9h0M295.3 84.1h0M295.5 84h0M295.9 84.9h0M296.4 84.9h0M296.4 84.7h0M297.3 84.8h0M298.6 84.5h0M299.3 84.3h0M299.9 84.6h0M300.9 84.8h0M302.7 84.8h0M302.5 84.4h0M303.5 84.9h0M304.3 84.9h0M306.8 85h0M314.2 85h0M315.3 84.6h0M316.7 84.4h0M316.5 84.3h0M320.4 84h0M320.8 84.8h0M320.3 84.7h0M322.1 84.6h0M322.4 84.2h0M325.6 84.6h0M328.9 84.7h0M328.2 84.1h0M330.1 84.3h0M332.9 84.1h0M333.4 84.5h0M335 84.2h0M334.1 84.2h0M334.8 84.6h0M336.3 84.7h0M339.2 84.8h0M339.2 84.7h0M340.4 84.4h0M341.3 84.8h0M341.9 84.3h0M257.9 85.8h0M271.8 85.2h0M274.7 85.2h0M278.6 85.5h0M279.3 85h0M281.4 85h0M282.2 86h0M287.6 85.6h0M291.5 85.6h0M292.4 85.4h0M295 85.1h0M295 85.6h0M294.4 85.9h0M295.5 85.9h0M295.3 85h0M296 85.5h0M297.1 85.2h0M299 86h0M301.3 85.6h0M302.1 85.3h0M302.5 85.9h0M302.8 86h0M303.3 85.4h0M306.4 85.2h0M308 85.6h0M308.4 85.9h0M310.8 85.2h0M311.9 85.8h0M313.7 85.6h0M315 85.6h0M315.8 85.3h0M315.9 85.5h0M316.7 85.2h0M317.1 85.2h0M318.9 85.9h0M318.8 85h0M320.5 85.1h0M321.1 85.9h0M327.8 85.4h0M327.7 85.1h0M327.7 85.6h0M328.8 85.5h0M335.4 85.9h0M337.1 85.2h0M343.1 85.4h0M348.2 85.6h0M349.3 85.3h0M358.4 85.5h0M359.4 86h0M361.3 85.4h0M266.7 86.9h0M275 86.6h0M277.9 86.6h0M285.5 86.3h0M288.4 86.1h0M290.1 86.2h0M292.6 86.5h0M294.7 86.3h0M297.1 86.1h0M296.2 86.8h0M296.4 86.5h0M299.9 86.2h0M299.6 86h0M302.8 86.4h0M304.2 86h0M305.5 86.1h0M309.1 86.5h0M311.7 86.4h0M312.7 86.2h0M314.8 86.7h0M315.8 86.7h0M315.4 86.3h0M315.5 86.6h0M317.1 86.1h0M319.5 86.7h0M320.5 86.3h0M320.2 86.9h0M322.2 86.6h0M322.9 86.1h0M324.8 86.4h0M327.7 86.6h0M330.1 86.7h0M331.2 86.9h0M332.3 86.8h0M333.2 86.9h0M338.3 86.5h0M339.5 86.2h0M341.5 86.5h0M343.3 86.9h0M345.2 86.7h0M348 86.1h0M348.5 86.7h0M361.6 86.9h0M242.5 87.3h0M256.5 87.8h0M263.6 87.3h0M265.6 87.1h0M269.8 87.1h0M273.5 87.3h0M276.1 87.6h0M279.9 88h0M288.6 87.8h0M290.4 87.4h0M291.5 87.8h0M293.8 87.9h0M294.8 87.2h0M298.1 87.6h0M299.4 87.7h0M301 87.3h0M303.3 87.5h0M306.6 87.1h0M307.3 87.6h0M307.6 87.3h0M308.9 87.6h0M314 87.5h0M315 87.6h0M314.8 88h0M314.7 87.5h0M314.6 87.6h0M315.1 87.4h0M317.6 87.6h0M317.1 87.4h0M318.5 87.3h0M318.7 87.6h0M319.7 87.6h0M320.5 87.6h0M321.1 87.4h0M320.7 87.1h0M321.6 87.4h0M321.2 87.9h0M324.3 87.5h0M324.5 87.7h0M324.2 87.1h0M326.6 87.2h0M327.3 88h0M328.4 87.4h0M329.7 87.6h0M333 87.8h0M333.4 87.2h0M338.9 87.5h0M338.8 87.3h0M341 87.1h0M341.3 87h0M342.5 87.8h0M344.2 87.6h0M344.1 87.5h0M351.6 87.4h0M352.6 87.1h0M361.2 87h0M275.2 88.7h0M275.3 88.1h0M281.6 88.8h0M281.3 88.5h0M286.4 88.4h0M291.5 88.7h0M293.5 88.8h0M299.7 88.3h0M299.4 88.5h0M300.5 88.9h0M300.3 88.4h0M304.8 88.8h0M306.8 88.4h0M307.6 88.9h0M309 88.6h0M308.2 88.8h0M308.3 88.7h0M309.9 88.7h0M309.6 88.3h0M311.4 88.6h0M312.5 88.8h0M315.2 88.1h0M316.8 88.4h0M316.2 88.2h0M318.3 88.2h0M319.6 88.6h0M322 88.3h0M327 88.3h0M328.2 88.6h0M330.7 88.5h0M333.8 88.5h0M334.9 88.5h0M335 88.3h0M336.3 88.7h0M345.7 88.3h0M347.6 88.4h0M348.4 88.1h0M353.2 88.3h0M359 88.3h0M371.3 89h0M261.1 89.3h0M279.6 90h0M280.6 89.1h0M284.4 89.5h0M296.8 89.9h0M298.6 89.7h0M299 89.1h0M303.2 89.9h0M307.4 89.3h0M311.9 89.3h0M311.3 89.1h0M318.7 89.1h0M319.8 89.2h0M319.6 89.3h0M320.5 89.4h0M330.5 89.2h0M333.1 89.2h0M335 89.7h0M344.9 90h0M347.2 89.3h0M350 89.7h0M240.8 90.7h0M262.3 91h0M265.1 90.9h0M269.2 90.6h0M270.6 90h0M271.1 90.8h0M271.9 90h0M283.7 90.7h0M284.2 90.5h0M286 91h0M288.7 90.3h0M289.9 90.1h0M290.2 91h0M292.1 91h0M291.7 90.4h0M293.9 90.7h0M297.3 90.1h0M300 90.9h0M302.5 90.4h0M304.4 90.5h0M306.4 90.5h0M310.7 90.2h0M310.9 90.3h0M314.5 90.6h0M315.9 90.3h0M316.5 90.7h0M318.7 90h0M318.2 90.1h0M324.4 90.3h0M325.6 90.1h0M325.5 91h0M326.2 90.9h0M327.6 91h0M329.6 90.6h0M331.5 90.3h0M334.2 91h0M335.7 90.1h0M344.2 90.1h0M346.1 90.8h0M366.6 90.9h0M275.3 91.1h0M276.7 92h0M278.6 91.5h0M280.3 91h0M286.1 91.2h0M288.1 91h0M288 91.6h0M288.4 91.1h0M290 91.6h0M291.7 91h0M294.8 91.2h0M295.8 91.1h0M296.9 91.2h0M303.8 92h0M306 91.5h0M309.9 91.4h0M312 91.2h0M312.2 91.5h0M315 91.1h0M315 91.6h0M324.5 91.3h0M326.9 91.4h0M326.7 91.7h0M329.2 91.9h0M330.5 91.5h0M330.3 91.4h0M331.1 91.4h0M335.7 91.3h0M344.2 91.3h0M344.4 91.8h0M345.3 91.2h0M277.6 92.6h0M282.7 92.3h0M283.6 92.9h0M285 92.1h0M287.3 92h0M290.7 92.9h0M296.4 92.1h0M298.6 92.6h0M301.3 92.8h0M303.5 92.9h0M304.3 92.2h0M304.3 92.3h0M305.5 92.2h0M310 92.7h0M309.6 92.2h0M310.4 92.3h0M317.5 92.9h0M317.9 93h0M320.9 92.9h0M324.8 92.8h0M325 92.8h0M337.9 92.9h0M344 92.4h0M351.2 92.7h0M357.6 93h0M264.7 93.7h0M267.9 93.5h0M280.1 93.9h0M282.1 93.5h0M284 93.6h0M284.5 93.2h0M287 93.9h0M286.2 93.5h0M293.5 93.5h0M304.7 93.3h0M309.3 93.8h0M311.1 93.8h0M312.9 93.6h0M313.2 93.8h0M322.1 93.7h0M321.4 93.4h0M324.1 93.3h0M324.3 93.3h0M326.4 93.5h0M328.4 93.4h0M328.3 93.1h0M337 93.8h0M354.6 93.5h0M258.6 94.2h0M263.7 94.5h0M268.1 94.5h0M278 94.6h0M278.4 95h0M284 94.8h0M284.5 94.7h0M285.5 94h0M292.5 94.9h0M296.3 94.8h0M297.5 94.5h0M298.8 94.2h0M299.6 94h0M301 94.6h0M303.1 94.9h0M302.9 94.8h0M303.9 94.2h0M303.3 94.2h0M307.9 94.1h0M310.4 94.3h0M310.9 94.2h0M311.4 94.9h0M314.6 94.6h0M315.9 94.7h0M315.1 94.2h0M317.5 94.5h0M319 94.8h0M320.3 94.4h0M321.3 94.2h0M322.1 94.5h0M323.2 94.5h0M323.1 94.8h0M325.5 94.3h0M337.5 94.6h0M337.7 94.2h0M339.9 94.4h0M343.3 94.6h0M346.3 94.7h0M354.9 94.8h0M258.7 95.2h0M273.1 95.9h0M275.2 95.7h0M277.7 95.6h0M279.3 95.7h0M282.1 95.6h0M284.9 95.7h0M293.4 95.8h0M293.3 95.7h0M294.8 95.2h0M295.3 95.1h0M297.8 95.2h0M299.3 95.8h0M307.8 95.6h0M312 95.2h0M312.9 95.1h0M320.4 95.8h0M320.7 95h0M321.1 95.6h0M323.4 96h0M324.6 95.9h0M324.3 95.9h0M327.1 95.5h0M327.5 95.5h0M330.3 95.7h0M330.6 95.6h0M332.6 95.9h0M333.4 95.1h0M334.2 95.7h0M335 95.8h0M334.2 95.7h0M336.3 95.7h0M336.4 95.7h0M337.5 95.6h0M342.4 96h0M344.7 95.4h0M348 95.1h0M284.7 96.9h0M286.8 96.5h0M290.7 96.4h0M293.9 96.7h0M295.4 96.3h0M298.4 96.7h0M301.2 96.3h0M302.5 96.7h0M309.4 96.1h0M313.1 96.2h0M316.8 96h0M317.9 96.2h0M320.3 96h0M323.4 96.4h0M324.7 96.9h0M327.7 96.6h0M327.4 96.7h0M330.8 96.1h0M331.9 96.3h0M337.1 96.7h0M340.7 96.6h0M343 96.8h0M279.2 97.2h0M284.9 97.6h0M286.3 97.5h0M287.3 97.5h0M294.6 97h0M295.3 97.6h0M298.4 98h0M301.8 97.3h0M310.2 97.7h0M312.8 97.3h0M317 97.2h0M319.1 97.1h0M320.8 98h0M328.2 97.8h0M330.4 97.2h0M334.5 97.3h0M343 97.9h0M344.8 97.1h0M345.1 97.5h0M347.6 97.3h0M243.6 98.7h0M296.6 99h0M306 98.5h0M306.8 98.9h0M317.7 98.7h0M318.4 98.8h0M319.5 98.8h0M324.3 98.5h0M325.5 98.3h0M328.2 98.2h0M329.3 98.8h0M334.5 98.1h0M337.2 98.4h0M340.8 99h0M346.9 98.4h0M284 99.4h0M289.2 99.9h0M304.6 99.3h0M307.9 99h0M311.4 99.5h0M317.2 99.6h0M326.3 99h0M331.1 99.9h0M336 99.1h0M344.9 99.4h0M349.5 99.3h0M273.3 100.8h0M289.1 100.7h0M291.8 100.7h0M296 100.4h0M304.4 100h0M307.6 101h0M308.2 100.3h0M312.2 100.5h0M314.9 100.4h0M321.7 100.1h0M324.1 100.8h0M326.6 100.1h0M339.6 100.4h0M340.3 100.3h0M292 101.3h0M293.8 101.8h0M295.6 101.8h0M295.6 101.8h0M299.7 101.4h0M306.7 101h0M309.2 102h0M340 101.7h0M340.2 101.3h0M340.2 101.1h0M340.6 101.2h0M260.8 102.3h0M306.6 102h0M313.8 102.1h0M316 102.4h0M273.6 103.9h0M303.5 103.8h0M310.7 103.9h0M313 103.1h0M312.6 103.9h0M317.2 103.6h0M317.4 103.6h0M345.4 103.6h0M277.2 104h0M298.3 104h0M301.1 104.5h0M325.7 104.7h0M327.7 104h0M338.7 104.6h0M288.4 105.2h0M317.5 105.6h0M319.2 105.3h0M320.4 105h0M320.2 105.6h0M278.5 106.6h0M298.6 106.4h0M322.5 106.3h0M325.2 106.9h0M326.4 106.4h0M320 107.6h0M302.7 108.4h0M310.6 108.2h0M324.8 108.8h0M293.1 109.9h0M338.9 109.3h0M287.4 110.1h0M262 35.6h0M267.7 33.7h0M298.7 34.9h0M304.3 31.6h0M307.3 30.3h0M310 32.4h0M314 30h0M319.3 30.3h0M320.1 30.3h0M325 32.4h0M327.3 29.3h0M328.3 34h0M309.1 38.3h0M320.6 38.3h0M329.4 40.4h0M332.3 37h0M340.6 38h0M358.7 39.1h0M361 40.7h0M359 44.9h0M361.9 45.7h0M349.4 45.7h0M338.7 46h0M308 45h0M375.7 51.6h0M376 59.6h0M371 58.3h0M266 58.3h0M249.6 95.4h0M263.7 99.4h0M300.7 111.9h0M283.3 103.4h0M286 102.3h0M287.7 105.7h0M291.3 102.3h0M308.3 105h0M311.3 107h0M262 91.7h0M269.6 96.7h0M273.3 97.7h0M276 98.3h0M358 85.3h0M362 87.3h0M364 86.9h0M366 86.7h0M369.3 85.6h0M336.3 103h0M320.7 107.3h0" stroke="#000" stroke-width="2.6" stroke-linecap="round" fill="none"/>
<rect x="255.9" y="72.6" width="8.2" height="8.2" fill="#f0f"/>
<rect x="277.2" y="70.1" width="8.2" height="8.2" fill="#f0f"/>
<rect x="298.1" y="67.7" width="8.2" height="8.2" fill="#f0f"/>
<rect x="319.4" y="67.1" width="8.2" height="8.2" fill="#f0f"/>
<rect x="340.3" y="64" width="8.2" height="8.2" fill="#f0f"/>
<rect x="361.4" y="59.9" width="8.2" height="8.2" fill="#f0f"/>
<path d="M357.8 187.4h0M294.8 188.4h0M297.8 191.1h0M304.2 190.9h0M287.2 191.4h0M303.1 192h0M301.4 195.3h0M300.1 196.4h0M314.9 196.9h0M276.5 197.6h0M313 197.8h0M332.6 197.9h0M350.9 198h0M305.9 198.6h0M328.6 198.9h0M363.3 198.6h0M303.3 199.4h0M317 199.3h0M317.2 199.2h0M329.5 199.4h0M288.4 200.4h0M313.1 200.2h0M317.1 201h0M319.2 200.6h0M324.6 201h0M326.6 200.5h0M296 201.7h0M319.2 201.9h0M336.6 201.3h0M277.9 202.7h0M291.5 202.5h0M301.4 202.5h0M306.2 202.6h0M321 202.7h0M351 202.7h0M353.3 202.5h0M287.1 203.6h0M288.8 203.9h0M294.1 204h0M300.6 203.2h0M305.7 204h0M305.9 203.6h0M306.1 203.8h0M314.3 203.6h0M328 204h0M342.5 203.5h0M350.8 203.4h0M351.8 203.3h0M361.5 203.9h0M364.8 204h0M281.9 204.2h0M292.8 204.7h0M305.3 204.8h0M310.8 204.5h0M313.2 204.5h0M316.1 204.7h0M324.6 204.3h0M328.4 204.3h0M329.3 204.2h0M349.6 204.4h0M355.2 204.6h0M360.6 204.2h0M301.6 205.4h0M307.8 205.7h0M308.9 205.8h0M314.4 205.9h0M315.1 205.4h0M316.1 205.8h0M324.2 205.7h0M325.1 205.3h0M326.1 205.8h0M331.1 205.6h0M331.9 205.9h0M331.7 205.8h0M335.9 205.1h0M336.1 205.4h0M339.1 205.6h0M340.7 205.7h0M351.5 205.6h0M353.5 205.9h0M353.5 205.8h0M371.4 205.6h0M308.6 206.2h0M311.8 206.9h0M323.1 206.2h0M324.9 206.1h0M327.7 206.6h0M332 206.7h0M334.5 206.3h0M335.9 206.4h0M338.7 206.1h0M340.8 207h0M345 206.5h0M344.6 206.5h0M347.9 206.8h0M349.6 206.3h0M354.9 206.5h0M354.4 206.1h0M356.5 206.2h0M361.6 206.8h0M282.9 207.9h0M284.1 207.1h0M295.8 207.3h0M297.2 207.6h0M310.1 207.3h0M316.2 207.1h0M316.6 207.7h0M320.4 207.1h0M321.4 207.4h0M333.3 207.2h0M334.3 207.1h0M336.8 207.4h0M343.1 207.7h0M343.2 207.1h0M345.3 207.1h0M349.3 207.1h0M364.6 207.9h0M286.4 208.7h0M287.7 208.2h0M294 208.5h0M294.9 208.9h0M294.5 208.9h0M295.8 208.1h0M300.3 208.7h0M301.1 208h0M301.3 208.3h0M301.9 208.1h0M303.8 208.8h0M305.9 209h0M308.1 208.7h0M310 208.8h0M314.2 208.4h0M318.5 208.9h0M321.6 208.6h0M322.7 208.3h0M327.3 208.5h0M329.3 208.4h0M332.3 208.4h0M333.5 208.4h0M341 208.3h0M340.4 208.4h0M344.3 208.7h0M345.9 208.7h0M346.6 208.8h0M347.4 208.8h0M352.9 208.7h0M354.8 208.6h0M354.5 208.1h0M358 208.4h0M361.6 208.2h0M362.2 208.6h0M363.7 208.1h0M274.8 209.9h0M276.9 209.8h0M281.8 209.4h0M291.4 209.7h0M293.6 209.6h0M294.7 209.3h0M294.4 209.1h0M299.8 209.7h0M306.2 209.5h0M310.3 209.7h0M312.8 209.3h0M314.1 209.8h0M314.7 209.3h0M316 209.5h0M319.9 209.8h0M320.6 209.4h0M320.3 209.1h0M327.3 209.5h0M328.5 209h0M337.3 209.6h0M342.8 209.2h0M343.8 209.7h0M346 209.5h0M362.6 209h0M279.2 210h0M284.2 210.7h0M296.2 210.4h0M302.2 210.4h0M304.4 210h0M308.9 210.9h0M312.1 210.1h0M311.7 210h0M315.6 210.9h0M323.8 210.1h0M323.4 210.7h0M330.1 210.5h0M329.1 210.9h0M332.2 210.2h0M332.9 210.9h0M334.6 210.1h0M335.3 210.3h0M337.4 210.5h0M343.6 210.1h0M344.6 210.2h0M346.4 210.1h0M350.2 210.8h0M353.1 210.9h0M357.4 210.2h0M362.7 210.8h0M364.4 210.7h0M269 211.6h0M278.8 211.5h0M281 211.3h0M283.5 211.4h0M292.8 211.6h0M294.1 211.5h0M299.4 211.6h0M299.5 211.1h0M300.4 211.5h0M301.8 211.8h0M303.3 211.9h0M310.5 211.7h0M315.2 211.4h0M319.4 211.2h0M322.4 211.2h0M325.6 211.6h0M326.2 211h0M326.8 211.3h0M326.7 211.1h0M327.6 211h0M328.2 211.7h0M328.7 211.9h0M329.3 211.3h0M332.9 211.5h0M336.9 211.6h0M336.5 211.8h0M338.8 211.6h0M339.5 211.7h0M341.4 211.8h0M347.5 211.9h0M351.2 211.2h0M367.2 211.2h0M367.3 211.2h0M278.9 212.9h0M287.9 212h0M290.3 212.7h0M292.3 212.7h0M293.9 212h0M296.1 212.7h0M297.4 212h0M297.3 212.4h0M299.1 212.4h0M302.8 212h0M302.6 212.1h0M305.2 212h0M306.4 212.3h0M307.1 212.8h0M313.6 212.8h0M314.4 212h0M315.5 212.2h0M318.9 212.2h0M319.6 212h0M320.1 212.8h0M322.9 212h0M325.2 212.5h0M327.4 212.4h0M328.8 212.8h0M330.9 212.5h0M332 212.3h0M334 212.5h0M334.9 212.8h0M335.1 212.6h0M335.9 212.4h0M336.7 212.9h0M336.8 212h0M336.9 212.2h0M338.3 212.3h0M338.9 212.3h0M339.1 212.4h0M339.4 212.1h0M341.6 212.4h0M341.2 212h0M344 212.7h0M347.3 212.8h0M359 212h0M370.8 212.1h0M377.5 212.4h0M279.9 213.1h0M282.9 213.2h0M293.6 213.3h0M294.2 213.6h0M296.2 213.6h0M304.4 213.8h0M304.7 213.1h0M305.4 213.3h0M306.3 213.4h0M306.9 213.8h0M309 213.7h0M311.6 213.6h0M315.1 213.1h0M314.9 213.7h0M315.2 213.8h0M320.2 213.7h0M322.4 213.5h0M322.5 213.9h0M323.2 213.1h0M325.3 213.2h0M328.3 213.2h0M331.7 213.6h0M333 213.2h0M337.6 213.7h0M338.2 213.6h0M340.1 213h0M340.5 213.4h0M344 213.5h0M346.9 213.3h0M349.8 213.5h0M352 213.8h0M358.7 213.1h0M371.4 213.2h0M264.8 214.1h0M269.7 214.7h0M277 214.8h0M280.9 214.9h0M282.1 214.3h0M296.9 214.8h0M297.2 214.8h0M302.3 214.4h0M303.7 214.3h0M306 214.5h0M308.3 214.3h0M310.8 214.8h0M312.1 214.4h0M315.4 214.5h0M317.3 214.1h0M320.1 214.8h0M319.3 214.5h0M320.4 214.4h0M324.9 214.6h0M326.3 214.5h0M328.2 214.1h0M330.1 214h0M331.1 214.6h0M330.9 214.1h0M330.5 214.5h0M333.7 214.1h0M337.2 214.1h0M338 214.2h0M337.8 214.6h0M337.5 214.6h0M342.1 214.6h0M342.5 214.2h0M344.1 214.6h0M347.7 214.9h0M349.8 214.1h0M354.4 214.3h0M355.2 214.7h0M373.1 214.8h0M266.7 215.8h0M286.4 215.8h0M286.7 215.8h0M286.9 215.1h0M296.6 215.5h0M296.8 215.2h0M296.3 215h0M299.6 215h0M299.5 215.3h0M305.6 215.1h0M307 215.2h0M310.5 215.7h0M312.4 215.2h0M314.9 215.3h0M324 215.5h0M329.5 215.4h0M334.1 215.7h0M334.9 215.7h0M337 215.2h0M336.7 215.2h0M336.3 215.1h0M338 215.5h0M338.5 215.2h0M338.7 215.8h0M341.9 215.4h0M347.3 215.7h0M347.4 215.5h0M351.1 215.8h0M353.1 215.1h0M353.8 215.1h0M355.1 215.7h0M356.4 215.2h0M356.4 215.3h0M359.2 215.6h0M360.2 215.4h0M365.1 215.2h0M364.6 215.8h0M365.7 215.3h0M377.7 215.8h0M271.7 216.8h0M282.6 216h0M288.1 216.3h0M301.5 216.8h0M302.2 216.5h0M309.9 216.7h0M311.8 216.5h0M312.2 216.5h0M315.6 216.1h0M317 216.6h0M316.2 216.1h0M317.5 215.9h0M318.5 216.4h0M318.2 216.4h0M320.8 216.2h0M322.4 216.8h0M327.3 216.7h0M332.2 215.9h0M333.4 216.5h0M337.1 216h0M337.3 216.8h0M338.9 216.4h0M343.6 216.7h0M344.7 216.3h0M352.9 216.3h0M360.3 216.1h0M361.5 216.5h0M368.4 216h0M269.1 217.7h0M280.6 217.7h0M282.4 217.5h0M295.9 217.7h0M299.9 217.5h0M300.9 217.3h0M302.7 217.6h0M306.2 217.5h0M306.9 217.1h0M309.7 217.2h0M314 217.4h0M318.1 217.6h0M319.1 217.8h0M320.5 217.6h0M322 217.8h0M324.8 217.9h0M326 217.4h0M325.5 217.6h0M329.2 216.9h0M330.7 217.4h0M333.5 217.4h0M333.6 217.6h0M337 217.5h0M336.3 217.5h0M336.5 217.2h0M337.4 217.3h0M338 217.7h0M340.1 217h0M342.6 217h0M346.2 216.9h0M346.7 217.4h0M348.9 217.5h0M353.5 217.7h0M354.8 217.6h0M356 216.9h0M356.3 217.4h0M360.1 217.5h0M359.5 217.6h0M366.6 217.5h0M374 217.5h0M272 218.5h0M278.2 218.2h0M279.4 218.3h0M280 218h0M280.9 218.8h0M283 218.8h0M286.7 218.6h0M286.4 218.3h0M286.8 218.6h0M289.1 218.3h0M292.6 217.9h0M293.8 218.6h0M293.2 218.2h0M297.3 218.3h0M300.4 218.5h0M301.6 218.3h0M304.1 218h0M306.2 218.6h0M308.5 218.6h0M309.3 218h0M310.9 218h0M313.1 218.3h0M312.3 217.9h0M317.2 218.4h0M319 218h0M320.7 218.6h0M322.8 218.8h0M323.7 218.2h0M324.5 218.8h0M326 218.2h0M326.3 218.6h0M328.2 218.4h0M328.2 218h0M331.1 218.6h0M332.1 218.5h0M332.6 218.7h0M333.9 218.3h0M339.6 218.2h0M339.1 218.6h0M340.4 218h0M341.3 217.9h0M345 218.1h0M344.6 218.4h0M345.1 218.6h0M346.8 218.8h0M346.2 218.8h0M346.3 218.3h0M348.3 218.7h0M349.6 218.7h0M352.7 218.2h0M355.2 218.4h0M356.4 218.1h0M358.6 218.5h0M359.1 218h0M366.2 218.2h0M371.7 218.8h0M260.5 219.5h0M270.8 219.4h0M270.8 219.6h0M272.5 218.9h0M274.6 219.3h0M277.3 219.7h0M281 219.3h0M285.7 219h0M288.1 219h0M290.4 219.6h0M292 219.2h0M292.1 219h0M295.1 218.9h0M294.7 219.8h0M295.6 219.2h0M302.9 219.5h0M303.2 219.4h0M306.7 219.7h0M312.8 219.6h0M312.8 219.5h0M314.5 219.2h0M316 219.5h0M316.5 218.9h0M317.5 218.9h0M317.9 219.4h0M318.7 219.3h0M321.3 219.8h0M322.5 219.1h0M325 219.6h0M328.6 219.8h0M335.8 219.2h0M337.2 219.6h0M340 219.6h0M343.8 219.6h0M344.3 219.3h0M345.3 219.6h0M346 219.3h0M346.8 219.1h0M350.2 219h0M354.5 219.3h0M354.6 219h0M357.6 219.1h0M359.3 219.7h0M361.8 219.3h0M363.9 219.8h0M384.4 219.3h0M250.5 220.6h0M266.4 220.8h0M268.9 220h0M274.6 220.4h0M282.1 220.6h0M288.8 220.4h0M288.6 220h0M292.1 220.6h0M293.7 220h0M298.3 220.2h0M299.5 220.8h0M301.3 220.4h0M304.3 220.5h0M306 220.2h0M305.2 220.6h0M307.5 220.2h0M309.7 220h0M318.2 220.2h0M322.4 220.7h0M324.8 220h0M327 220.7h0M326.3 220h0M328.7 219.9h0M331.6 220.7h0M334.1 220.5h0M333.5 220.6h0M334.6 220.6h0M336.4 220.3h0M337.5 220.2h0M337.6 220.1h0M341.6 220.8h0M342.6 220.8h0M342.2 220h0M343.9 220.7h0M344.6 220.7h0M346.9 220.6h0M346.3 220.8h0M347.3 220.6h0M350.2 220.1h0M352.8 219.9h0M353.2 220.4h0M355.1 220h0M355.4 220.4h0M357.4 220.1h0M357.9 220.2h0M357.8 220h0M367.5 220.5h0M262.5 221.4h0M265.5 221.4h0M266.6 220.9h0M268.2 220.9h0M272.2 221.2h0M285.1 221.3h0M286.3 221.3h0M292.8 221.6h0M297.8 221.3h0M300.9 221.6h0M300.7 221.6h0M301.3 221.3h0M304.1 221.4h0M307.9 220.9h0M308.4 221.6h0M308.5 220.9h0M309.6 221.7h0M312.8 221h0M313.6 221.7h0M314.3 221.7h0M322.9 220.9h0M323.4 221h0M323.2 221.6h0M323.2 221.2h0M324.9 221.1h0M326 221.5h0M331.1 221.1h0M331.1 221.6h0M331.7 221.2h0M331.8 221.6h0M334.2 221.2h0M336.7 221.2h0M337.6 220.9h0M337.7 221.7h0M338 221.2h0M338.7 221.7h0M339.6 221.1h0M340.1 221.2h0M342 221.3h0M342.8 221.3h0M345 221.6h0M346.3 221h0M346.5 221.1h0M350 221.4h0M353.1 221.2h0M354.1 221.7h0M355.9 221.1h0M355.1 221.8h0M372.8 221.1h0M372.2 221.3h0M269 222.8h0M268.2 222.5h0M275.5 222.8h0M276.1 222.8h0M278.6 222.6h0M283.6 222.2h0M286.3 222.5h0M288.1 222h0M292.9 222.5h0M292.9 222.3h0M293.9 222.8h0M293.8 222.6h0M294.7 222.6h0M295.5 222.7h0M299.9 222.4h0M304 222.8h0M309.6 222.1h0M310.6 222h0M310.6 222.1h0M312.1 222.3h0M312.5 222.5h0M314.7 222.2h0M314.3 222.2h0M315.3 222.2h0M315.5 222.2h0M316.7 221.9h0M316.1 221.9h0M316.9 222.7h0M318.2 222.4h0M319.3 222.1h0M321.1 222.7h0M321.4 222.3h0M321.7 222.2h0M327.6 222.1h0M329 222.6h0M329.6 222.5h0M329.2 221.9h0M332.3 222.3h0M333.4 222.3h0M334.3 222h0M334.2 222.3h0M336.8 222.3h0M338.7 222.5h0M340.8 222.3h0M345.4 222.1h0M353.3 222.8h0M354.4 222.4h0M354.6 222.7h0M357.3 222h0M359.5 222.4h0M387.1 222.8h0M266.8 223.1h0M275 222.9h0M278.9 223h0M281.2 223.5h0M285.2 223.5h0M288.6 223.6h0M290.3 223.7h0M291.7 223.1h0M295.8 223.2h0M296.3 223.1h0M296.6 223.2h0M296.9 223.2h0M297.8 223.5h0M299.8 223.1h0M300.1 222.9h0M300.8 223.4h0M304 223.4h0M303.9 223.1h0M304.1 223.5h0M303.9 223.1h0M306.2 223.8h0M307.2 223.5h0M309.3 223.7h0M310.1 223.5h0M311.6 222.9h0M311.4 223h0M312.1 223.6h0M313.1 223.5h0M313.4 223.6h0M315 223.5h0M317.6 223.3h0M321.7 223h0M321.9 223h0M323.5 223.4h0M323.8 223.8h0M325.4 223.7h0M326.4 223.4h0M326.5 222.8h0M327.1 223.1h0M330.5 223.4h0M332.9 223.3h0M337.9 223.7h0M338.8 223.7h0M340.5 223.8h0M342.1 223.5h0M342.6 223.5h0M343.9 223.5h0M343.9 223.7h0M345.5 223.6h0M346.5 223.3h0M348.7 223.1h0M351.9 223h0M352.9 222.9h0M352.3 223.1h0M357.9 223.3h0M357.4 223.7h0M357.6 223.6h0M358.1 223.4h0M364.7 223.6h0M365.3 223.8h0M273.9 224.7h0M276.1 224.2h0M277.9 224.3h0M279.9 224.1h0M280.6 224.1h0M282.1 224.2h0M281.6 224.2h0M291.4 223.8h0M292.9 224h0M293.4 224h0M293.3 224h0M296 224.7h0M297.1 224.2h0M296.2 223.9h0M298.4 224.1h0M302.5 224.2h0M305.5 224h0M305.3 223.9h0M306.5 224h0M311.1 224.3h0M312.8 224.5h0M312.7 224.6h0M312.5 223.8h0M312.7 224.5h0M313.1 223.9h0M314.5 223.9h0M318.5 224.5h0M323.4 224.8h0M323.4 223.9h0M327 224.4h0M327.4 224.1h0M328.6 224.1h0M331.1 224.3h0M331.3 224.1h0M332.3 224.2h0M337.5 224.6h0M338.1 224.1h0M337.5 224.2h0M338.8 223.8h0M347.1 224.6h0M349.9 224.3h0M353.6 224h0M353.7 224.7h0M353.7 224.7h0M353.3 224.8h0M358 224.7h0M358.5 224.7h0M365.4 224.7h0M366.9 224.3h0M371.9 224.2h0M275.5 225.4h0M279.4 225.1h0M281.9 225.2h0M284.3 225.7h0M285.8 225.2h0M285.4 224.8h0M286.8 225.1h0M289 225.2h0M289.9 225.1h0M290.5 225.2h0M293 224.9h0M295.6 224.9h0M297.1 225h0M296.6 225.2h0M298.4 225.5h0M299.7 225.5h0M300.5 225.1h0M302 225.5h0M302 225.7h0M307.1 225.3h0M307.2 225.3h0M307.1 225h0M310.9 225.5h0M312.1 225.5h0M312.6 225.1h0M322.5 225.7h0M323.9 225.7h0M323.8 224.8h0M323.4 225.3h0M323.8 225.8h0M324 224.9h0M327 225.7h0M326.9 225.7h0M327.5 224.9h0M329.9 225.7h0M330.2 225.1h0M331.3 224.8h0M333.6 225.4h0M334.5 225h0M337.2 225h0M337.8 225.5h0M341.1 225.5h0M343.9 225.1h0M344.3 225.6h0M344.6 225.6h0M344.7 225.7h0M344.4 225.6h0M348.9 225.7h0M350.8 225.6h0M353.3 225.1h0M354.6 225.6h0M354.1 225.1h0M356.8 225.1h0M357.4 225.3h0M362.3 225.2h0M256.2 226h0M266.6 226.5h0M273 225.8h0M273.4 226.1h0M277.8 226.6h0M277.7 226.1h0M277.4 226.2h0M280.7 226.5h0M280.4 225.9h0M280.5 226.8h0M280.8 226.6h0M281.9 226.7h0M282.7 226.5h0M282.7 225.8h0M283.4 226.6h0M284.1 226.3h0M285.3 226.4h0M287.7 226.7h0M289.3 226.2h0M294.9 226.1h0M297.6 226.2h0M298.2 226.8h0M299.1 226.6h0M300 226.7h0M299.2 226.4h0M299.3 226.7h0M301.6 226.2h0M302.2 225.8h0M302.8 225.8h0M302.8 226h0M304 226.1h0M305.6 226.5h0M307 225.9h0M307.4 226.5h0M308 226.4h0M308 226.7h0M308.8 226.2h0M310.1 226h0M310.7 226.7h0M310.2 226.5h0M314.8 226.2h0M314.2 225.9h0M314.9 226h0M315.8 225.9h0M315.3 226.4h0M317.6 226.4h0M318.6 226.3h0M318.8 226.3h0M319.5 226.1h0M321.6 225.8h0M321.2 225.8h0M321.5 225.8h0M321.3 226.1h0M322.8 226.7h0M325.9 226.2h0M330 225.8h0M330.6 225.9h0M335.5 226.2h0M339.8 226.1h0M348.3 226.6h0M348.3 226.7h0M350.9 225.9h0M352.2 225.8h0M356 226.2h0M357 226.5h0M357.8 226.2h0M369.7 226.5h0M275.3 227.5h0M283.2 227.7h0M285.7 227h0M290 227.5h0M290.4 227.3h0M290.8 227.6h0M292.5 227.2h0M292.9 226.8h0M293.3 227.4h0M294 227.2h0M293.4 227.7h0M295.3 227.3h0M297.3 227.3h0M299.8 227.4h0M299.4 227.5h0M299.5 227.2h0M301.9 227.4h0M301.7 227.6h0M304.5 227.1h0M312 227.1h0M313.9 226.9h0M314.8 227.7h0M314.6 227.2h0M316.2 227.7h0M317.2 226.9h0M317.6 227.2h0M319.4 227.7h0M321.2 227.4h0M321.4 227.1h0M321.9 226.9h0M321.6 226.9h0M322.3 227.2h0M322.1 227.6h0M323.4 227h0M326.6 227.1h0M326.7 227.6h0M328.2 227.6h0M329 227.4h0M331 227.1h0M332.4 227.5h0M335 227.5h0M335.8 226.9h0M336.3 226.9h0M336.8 226.9h0M336.5 226.8h0M337.2 227.2h0M339.7 227.4h0M341.8 227.5h0M341.3 227.3h0M342.9 227h0M342.6 227.2h0M344.9 227.8h0M349.5 227.4h0M349.7 227.7h0M355.2 226.9h0M272.4 228h0M276.2 228h0M277.3 228.5h0M281.2 228.7h0M286.9 227.9h0M289.1 228.4h0M291.4 228.1h0M296.7 228.3h0M299.5 228.1h0M300.9 228.4h0M300.9 227.9h0M301.2 228h0M302 228.4h0M303 228h0M302.9 228.6h0M304.9 228.3h0M304.5 228.5h0M306.1 228.7h0M306 227.9h0M305.9 228.5h0M306.3 228h0M306.6 228.7h0M307.5 228.4h0M310.3 227.8h0M310.7 228.5h0M311.3 228.2h0M312.4 227.9h0M312.9 228h0M313.6 228.3h0M316.2 228.3h0M319.1 228.6h0M319.5 228.4h0M321.1 228.1h0M322.5 227.8h0M322.6 228.4h0M327.8 228.3h0M329 228h0M329.6 228.3h0M332 228h0M333 228.5h0M338.2 227.9h0M340.9 228.2h0M345.4 227.8h0M347.8 228h0M348.1 228.3h0M350.9 228.1h0M351.3 228.7h0M352.4 227.9h0M353.5 227.9h0M354.9 227.9h0M356.3 228.6h0M360.1 228.6h0M367.7 228.4h0M262.3 228.9h0M269.4 229.6h0M270.1 229.5h0M271.1 229.2h0M277.7 228.8h0M281.3 229.3h0M282.8 229.2h0M283.2 228.9h0M285.2 229.7h0M285.5 228.9h0M289 229.6h0M291 229.4h0M290.8 229.5h0M294.1 229.5h0M296.5 229.3h0M296.8 229.5h0M298 228.8h0M297.2 229.6h0M298.9 229.1h0M299.4 229.3h0M306.3 228.8h0M306.2 229h0M307.6 229.2h0M307.6 229.3h0M309.4 229.5h0M309.2 229.7h0M310 229.7h0M312 229.4h0M313.3 229.5h0M314.9 229.6h0M314.2 229.2h0M316.3 229.5h0M319.7 229.6h0M319.5 229.3h0M323.1 229.3h0M322.4 228.8h0M324.2 229.5h0M326.3 229.3h0M327.1 229.5h0M329 229h0M328.4 229.1h0M330.1 229h0M331.1 229h0M331.4 229.3h0M332.3 228.9h0M337.5 228.9h0M341.4 229.1h0M343.5 229.6h0M346.2 229.7h0M350.4 229.6h0M355.1 229h0M383.5 229.7h0M265.7 230.5h0M268.4 230.2h0M272.1 229.8h0M272.4 230h0M273.3 229.9h0M280.4 230.1h0M282.1 230h0M284.9 230.7h0M287 230.6h0M287.8 229.7h0M288.2 230.6h0M289.7 230h0M289.9 230.6h0M289.5 230.2h0M290.2 230.4h0M294.6 230.2h0M298.1 230.3h0M297.4 230.4h0M297.2 230.3h0M300.1 229.8h0M300.7 230h0M302.6 230.7h0M303.1 229.9h0M305.8 230.7h0M305.6 229.9h0M310 230.3h0M310.5 230h0M310.3 230h0M313.7 230.6h0M315.3 230.3h0M316.7 230h0M317 230.2h0M316.2 230h0M317.4 230.4h0M317.9 230h0M318.7 230.5h0M319.4 229.8h0M319.9 230.3h0M320.4 229.8h0M325.5 230.2h0M326.7 230.1h0M326.5 229.9h0M327.6 230.4h0M329.1 230.1h0M329.7 230h0M330.9 229.9h0M332.2 230.4h0M334.1 230.7h0M334.7 229.8h0M335.7 229.9h0M336.3 230.2h0M340.8 230.6h0M343.5 230.7h0M347 230.1h0M346.7 230.4h0M347.5 230.6h0M347.3 230.3h0M350.9 230.5h0M350.1 230.4h0M352.6 229.8h0M355.3 230.2h0M355.2 230.7h0M359.2 230.4h0M266.5 231h0M274.2 231.3h0M277.4 231.4h0M279.2 231.6h0M282.9 231.4h0M283.2 231.1h0M286.2 231.2h0M287 231.3h0M288.5 231.4h0M288.7 230.8h0M289.5 230.9h0M291 230.9h0M292.3 231.2h0M293.8 231.2h0M294.1 231.6h0M295.3 230.8h0M295.5 230.8h0M295.9 231.6h0M296.4 231.6h0M296.4 231.4h0M297.3 231.5h0M298.6 231.3h0M299.3 231h0M299.9 231.3h0M300.9 231.5h0M302.7 231.5h0M302.5 231.1h0M303.5 231.6h0M304.3 231.6h0M306.8 231.7h0M314.2 231.7h0M315.3 231.3h0M316.7 231.1h0M316.5 231h0M320.4 230.8h0M320.8 231.5h0M320.3 231.4h0M322.1 231.4h0M322.4 230.9h0M325.6 231.3h0M328.9 231.4h0M328.2 230.8h0M330.1 231.1h0M332.9 230.8h0M333.4 231.2h0M335 230.9h0M334.1 231h0M334.8 231.4h0M336.3 231.4h0M339.2 231.5h0M339.2 231.4h0M340.4 231.1h0M341.3 231.5h0M341.9 231.1h0M257.9 232.5h0M271.8 231.9h0M274.7 231.9h0M278.6 232.2h0M279.3 231.7h0M281.4 231.7h0M282.2 232.7h0M287.6 232.3h0M291.5 232.3h0M292.4 232.2h0M295 231.8h0M295 232.3h0M294.4 232.6h0M295.5 232.6h0M295.3 231.7h0M296 232.2h0M297.1 231.9h0M299 232.6h0M301.3 232.3h0M302.1 232h0M302.5 232.6h0M302.8 232.7h0M303.3 232.1h0M306.4 231.9h0M308 232.3h0M308.4 232.6h0M310.8 232h0M311.9 232.5h0M313.7 232.3h0M315 232.3h0M315.8 232h0M315.9 232.2h0M316.7 231.9h0M317.1 231.9h0M318.9 232.6h0M318.8 231.7h0M320.5 231.8h0M321.1 232.6h0M327.8 232.1h0M327.7 231.8h0M327.7 232.3h0M328.8 232.2h0M335.4 232.6h0M337.1 232h0M343.1 232.1h0M348.2 232.3h0M349.3 232h0M358.4 232.2h0M359.4 232.7h0M361.3 232.1h0M266.7 233.6h0M275 233.3h0M277.9 233.3h0M285.5 233h0M288.4 232.8h0M290.1 232.9h0M292.6 233.2h0M294.7 233h0M297.1 232.8h0M296.2 233.5h0M296.4 233.2h0M299.9 232.9h0M299.6 232.7h0M302.8 233.1h0M304.2 232.7h0M305.5 232.8h0M309.1 233.2h0M311.7 233h0M312.7 232.9h0M314.8 233.4h0M315.8 233.4h0M315.4 233h0M315.5 233.3h0M317.1 232.8h0M319.5 233.4h0M320.5 233h0M320.2 233.5h0M322.2 233.2h0M322.9 232.8h0M324.8 233.1h0M327.7 233.3h0M330.1 233.4h0M331.2 233.5h0M332.3 233.5h0M333.2 233.5h0M338.3 233.2h0M339.5 232.9h0M341.5 233.2h0M343.3 233.6h0M345.2 233.3h0M348 232.8h0M348.5 233.4h0M361.6 233.6h0M242.5 234h0M256.5 234.5h0M263.6 234h0M265.6 233.7h0M269.8 233.8h0M273.5 234h0M276.1 234.3h0M279.9 234.7h0M288.6 234.5h0M290.4 234.1h0M291.5 234.5h0M293.8 234.6h0M294.8 233.9h0M298.1 234.3h0M299.4 234.4h0M301 233.9h0M303.3 234.1h0M306.6 233.8h0M307.3 234.3h0M307.6 234h0M308.9 234.3h0M314 234.1h0M315 234.2h0M314.8 234.6h0M314.7 234.2h0M314.6 234.3h0M315.1 234.1h0M317.6 234.3h0M317.1 234.1h0M318.5 234h0M318.7 234.3h0M319.7 234.3h0M320.5 234.2h0M321.1 234h0M320.7 233.8h0M321.6 234.1h0M321.2 234.6h0M324.3 234.2h0M324.5 234.4h0M324.2 233.8h0M326.6 233.9h0M327.3 234.6h0M328.4 234h0M329.7 234.2h0M333 234.4h0M333.4 233.9h0M338.9 234.2h0M338.8 234h0M341 233.8h0M341.3 233.7h0M342.5 234.5h0M344.2 234.3h0M344.1 234.2h0M351.6 234.1h0M352.6 233.7h0M361.2 233.7h0M275.2 235.3h0M275.3 234.7h0M281.6 235.5h0M281.3 235.2h0M286.4 235.1h0M291.5 235.3h0M293.5 235.5h0M299.7 235h0M299.4 235.1h0M300.5 235.5h0M300.3 235.1h0M304.8 235.5h0M306.8 235.1h0M307.6 235.5h0M309 235.2h0M308.2 235.4h0M308.3 235.3h0M309.9 235.3h0M309.6 235h0M311.4 235.2h0M312.5 235.4h0M315.2 234.8h0M316.8 235h0M316.2 234.8h0M318.3 234.9h0M319.6 235.2h0M322 234.9h0M327 234.9h0M328.2 235.3h0M330.7 235.1h0M333.8 235.1h0M334.9 235.2h0M335 235h0M336.3 235.4h0M345.7 235h0M347.6 235.1h0M348.4 234.8h0M353.2 234.9h0M359 234.9h0M371.3 235.6h0M261.1 235.9h0M279.6 236.6h0M280.6 235.7h0M284.4 236.1h0M296.8 236.6h0M298.6 236.3h0M299 235.7h0M303.2 236.6h0M307.4 235.9h0M311.9 236h0M311.3 235.8h0M318.7 235.7h0M319.8 235.8h0M319.6 235.9h0M320.5 236.1h0M330.5 235.8h0M333.1 235.9h0M335 236.4h0M344.9 236.6h0M347.2 235.9h0M350 236.3h0M240.8 237.3h0M262.3 237.6h0M265.1 237.6h0M269.2 237.3h0M270.6 236.7h0M271.1 237.5h0M271.9 236.7h0M283.7 237.3h0M284.2 237.1h0M286 237.6h0M288.7 237h0M289.9 236.8h0M290.2 237.6h0M292.1 237.6h0M291.7 237.1h0M293.9 237.3h0M297.3 236.7h0M300 237.6h0M302.5 237h0M304.4 237.1h0M306.4 237.2h0M310.7 236.9h0M310.9 236.9h0M314.5 237.2h0M315.9 236.9h0M316.5 237.3h0M318.7 236.7h0M318.2 236.8h0M324.4 236.9h0M325.6 236.8h0M325.5 237.6h0M326.2 237.5h0M327.6 237.6h0M329.6 237.3h0M331.5 237h0M334.2 237.6h0M335.7 236.8h0M344.2 236.8h0M346.1 237.4h0M366.6 237.6h0M275.3 237.7h0M276.7 238.6h0M278.6 238.1h0M280.3 237.7h0M286.1 237.9h0M288.1 237.6h0M288 238.2h0M288.4 237.7h0M290 238.2h0M291.7 237.7h0M294.8 237.9h0M295.8 237.8h0M296.9 237.9h0M303.8 238.6h0M306 238.1h0M309.9 238h0M312 237.8h0M312.2 238.1h0M315 237.7h0M315 238.2h0M324.5 237.9h0M326.9 238h0M326.7 238.3h0M329.2 238.5h0M330.5 238.1h0M330.3 238.1h0M331.1 238h0M335.7 237.9h0M344.2 237.9h0M344.4 238.4h0M345.3 237.8h0M277.6 239.2h0M282.7 238.9h0M283.6 239.5h0M285 238.7h0M287.3 238.6h0M290.7 239.5h0M296.4 238.7h0M298.6 239.2h0M301.3 239.5h0M303.5 239.5h0M304.3 238.8h0M304.3 238.9h0M305.5 238.9h0M310 239.3h0M309.6 238.8h0M310.4 238.9h0M317.5 239.5h0M317.9 239.6h0M320.9 239.5h0M324.8 239.5h0M325 239.4h0M337.9 239.5h0M344 239h0M351.2 239.3h0M357.6 239.6h0M264.7 240.3h0M267.9 240.1h0M280.1 240.5h0M282.1 240.1h0M284 240.2h0M284.5 239.8h0M287 240.5h0M286.2 240.1h0M293.5 240.1h0M304.7 239.9h0M309.3 240.4h0M311.1 240.4h0M312.9 240.2h0M313.2 240.4h0M322.1 240.3h0M321.4 240h0M324.1 239.9h0M324.3 239.9h0M326.4 240.1h0M328.4 240h0M328.3 239.7h0M337 240.4h0M354.6 240.1h0M258.6 240.8h0M263.7 241.1h0M268.1 241.1h0M278 241.1h0M278.4 241.5h0M284 241.3h0M284.5 241.3h0M285.5 240.6h0M292.5 241.5h0M296.3 241.4h0M297.5 241.1h0M298.8 240.8h0M299.6 240.6h0M301 241.2h0M303.1 241.5h0M302.9 241.4h0M303.9 240.8h0M303.3 240.8h0M307.9 240.7h0M310.4 240.9h0M310.9 240.8h0M311.4 241.5h0M314.6 241.2h0M315.9 241.3h0M315.1 240.7h0M317.5 241.1h0M319 241.4h0M320.3 241h0M321.3 240.8h0M322.1 241.1h0M323.2 241.1h0M323.1 241.4h0M325.5 240.9h0M337.5 241.2h0M337.7 240.8h0M339.9 241h0M343.3 241.1h0M346.3 241.3h0M354.9 241.3h0M258.7 241.8h0M273.1 242.4h0M275.2 242.3h0M277.7 242.2h0M279.3 242.3h0M282.1 242.2h0M284.9 242.3h0M293.4 242.4h0M293.3 242.3h0M294.8 241.8h0M295.3 241.7h0M297.8 241.7h0M299.3 242.4h0M307.8 242.2h0M312 241.8h0M312.9 241.7h0M320.4 242.3h0M320.7 241.6h0M321.1 242.2h0M323.4 242.6h0M324.6 242.4h0M324.3 242.5h0M327.1 242.1h0M327.5 242.1h0M330.3 242.3h0M330.6 242.2h0M332.6 242.5h0M333.4 241.7h0M334.2 242.2h0M335 242.3h0M334.2 242.2h0M336.3 242.3h0M336.4 242.3h0M337.5 242.2h0M342.4 242.6h0M344.7 241.9h0M348 241.6h0M284.7 243.4h0M286.8 243.1h0M290.7 243h0M293.9 243.3h0M295.4 242.9h0M298.4 243.3h0M301.2 242.9h0M302.5 243.3h0M309.4 242.6h0M313.1 242.8h0M316.8 242.6h0M317.9 242.8h0M320.3 242.6h0M323.4 242.9h0M324.7 243.5h0M327.7 243.2h0M327.4 243.2h0M330.8 242.7h0M331.9 242.8h0M337.1 243.3h0M340.7 243.1h0M343 243.4h0M279.2 243.8h0M284.9 244.2h0M286.3 244.1h0M287.3 244h0M294.6 243.6h0M295.3 244.1h0M298.4 244.5h0M301.8 243.9h0M310.2 244.2h0M312.8 243.9h0M317 243.8h0M319.1 243.7h0M320.8 244.5h0M328.2 244.3h0M330.4 243.7h0M334.5 243.8h0M343 244.5h0M344.8 243.6h0M345.1 244h0M347.6 243.8h0M243.6 245.2h0M296.6 245.5h0M306 245h0M306.8 245.4h0M317.7 245.2h0M318.4 245.3h0M319.5 245.4h0M324.3 245h0M325.5 244.9h0M328.2 244.7h0M329.3 245.4h0M334.5 244.6h0M337.2 244.9h0M340.8 245.5h0M346.9 244.9h0M284 245.9h0M289.2 246.5h0M304.6 245.8h0M307.9 245.5h0M311.4 246h0M317.2 246.2h0M326.3 245.6h0M331.1 246.5h0M336 245.7h0M344.9 245.9h0M349.5 245.9h0M273.3 247.3h0M289.1 247.2h0M291.8 247.2h0M296 247h0M304.4 246.6h0M307.6 247.5h0M308.2 246.9h0M312.2 247h0M314.9 246.9h0M321.7 246.6h0M324.1 247.3h0M326.6 246.7h0M339.6 246.9h0M340.3 246.8h0M292 247.8h0M293.8 248.3h0M295.6 248.3h0M295.6 248.3h0M299.7 247.9h0M306.7 247.5h0M309.2 248.5h0M340 248.2h0M340.2 247.8h0M340.2 247.6h0M340.6 247.7h0M260.8 248.8h0M306.6 248.5h0M313.8 248.6h0M316 248.9h0M273.6 250.4h0M303.5 250.2h0M310.7 250.4h0M313 249.6h0M312.6 250.4h0M317.2 250.1h0M317.4 250.1h0M345.4 250.1h0M277.2 250.5h0M298.3 250.5h0M301.1 251h0M325.7 251.1h0M327.7 250.5h0M338.7 251.1h0M288.4 251.6h0M317.5 252.1h0M319.2 251.7h0M320.4 251.5h0M320.2 252h0M278.5 253h0M298.6 252.9h0M322.5 252.7h0M325.2 253.4h0M326.4 252.8h0M320 254h0M302.7 254.9h0M310.6 254.6h0M324.8 255.2h0M293.1 256.3h0M338.9 255.7h0M287.4 256.5h0M262 182.9h0M267.7 181h0M298.7 182.2h0M304.3 179h0M307.3 177.7h0M310 179.8h0M314 177.4h0M319.3 177.7h0M320.1 177.7h0M325 179.8h0M327.3 176.7h0M328.3 181.3h0M309.1 185.6h0M320.6 185.6h0M329.4 187.7h0M332.3 184.3h0M340.6 185.3h0M358.7 186.4h0M361 188h0M359 192.1h0M361.9 192.9h0M349.4 192.9h0M338.7 193.2h0M308 192.2h0M375.7 198.7h0M376 206.6h0M371 205.3h0M266 205.3h0M249.6 242h0M263.7 245.9h0M300.7 258.3h0M283.3 249.9h0M286 248.8h0M287.7 252.2h0M291.3 248.8h0M308.3 251.5h0M311.3 253.4h0M262 238.3h0M269.6 243.3h0M273.3 244.3h0M276 244.8h0M358 232h0M362 234h0M364 233.6h0M366 233.4h0M369.3 232.3h0M336.3 249.5h0M320.7 253.7h0" stroke="#000" stroke-width="2.6" stroke-linecap="round" fill="none"/>
<path d="M357.8 187.4 297.8 191.1 287.2 191.4 303.1 192 301.4 195.3 314.9 196.9 313 197.8 332.6 197.9 350.9 198 305.9 198.6 329.5 199.4 317.1 201 319.2 200.6 326.6 200.5 319.2 201.9 291.5 202.5 301.4 202.5 321 202.7 351 202.7 300.6 203.2 305.9 203.6 314.3 203.6 350.8 203.4 351.8 203.3 292.8 204.7 313.2 204.5 324.6 204.3 328.4 204.3 349.6 204.4 307.8 205.7 325.1 205.3 340.7 205.7 353.5 205.9 323.1 206.2 324.9 206.1 334.5 206.3 335.9 206.4 338.7 206.1 340.8 207 345 206.5 347.9 206.8 349.6 206.3 356.5 206.2 361.6 206.8 295.8 207.3 334.3 207.1 343.2 207.1 349.3 207.1 364.6 207.9 294.9 208.9 295.8 208.1 300.3 208.7 303.8 208.8 314.2 208.4 318.5 208.9 322.7 208.3 345.9 208.7 347.4 208.8 354.8 208.6 354.5 208.1 363.7 208.1 291.4 209.7 294.7 209.3 310.3 209.7 314.7 209.3 320.3 209.1 343.8 209.7 346 209.5 362.6 209 279.2 210 296.2 210.4 304.4 210 308.9 210.9 323.8 210.1 323.4 210.7 329.1 210.9 334.6 210.1 335.3 210.3 337.4 210.5 346.4 210.1 357.4 210.2 362.7 210.8 283.5 211.4 292.8 211.6 294.1 211.5 301.8 211.8 326.7 211.1 328.2 211.7 328.7 211.9 332.9 211.5 336.9 211.6 336.5 211.8 339.5 211.7 292.3 212.7 293.9 212 297.4 212 297.3 212.4 299.1 212.4 302.8 212 305.2 212 306.4 212.3 313.6 212.8 315.5 212.2 320.1 212.8 332 212.3 335.9 212.4 338.3 212.3 339.1 212.4 347.3 212.8 377.5 212.4 282.9 213.2 293.6 213.3 294.2 213.6 296.2 213.6 304.4 213.8 309 213.7 314.9 213.7 320.2 213.7 322.4 213.5 322.5 213.9 331.7 213.6 333 213.2 337.6 213.7 352 213.8 358.7 213.1 296.9 214.8 297.2 214.8 303.7 214.3 306 214.5 308.3 214.3 315.4 214.5 317.3 214.1 320.1 214.8 320.4 214.4 326.3 214.5 328.2 214.1 331.1 214.6 330.5 214.5 342.1 214.6 347.7 214.9 349.8 214.1 354.4 214.3 355.2 214.7 373.1 214.8 286.7 215.8 305.6 215.1 307 215.2 310.5 215.7 314.9 215.3 324 215.5 329.5 215.4 334.1 215.7 337 215.2 336.3 215.1 338.5 215.2 338.7 215.8 351.1 215.8 353.8 215.1 359.2 215.6 360.2 215.4 309.9 216.7 311.8 216.5 318.2 216.4 320.8 216.2 322.4 216.8 352.9 216.3 361.5 216.5 368.4 216 306.9 217.1 309.7 217.2 320.5 217.6 322 217.8 326 217.4 325.5 217.6 333.5 217.4 333.6 217.6 337 217.5 337.4 217.3 354.8 217.6 356.3 217.4 374 217.5 289.1 218.3 292.6 217.9 297.3 218.3 301.6 218.3 304.1 218 306.2 218.6 308.5 218.6 309.3 218 313.1 218.3 312.3 217.9 317.2 218.4 323.7 218.2 328.2 218.4 328.2 218 331.1 218.6 333.9 218.3 341.3 217.9 345 218.1 344.6 218.4 345.1 218.6 366.2 218.2 371.7 218.8 270.8 219.6 281 219.3 290.4 219.6 292.1 219 295.6 219.2 312.8 219.6 314.5 219.2 316.5 218.9 318.7 219.3 321.3 219.8 335.8 219.2 343.8 219.6 344.3 219.3 346 219.3 354.6 219 361.8 219.3 292.1 220.6 293.7 220 298.3 220.2 304.3 220.5 324.8 220 327 220.7 326.3 220 328.7 219.9 331.6 220.7 333.5 220.6 334.6 220.6 337.5 220.2 342.2 220 343.9 220.7 353.2 220.4 355.4 220.4 357.4 220.1 357.9 220.2 268.2 220.9 272.2 221.2 286.3 221.3 297.8 221.3 301.3 221.3 304.1 221.4 308.4 221.6 313.6 221.7 323.4 221 323.2 221.2 324.9 221.1 326 221.5 331.1 221.6 331.7 221.2 334.2 221.2 336.7 221.2 337.6 220.9 337.7 221.7 338.7 221.7 339.6 221.1 342 221.3 342.8 221.3 350 221.4 355.1 221.8 372.2 221.3 278.6 222.6 286.3 222.5 293.8 222.6 295.5 222.7 304 222.8 312.1 222.3 312.5 222.5 314.3 222.2 315.3 222.2 315.5 222.2 316.1 221.9 316.9 222.7 318.2 222.4 321.1 222.7 321.4 222.3 321.7 222.2 329.2 221.9 333.4 222.3 334.2 222.3 353.3 222.8 354.4 222.4 303.9 223.1 306.2 223.8 311.6 222.9 313.4 223.6 315 223.5 321.9 223 323.5 223.4 325.4 223.7 326.4 223.4 326.5 222.8 332.9 223.3 338.8 223.7 340.5 223.8 343.9 223.7 348.7 223.1 351.9 223 352.3 223.1 357.4 223.7 358.1 223.4 364.7 223.6 279.9 224.1 280.6 224.1 296.2 223.9 298.4 224.1 305.3 223.9 306.5 224 311.1 224.3 312.7 224.6 314.5 223.9 318.5 224.5 327.4 224.1 328.6 224.1 331.3 224.1 332.3 224.2 338.1 224.1 353.6 224 358.5 224.7 371.9 224.2 285.4 224.8 289 225.2 289.9 225.1 290.5 225.2 298.4 225.5 302 225.5 302 225.7 307.2 225.3 312.1 225.5 323.8 224.8 323.4 225.3 324 224.9 326.9 225.7 327.5 224.9 333.6 225.4 337.8 225.5 353.3 225.1 354.6 225.6 357.4 225.3 273 225.8 277.8 226.6 285.3 226.4 287.7 226.7 300 226.7 299.2 226.4 302.8 225.8 302.8 226 304 226.1 305.6 226.5 307 225.9 307.4 226.5 308 226.4 308 226.7 310.1 226 310.7 226.7 310.2 226.5 314.8 226.2 314.9 226 318.8 226.3 321.6 225.8 321.2 225.8 321.3 226.1 325.9 226.2 335.5 226.2 348.3 226.6 352.2 225.8 356 226.2 369.7 226.5 290.4 227.3 304.5 227.1 317.6 227.2 319.4 227.7 321.9 226.9 321.6 226.9 322.1 227.6 323.4 227 328.2 227.6 331 227.1 335 227.5 336.8 226.9 337.2 227.2 341.8 227.5 341.3 227.3 342.6 227.2 355.2 226.9 272.4 228 300.9 228.4 302 228.4 303 228 304.5 228.5 306.1 228.7 306 227.9 310.3 227.8 311.3 228.2 312.4 227.9 313.6 228.3 316.2 228.3 319.1 228.6 321.1 228.1 322.6 228.4 329 228 329.6 228.3 332 228 333 228.5 338.2 227.9 340.9 228.2 347.8 228 350.9 228.1 353.5 227.9 354.9 227.9 356.3 228.6 367.7 228.4 296.8 229.5 297.2 229.6 298.9 229.1 307.6 229.2 309.2 229.7 313.3 229.5 314.9 229.6 314.2 229.2 319.7 229.6 319.5 229.3 323.1 229.3 322.4 228.8 327.1 229.5 328.4 229.1 330.1 229 343.5 229.6 346.2 229.7 383.5 229.7 273.3 229.9 284.9 230.7 289.7 230 289.9 230.6 289.5 230.2 290.2 230.4 297.4 230.4 300.7 230 302.6 230.7 305.6 229.9 310.5 230 317.4 230.4 317.9 230 318.7 230.5 319.4 229.8 325.5 230.2 326.7 230.1 326.5 229.9 327.6 230.4 329.1 230.1 329.7 230 330.9 229.9 332.2 230.4 334.7 229.8 336.3 230.2 340.8 230.6 343.5 230.7 346.7 230.4 350.9 230.5 350.1 230.4 359.2 230.4 274.2 231.3 282.9 231.4 294.1 231.6 295.5 230.8 296.4 231.4 298.6 231.3 299.9 231.3 300.9 231.5 303.5 231.6 304.3 231.6 314.2 231.7 316.7 231.1 316.5 231 320.3 231.4 322.1 231.4 322.4 230.9 325.6 231.3 328.9 231.4 332.9 230.8 333.4 231.2 335 230.9 336.3 231.4 339.2 231.5 340.4 231.1 341.9 231.1 279.3 231.7 295 232.3 297.1 231.9 301.3 232.3 302.1 232 302.5 232.6 306.4 231.9 308 232.3 308.4 232.6 310.8 232 311.9 232.5 318.9 232.6 318.8 231.7 327.7 231.8 328.8 232.2 343.1 232.1 348.2 232.3 349.3 232 358.4 232.2 359.4 232.7 361.3 232.1 288.4 232.8 296.4 233.2 304.2 232.7 312.7 232.9 315.5 233.3 327.7 233.3 330.1 233.4 333.2 233.5 343.3 233.6 345.2 233.3 348.5 233.4 269.8 233.8 276.1 234.3 290.4 234.1 291.5 234.5 299.4 234.4 307.3 234.3 307.6 234 315 234.2 314.8 234.6 314.6 234.3 315.1 234.1 318.5 234 324.5 234.4 324.2 233.8 326.6 233.9 328.4 234 333.4 233.9 338.8 234 341.3 233.7 342.5 234.5 344.2 234.3 352.6 233.7 275.2 235.3 286.4 235.1 291.5 235.3 299.7 235 300.5 235.5 300.3 235.1 306.8 235.1 307.6 235.5 309.9 235.3 311.4 235.2 312.5 235.4 316.2 234.8 319.6 235.2 327 234.9 330.7 235.1 333.8 235.1 335 235 353.2 234.9 359 234.9 296.8 236.6 298.6 236.3 307.4 235.9 318.7 235.7 330.5 235.8 333.1 235.9 335 236.4 347.2 235.9 350 236.3 269.2 237.3 271.9 236.7 286 237.6 290.2 237.6 302.5 237 304.4 237.1 310.7 236.9 310.9 236.9 316.5 237.3 325.6 236.8 326.2 237.5 327.6 237.6 331.5 237 344.2 236.8 346.1 237.4 290 238.2 306 238.1 309.9 238 312.2 238.1 315 237.7 324.5 237.9 326.7 238.3 329.2 238.5 335.7 237.9 344.2 237.9 344.4 238.4 345.3 237.8 290.7 239.5 296.4 238.7 298.6 239.2 303.5 239.5 310 239.3 317.9 239.6 324.8 239.5 357.6 239.6 284 240.2 286.2 240.1 309.3 240.4 312.9 240.2 313.2 240.4 321.4 240 324.1 239.9 328.3 239.7 337 240.4 302.9 241.4 303.9 240.8 303.3 240.8 310.4 240.9 314.6 241.2 317.5 241.1 323.2 241.1 323.1 241.4 325.5 240.9 337.7 240.8 339.9 241 354.9 241.3 258.7 241.8 312.9 241.7 320.7 241.6 321.1 242.2 324.3 242.5 330.3 242.3 330.6 242.2 333.4 241.7 334.2 242.2 336.4 242.3 337.5 242.2 342.4 242.6 348 241.6 290.7 243 298.4 243.3 302.5 243.3 313.1 242.8 320.3 242.6 323.4 242.9 327.7 243.2 287.3 244 295.3 244.1 298.4 244.5 312.8 243.9 317 243.8 319.1 243.7 320.8 244.5 330.4 243.7 334.5 243.8 345.1 244 325.5 244.9 334.5 244.6 340.8 245.5 346.9 244.9 304.6 245.8 311.4 246 326.3 245.6 336 245.7 273.3 247.3 289.1 247.2 291.8 247.2 304.4 246.6 321.7 246.6 339.6 246.9 340.3 246.8 293.8 248.3 295.6 248.3 313.8 248.6 316 248.9 313 249.6 317.2 250.1 317.4 250.1 298.3 250.5 301.1 251 325.7 251.1 338.7 251.1 288.4 251.6 319.2 251.7 320.4 251.5 298.6 252.9 325.2 253.4 326.4 252.8 320 254 310.6 254.6 338.9 255.7 262 182.9 298.7 182.2 304.3 179 307.3 177.7 314 177.4 319.3 177.7 325 179.8 327.3 176.7 328.3 181.3 340.6 185.3 358.7 186.4 361 188 359 192.1 361.9 192.9 349.4 192.9 375.7 198.7 376 206.6 371 205.3 300.7 258.3 291.3 248.8 308.3 251.5 358 232 362 234 364 233.6 366 233.4 336.3 249.5" class="rg"/>
<path d="M523.3 45.4h0M549.5 45.1h0M498.6 47h0M507.2 48.4h0M537.4 48.2h0M515.2 50h0M531.2 49.9h0M529.4 50.4h0M545.2 50.4h0M513 51.9h0M521.2 51.5h0M531 51.3h0M538 51.4h0M516.8 52.7h0M539.5 52.1h0M497.5 53.5h0M510.4 53.8h0M517 53.9h0M535.7 53.3h0M541.8 53.9h0M484.5 54h0M490.4 54.5h0M499 54.5h0M509.3 54.8h0M510.4 54.9h0M510.8 54.6h0M515.9 54.9h0M520 54.3h0M524.4 54h0M552.3 54.3h0M554.3 54.5h0M570.6 54.3h0M487.5 55.2h0M502.8 55.5h0M511.1 55.9h0M534.3 55.3h0M541.6 55.1h0M547.4 55h0M488 56.3h0M492.7 56.6h0M492.5 56.8h0M499.1 56.9h0M520.3 56.2h0M528.7 56.2h0M530 56.1h0M536.2 56.4h0M538.9 56.7h0M539.1 56.2h0M546.5 56.3h0M485.9 57h0M529.7 57.2h0M531.4 57.1h0M532.9 57.7h0M539.7 57.9h0M550.4 57.1h0M550.9 57.8h0M551.9 57.9h0M556.6 57.5h0M482 58.3h0M490.5 58.3h0M495.8 58.2h0M496.3 58.6h0M502.7 58.4h0M528.9 58.4h0M528.7 58.7h0M533.6 58.5h0M539.8 58.3h0M544.2 58.8h0M490.5 59.6h0M496.5 59.4h0M500.6 60h0M504.7 59.1h0M506.8 59.5h0M512.5 59.2h0M513.7 59.7h0M529.8 59.1h0M534.9 59.6h0M535.3 59.6h0M536.7 59.4h0M539.1 59.9h0M546.8 59.7h0M507.9 60.7h0M511.5 60.8h0M519.4 60.4h0M520.1 60.9h0M527.2 60h0M529.9 61h0M529.1 60.6h0M539.2 60.6h0M543.4 60.6h0M543.5 60.6h0M544.2 60h0M553.4 60.5h0M554.8 60.2h0M498.7 61.1h0M507.3 61.9h0M515.9 61.1h0M519.5 61.1h0M522.9 61.4h0M529 61h0M529.7 61.5h0M532.3 61.4h0M563.8 62h0M481.9 62.1h0M499.3 62.1h0M499.9 62.7h0M502.7 62.8h0M508.5 62.5h0M511.6 62h0M512.2 62.6h0M521.1 62.2h0M522.3 62.4h0M527.7 62.4h0M532.6 62.7h0M536.7 62.7h0M540.6 62.2h0M542.9 62.8h0M551.2 62.9h0M559.8 62.9h0M567.8 62.8h0M482 63.3h0M486.8 63.4h0M487.4 63.3h0M495.5 63.5h0M511.1 63.7h0M515.9 63.8h0M532.6 63.7h0M536.2 63.7h0M541.9 63.7h0M560.9 63.8h0M562.7 63.6h0M478.1 64.1h0M505.4 64.6h0M514.5 64.2h0M517.8 64.7h0M525.7 64.9h0M526.4 64.3h0M530 64.5h0M535.7 64.4h0M540.5 64.2h0M548.5 65h0M550.1 64.5h0M551 64.5h0M555.7 64.9h0M475.4 65.6h0M488.5 65.8h0M488.4 65.8h0M499.7 65.7h0M506.3 65.2h0M509.6 65.8h0M511.2 65.2h0M512.3 65.8h0M519.6 65.7h0M522 65.8h0M522.3 65.3h0M529.1 65.7h0M540.6 65.7h0M542.7 65.8h0M544.9 65.2h0M546.5 65.1h0M552.7 65.3h0M554.8 65.1h0M558.5 65.6h0M560.7 65h0M484.7 66.6h0M496.3 67h0M498.3 67h0M502.2 66.1h0M502.9 66.9h0M508.9 66.8h0M510.3 66.7h0M513.8 66.9h0M518.9 66.6h0M520.1 66.1h0M527.7 66.1h0M527.4 66.4h0M527.6 66.3h0M533.3 66.3h0M533.5 66.6h0M538.8 66.5h0M538.3 67h0M555 66.5h0M490 67.4h0M490.5 67.2h0M507.5 67.6h0M513.2 67.8h0M514.6 67.8h0M522 67.3h0M521.3 67h0M521.3 67.2h0M525.2 67.2h0M526.2 67h0M539.9 67.7h0M539.3 67.6h0M543 67.6h0M547.2 67.4h0M486.5 68.7h0M493 68.7h0M498.6 69h0M499.4 68.8h0M504.2 68.1h0M505.8 68.2h0M507.6 68h0M507.8 68.3h0M510.9 68.5h0M512.2 68.6h0M512.6 68h0M515.1 68.6h0M522.2 68h0M523.6 68.1h0M530.6 68.1h0M538.5 68.1h0M540.7 68.1h0M549.9 69h0M502.1 69.5h0M505.8 69.5h0M512.4 69.2h0M516.1 69.4h0M516.2 70h0M520.5 69.3h0M525.6 69.7h0M526.9 69.2h0M526.5 69.5h0M527.7 69.8h0M528.6 69.8h0M531.1 69.9h0M537.9 69.9h0M539.8 69h0M553.4 69.4h0M495.7 70.5h0M503.2 70.7h0M503.2 70.1h0M506.4 70.4h0M507.3 70.3h0M515 70.5h0M516 70.7h0M518 70.6h0M519.7 70.5h0M519.3 70.2h0M522 70.5h0M525.4 70.7h0M526.6 70.5h0M529.1 70h0M533.4 70.7h0M534.7 70.1h0M550.5 70.2h0M552.4 70.9h0M556.3 70.5h0M480.2 71.8h0M497 71.5h0M501 71.8h0M511.7 71.4h0M512.4 71.1h0M514.3 71.1h0M521.8 71.6h0M531.4 72h0M535.1 71.2h0M538.9 71.1h0M541 71.3h0M544.5 71.7h0M545.5 71.9h0M547.7 71.7h0M554.3 71.1h0M555.2 71.9h0M485.2 72.2h0M491.2 72.8h0M491.1 72.8h0M494.1 72.7h0M498.6 72.4h0M500.7 72.8h0M502 73h0M510.6 72.4h0M513.5 72.1h0M515.7 72.9h0M522.9 72.9h0M523.7 72.5h0M525.2 72.4h0M526.9 72.6h0M527.3 72.5h0M529 72.6h0M528.3 72.7h0M530.8 72.8h0M536.7 72.6h0M540 72.4h0M539.8 72.3h0M546.6 72.5h0M554.3 72.6h0M487.6 73.1h0M496.5 73.8h0M497.4 73.8h0M500.9 73.1h0M502.7 73.9h0M502.9 73.8h0M507.2 73.2h0M513.1 74h0M515 73.7h0M515.4 73.6h0M518.2 73.1h0M518.4 73.8h0M520 73.4h0M523.2 73.9h0M524.8 73.5h0M526.9 73.9h0M530.9 73.7h0M539.1 73.6h0M540.7 73.5h0M542 73.7h0M545.4 73.9h0M551.4 73.7h0M479.4 74.8h0M490.9 74.1h0M493.7 74.8h0M495.5 74.7h0M502.7 74h0M504.6 74.7h0M507.3 74.7h0M509.3 74.7h0M515.7 74.9h0M526.7 74.5h0M531.1 74.1h0M532.4 74.5h0M532.7 74.8h0M532.8 74.4h0M539.6 74.6h0M541.1 74.4h0M541.7 74.3h0M543.8 74.6h0M544.2 74.8h0M544.6 74.5h0M486.4 75.8h0M492.7 75.8h0M495.9 75.3h0M496.6 75.2h0M509.2 75.1h0M511.7 75h0M516.2 75.8h0M517.4 75h0M517.8 75.1h0M521.6 75.7h0M541.6 75.2h0M549.4 75.7h0M491 76.2h0M491.6 76.9h0M493.7 76.1h0M494.4 76.3h0M499.4 76h0M500.8 76h0M505.6 76.5h0M507.4 76.2h0M515 77h0M514.3 76.6h0M514.5 76.6h0M520.4 76.3h0M520.2 76.5h0M523.6 76.2h0M523.7 76.7h0M524.2 77h0M531.2 76.2h0M533.5 76.9h0M536.9 76.9h0M541.7 76.1h0M542.6 76.3h0M545.5 76.2h0M553.6 76.1h0M554.7 76.9h0M485 77.6h0M487 77.5h0M487.3 77.3h0M489.1 77.6h0M496.9 77.8h0M496.4 77.9h0M506.1 77.5h0M513.7 77.7h0M517.3 77.2h0M522.7 77h0M530.1 78h0M534 77.5h0M534.9 77.9h0M537.3 77.4h0M543.3 77.4h0M545.7 77.7h0M554.6 77.1h0M482.9 78.8h0M492 79h0M496.7 78.8h0M503.8 78.7h0M509.9 78.7h0M521.4 78.5h0M529.2 78.3h0M532.1 78.7h0M539.5 78.2h0M551.5 78.5h0M554 78.1h0M488.5 79.5h0M490.5 79.7h0M498.7 79.8h0M499.5 79.5h0M500.7 79.4h0M506.7 79.6h0M508.1 79.3h0M507.7 79.3h0M509.5 79.5h0M511.4 79.4h0M515.3 79.9h0M521.3 79.2h0M523.6 79.3h0M523.2 79.6h0M525 80h0M524.5 79.9h0M526.3 79.5h0M534.4 79.5h0M535.6 79.7h0M536.2 79h0M542.2 79.2h0M548.7 79.4h0M549.3 79.2h0M498 80.5h0M501.1 80.9h0M508.6 80.2h0M511.1 80.8h0M517.4 80.4h0M521.4 80.8h0M524.9 81h0M526.3 80.2h0M529.4 80.4h0M531.2 80.4h0M537.5 80.6h0M540.5 80.9h0M544.2 80.6h0M547.3 80.7h0M557.6 81h0M491.1 81.8h0M496 81.1h0M503.4 81.3h0M505.1 81.4h0M505.4 81.5h0M507.4 81.7h0M513.8 81.7h0M521.8 81.5h0M525.6 81h0M527.2 81.9h0M542.1 81.8h0M542.1 81.1h0M551.7 81.5h0M494.1 82.7h0M504.2 82.3h0M513.2 82.5h0M514 82.3h0M517.2 82.3h0M518 82.8h0M522.5 82.4h0M529.2 82.4h0M536.9 82.1h0M542.5 82.5h0M491.8 83.1h0M494.6 83.5h0M506 84h0M506.3 83.6h0M508 83.4h0M510.7 83.9h0M519.7 83.5h0M523.6 83.1h0M526.3 83.7h0M531.3 83h0M541.2 83.1h0M493.4 84.1h0M500.8 84.1h0M516.3 85h0M516.2 84.5h0M517.6 84.5h0M524 84.7h0M535.6 84.1h0M535.3 84h0M488.1 85.4h0M489.8 85.8h0M493.1 85.8h0M502.5 85.2h0M507.9 85.2h0M511.5 85.2h0M516.2 85.4h0M521.9 85.6h0M528.6 86h0M529.9 85.4h0M530.7 85.3h0M531.9 85.8h0M532.4 85.9h0M536.1 85.3h0M540.1 85.2h0M543.5 85.2h0M545.9 85.8h0M551.8 85.1h0M563.8 85.5h0M490.8 86.8h0M496.5 86.8h0M508.1 86.5h0M507.4 86.7h0M517.4 86.6h0M522.9 86.1h0M524.6 86.6h0M528.1 86.3h0M530.4 86.5h0M533.1 87h0M536.6 86h0M553.7 86.8h0M557.3 86.8h0M499.1 87.6h0M499.7 87.3h0M507.5 87.3h0M514.1 87.7h0M519.4 87.3h0M520.9 87.4h0M521.5 87.1h0M523.4 87.1h0M527.9 87.8h0M529.7 87.5h0M539.8 87.3h0M540.4 87.1h0M550.4 87.6h0M495 88.3h0M506.6 88.5h0M506.3 89h0M513.7 88.1h0M516.5 88.5h0M521.1 89h0M521.3 88.2h0M529.3 89h0M534.2 88.3h0M536.3 88.7h0M537.7 88.4h0M538.3 88.7h0M540.4 88.8h0M560.9 88.5h0M502.6 89.5h0M513.1 89.7h0M515.6 89.6h0M525 89.9h0M532.7 89.4h0M534.9 89.4h0M538.4 89.8h0M493.3 90.6h0M509.5 90.7h0M519.7 90.1h0M519.9 90.6h0M521.9 90.9h0M530.3 90.4h0M548.4 90.7h0M502 91.9h0M504.1 91.1h0M508.4 91.3h0M510.6 91.4h0M511.6 92h0M515.7 91.4h0M518.1 91.4h0M518.1 91.1h0M526 91.1h0M532 91.6h0M533.2 91.9h0M537.2 91.5h0M539.3 91.5h0M546.8 91h0M500.9 92.8h0M504.2 92.5h0M513.1 92.4h0M515.3 92h0M518.9 92.1h0M543.3 92.1h0M544.5 92.7h0M551.3 92.2h0M496.6 93.2h0M522.2 93h0M529.6 93.2h0M495.4 94.7h0M501.7 94.6h0M503.4 94.7h0M517.3 94.2h0M519.9 94.8h0M535.4 94.2h0M490.3 95.6h0M506.3 95.4h0M525.5 95.8h0M523.6 96.3h0M534.7 96.3h0M538.1 96.8h0M514.6 97.9h0M534 98h0M506 98.2h0M520.5 98.5h0M525.3 98.2h0M508.9 99.8h0M535.1 99.5h0M547.4 99.7h0M493.4 100.3h0M510.4 100.6h0M503.5 101.1h0M509 101.6h0M517.9 103.8h0M494.4 34.9h0M502.7 30.3h0M505.3 29.3h0M509.6 30.7h0M515.3 28h0M520 31.6h0M522.4 29.3h0M523.7 34h0M524.9 40.7h0M536 38h0M534 46.3h0M537.3 46h0M510.7 50h0M481.6 53.7h0M479.3 58.3h0M474 60.7h0M535.9 37.9h0M553.8 39.1h0M555.9 40.3h0M556.6 44h0M557.4 45.4h0M533.9 46.1h0M537.3 46.1h0M544.9 45.4h0M543.4 50.7h0M571.2 51.8h0M571.5 58.3h0M566.6 58.6h0M475.3 82.9h0M481 86.9h0M475.7 92.3h0M478 90.4h0M480 91.3h0M482.7 92.3h0M476.7 102.4h0M496.3 103.3h0M503.3 105.1h0M511.3 100.7h0M514 103.7h0M515.7 106h0M526.4 100.7h0M531.7 102h0M525 97.3h0M492 91.7h0M498.4 97.6h0M559.3 79.9h0M557.4 87.8h0M559.9 86.6h0M562 86h0M564.8 85.1h0M562.7 76.2h0M546.5 90.2h0M541.6 93h0M531.8 101.8h0" stroke="#000" stroke-width="2.6" stroke-linecap="round" fill="none"/>
<rect x="472.4" y="69.7" width="8.2" height="8.2" fill="#f0f"/>
<rect x="490.1" y="67.2" width="8.2" height="8.2" fill="#f0f"/>
<rect x="507.1" y="65.7" width="8.2" height="8.2" fill="#f0f"/>
<rect x="524.1" y="63.9" width="8.2" height="8.2" fill="#f0f"/>
<rect x="541.9" y="62.5" width="8.2" height="8.2" fill="#f0f"/>
<rect x="558.9" y="59.1" width="8.2" height="8.2" fill="#f0f"/>
<path d="M523.3 192.6h0M549.5 192.3h0M498.6 194.2h0M507.2 195.5h0M537.4 195.4h0M515.2 197.1h0M531.2 197h0M529.4 197.5h0M545.2 197.6h0M513 199h0M521.2 198.6h0M531 198.5h0M538 198.5h0M516.8 199.8h0M539.5 199.2h0M497.5 200.6h0M510.4 200.9h0M517 201h0M535.7 200.4h0M541.8 201h0M484.5 201.1h0M490.4 201.6h0M499 201.5h0M509.3 201.9h0M510.4 202h0M510.8 201.7h0M515.9 202h0M520 201.4h0M524.4 201.1h0M552.3 201.4h0M554.3 201.6h0M570.6 201.4h0M487.5 202.2h0M502.8 202.6h0M511.1 203h0M534.3 202.4h0M541.6 202.2h0M547.4 202.1h0M488 203.4h0M492.7 203.7h0M492.5 203.9h0M499.1 204h0M520.3 203.2h0M528.7 203.2h0M530 203.2h0M536.2 203.4h0M538.9 203.7h0M539.1 203.3h0M546.5 203.4h0M485.9 204.1h0M529.7 204.3h0M531.4 204.1h0M532.9 204.8h0M539.7 204.9h0M550.4 204.2h0M550.9 204.8h0M551.9 205h0M556.6 204.6h0M482 205.3h0M490.5 205.4h0M495.8 205.3h0M496.3 205.7h0M502.7 205.4h0M528.9 205.5h0M528.7 205.7h0M533.6 205.5h0M539.8 205.4h0M544.2 205.8h0M490.5 206.6h0M496.5 206.5h0M500.6 207h0M504.7 206.1h0M506.8 206.5h0M512.5 206.2h0M513.7 206.8h0M529.8 206.1h0M534.9 206.6h0M535.3 206.6h0M536.7 206.5h0M539.1 206.9h0M546.8 206.7h0M507.9 207.7h0M511.5 207.8h0M519.4 207.4h0M520.1 207.9h0M527.2 207h0M529.9 208h0M529.1 207.6h0M539.2 207.6h0M543.4 207.6h0M543.5 207.6h0M544.2 207h0M553.4 207.6h0M554.8 207.2h0M498.7 208.1h0M507.3 208.9h0M515.9 208.1h0M519.5 208.1h0M522.9 208.4h0M529 208h0M529.7 208.5h0M532.3 208.4h0M563.8 209h0M481.9 209.1h0M499.3 209.1h0M499.9 209.7h0M502.7 209.7h0M508.5 209.5h0M511.6 209h0M512.2 209.6h0M521.1 209.2h0M522.3 209.4h0M527.7 209.4h0M532.6 209.7h0M536.7 209.6h0M540.6 209.1h0M542.9 209.8h0M551.2 209.9h0M559.8 209.9h0M567.8 209.8h0M482 210.3h0M486.8 210.4h0M487.4 210.3h0M495.5 210.5h0M511.1 210.7h0M515.9 210.8h0M532.6 210.7h0M536.2 210.6h0M541.9 210.6h0M560.9 210.8h0M562.7 210.6h0M478.1 211h0M505.4 211.5h0M514.5 211.1h0M517.8 211.7h0M525.7 211.9h0M526.4 211.2h0M530 211.5h0M535.7 211.3h0M540.5 211.2h0M548.5 211.9h0M550.1 211.4h0M551 211.5h0M555.7 211.8h0M475.4 212.5h0M488.5 212.7h0M488.4 212.8h0M499.7 212.7h0M506.3 212.2h0M509.6 212.8h0M511.2 212.1h0M512.3 212.7h0M519.6 212.7h0M522 212.8h0M522.3 212.3h0M529.1 212.6h0M540.6 212.7h0M542.7 212.8h0M544.9 212.2h0M546.5 212.1h0M552.7 212.2h0M554.8 212.1h0M558.5 212.6h0M560.7 212h0M484.7 213.5h0M496.3 213.9h0M498.3 213.9h0M502.2 213h0M502.9 213.8h0M508.9 213.7h0M510.3 213.6h0M513.8 213.8h0M518.9 213.6h0M520.1 213h0M527.7 213.1h0M527.4 213.3h0M527.6 213.2h0M533.3 213.3h0M533.5 213.5h0M538.8 213.5h0M538.3 213.9h0M555 213.4h0M490 214.4h0M490.5 214.1h0M507.5 214.6h0M513.2 214.7h0M514.6 214.7h0M522 214.3h0M521.3 214h0M521.3 214.1h0M525.2 214.2h0M526.2 214h0M539.9 214.6h0M539.3 214.6h0M543 214.5h0M547.2 214.3h0M486.5 215.6h0M493 215.6h0M498.6 215.9h0M499.4 215.8h0M504.2 215h0M505.8 215.2h0M507.6 214.9h0M507.8 215.2h0M510.9 215.4h0M512.2 215.5h0M512.6 214.9h0M515.1 215.5h0M522.2 214.9h0M523.6 215h0M530.6 215h0M538.5 215h0M540.7 215h0M549.9 215.9h0M502.1 216.4h0M505.8 216.4h0M512.4 216.1h0M516.1 216.3h0M516.2 216.8h0M520.5 216.2h0M525.6 216.6h0M526.9 216.1h0M526.5 216.4h0M527.7 216.7h0M528.6 216.7h0M531.1 216.8h0M537.9 216.8h0M539.8 215.9h0M553.4 216.3h0M495.7 217.4h0M503.2 217.6h0M503.2 217h0M506.4 217.3h0M507.3 217.2h0M515 217.4h0M516 217.6h0M518 217.5h0M519.7 217.4h0M519.3 217h0M522 217.4h0M525.4 217.6h0M526.6 217.4h0M529.1 216.9h0M533.4 217.6h0M534.7 217h0M550.5 217.1h0M552.4 217.8h0M556.3 217.4h0M480.2 218.7h0M497 218.4h0M501 218.7h0M511.7 218.3h0M512.4 218h0M514.3 218h0M521.8 218.5h0M531.4 218.8h0M535.1 218h0M538.9 218h0M541 218.2h0M544.5 218.6h0M545.5 218.8h0M547.7 218.6h0M554.3 218h0M555.2 218.8h0M485.2 219h0M491.2 219.6h0M491.1 219.7h0M494.1 219.6h0M498.6 219.2h0M500.7 219.7h0M502 219.9h0M510.6 219.2h0M513.5 219h0M515.7 219.8h0M522.9 219.7h0M523.7 219.3h0M525.2 219.3h0M526.9 219.4h0M527.3 219.3h0M529 219.5h0M528.3 219.5h0M530.8 219.6h0M536.7 219.4h0M540 219.3h0M539.8 219.1h0M546.6 219.3h0M554.3 219.5h0M487.6 219.9h0M496.5 220.7h0M497.4 220.6h0M500.9 219.9h0M502.7 220.7h0M502.9 220.6h0M507.2 220.1h0M513.1 220.8h0M515 220.5h0M515.4 220.5h0M518.2 219.9h0M518.4 220.7h0M520 220.2h0M523.2 220.8h0M524.8 220.4h0M526.9 220.7h0M530.9 220.5h0M539.1 220.5h0M540.7 220.4h0M542 220.5h0M545.4 220.7h0M551.4 220.5h0M479.4 221.7h0M490.9 220.9h0M493.7 221.7h0M495.5 221.6h0M502.7 220.8h0M504.6 221.6h0M507.3 221.5h0M509.3 221.5h0M515.7 221.7h0M526.7 221.3h0M531.1 221h0M532.4 221.3h0M532.7 221.6h0M532.8 221.3h0M539.6 221.4h0M541.1 221.2h0M541.7 221.1h0M543.8 221.4h0M544.2 221.7h0M544.6 221.4h0M486.4 222.7h0M492.7 222.6h0M495.9 222.1h0M496.6 222h0M509.2 221.9h0M511.7 221.9h0M516.2 222.6h0M517.4 221.8h0M517.8 222h0M521.6 222.5h0M541.6 222.1h0M549.4 222.5h0M491 223h0M491.6 223.7h0M493.7 222.9h0M494.4 223.1h0M499.4 222.8h0M500.8 222.8h0M505.6 223.3h0M507.4 223h0M515 223.8h0M514.3 223.4h0M514.5 223.4h0M520.4 223.1h0M520.2 223.3h0M523.6 223h0M523.7 223.5h0M524.2 223.8h0M531.2 223h0M533.5 223.7h0M536.9 223.8h0M541.7 222.9h0M542.6 223.2h0M545.5 223h0M553.6 222.9h0M554.7 223.7h0M485 224.4h0M487 224.3h0M487.3 224.1h0M489.1 224.4h0M496.9 224.6h0M496.4 224.7h0M506.1 224.3h0M513.7 224.5h0M517.3 224h0M522.7 223.8h0M530.1 224.8h0M534 224.3h0M534.9 224.7h0M537.3 224.2h0M543.3 224.2h0M545.7 224.5h0M554.6 223.9h0M482.9 225.5h0M492 225.8h0M496.7 225.6h0M503.8 225.4h0M509.9 225.5h0M521.4 225.3h0M529.2 225.1h0M532.1 225.4h0M539.5 225h0M551.5 225.3h0M554 224.9h0M488.5 226.3h0M490.5 226.5h0M498.7 226.6h0M499.5 226.3h0M500.7 226.2h0M506.7 226.3h0M508.1 226.1h0M507.7 226.1h0M509.5 226.2h0M511.4 226.2h0M515.3 226.7h0M521.3 226h0M523.6 226h0M523.2 226.3h0M525 226.7h0M524.5 226.7h0M526.3 226.3h0M534.4 226.2h0M535.6 226.5h0M536.2 225.8h0M542.2 226h0M548.7 226.2h0M549.3 225.9h0M498 227.3h0M501.1 227.6h0M508.6 227h0M511.1 227.6h0M517.4 227.2h0M521.4 227.6h0M524.9 227.7h0M526.3 227h0M529.4 227.1h0M531.2 227.2h0M537.5 227.4h0M540.5 227.7h0M544.2 227.3h0M547.3 227.4h0M557.6 227.7h0M491.1 228.5h0M496 227.9h0M503.4 228h0M505.1 228.2h0M505.4 228.3h0M507.4 228.4h0M513.8 228.5h0M521.8 228.3h0M525.6 227.8h0M527.2 228.6h0M542.1 228.5h0M542.1 227.8h0M551.7 228.3h0M494.1 229.4h0M504.2 229h0M513.2 229.2h0M514 229h0M517.2 229h0M518 229.5h0M522.5 229.2h0M529.2 229.2h0M536.9 228.9h0M542.5 229.2h0M491.8 229.9h0M494.6 230.2h0M506 230.7h0M506.3 230.3h0M508 230.1h0M510.7 230.6h0M519.7 230.2h0M523.6 229.9h0M526.3 230.5h0M531.3 229.7h0M541.2 229.8h0M493.4 230.8h0M500.8 230.8h0M516.3 231.7h0M516.2 231.2h0M517.6 231.2h0M524 231.4h0M535.6 230.8h0M535.3 230.7h0M488.1 232.1h0M489.8 232.5h0M493.1 232.5h0M502.5 231.9h0M507.9 231.9h0M511.5 231.9h0M516.2 232.1h0M521.9 232.3h0M528.6 232.7h0M529.9 232.1h0M530.7 232h0M531.9 232.5h0M532.4 232.6h0M536.1 232h0M540.1 232h0M543.5 231.9h0M545.9 232.5h0M551.8 231.8h0M563.8 232.2h0M490.8 233.5h0M496.5 233.5h0M508.1 233.2h0M507.4 233.4h0M517.4 233.3h0M522.9 232.8h0M524.6 233.3h0M528.1 233h0M530.4 233.2h0M533.1 233.7h0M536.6 232.7h0M553.7 233.4h0M557.3 233.5h0M499.1 234.3h0M499.7 233.9h0M507.5 233.9h0M514.1 234.3h0M519.4 233.9h0M520.9 234.1h0M521.5 233.8h0M523.4 233.8h0M527.9 234.5h0M529.7 234.2h0M539.8 234h0M540.4 233.8h0M550.4 234.3h0M495 235h0M506.6 235.2h0M506.3 235.7h0M513.7 234.8h0M516.5 235.2h0M521.1 235.6h0M521.3 234.9h0M529.3 235.6h0M534.2 234.9h0M536.3 235.3h0M537.7 235.1h0M538.3 235.3h0M540.4 235.5h0M560.9 235.2h0M502.6 236.2h0M513.1 236.4h0M515.6 236.2h0M525 236.5h0M532.7 236.1h0M534.9 236.1h0M538.4 236.4h0M493.3 237.2h0M509.5 237.3h0M519.7 236.8h0M519.9 237.2h0M521.9 237.6h0M530.3 237h0M548.4 237.4h0M502 238.5h0M504.1 237.7h0M508.4 237.9h0M510.6 238h0M511.6 238.6h0M515.7 238.1h0M518.1 238h0M518.1 237.8h0M526 237.7h0M532 238.2h0M533.2 238.5h0M537.2 238.2h0M539.3 238.2h0M546.8 237.6h0M500.9 239.4h0M504.2 239.1h0M513.1 239h0M515.3 238.6h0M518.9 238.7h0M543.3 238.7h0M544.5 239.4h0M551.3 238.8h0M496.6 239.8h0M522.2 239.6h0M529.6 239.8h0M495.4 241.3h0M501.7 241.2h0M503.4 241.3h0M517.3 240.8h0M519.9 241.4h0M535.4 240.8h0M490.3 242.2h0M506.3 242h0M525.5 242.4h0M523.6 242.8h0M534.7 242.9h0M538.1 243.3h0M514.6 244.5h0M534 244.5h0M506 244.7h0M520.5 245h0M525.3 244.8h0M508.9 246.3h0M535.1 246.1h0M547.4 246.3h0M493.4 246.8h0M510.4 247.1h0M503.5 247.6h0M509 248.1h0M517.9 250.3h0M494.4 182.2h0M502.7 177.7h0M505.3 176.7h0M509.6 178.1h0M515.3 175.4h0M520 179h0M522.4 176.7h0M523.7 181.3h0M524.9 188h0M536 185.3h0M534 193.5h0M537.3 193.2h0M510.7 197.1h0M481.6 200.8h0M479.3 205.3h0M474 207.7h0M535.9 185.2h0M553.8 186.4h0M555.9 187.6h0M556.6 191.2h0M557.4 192.6h0M533.9 193.3h0M537.3 193.3h0M544.9 192.6h0M543.4 197.8h0M571.2 198.9h0M571.5 205.3h0M566.6 205.6h0M475.3 229.6h0M481 233.6h0M475.7 238.9h0M478 237h0M480 237.9h0M482.7 238.9h0M476.7 248.9h0M496.3 249.8h0M503.3 251.6h0M511.3 247.2h0M514 250.2h0M515.7 252.4h0M526.4 247.2h0M531.7 248.5h0M525 243.9h0M492 238.3h0M498.4 244.2h0M559.3 226.7h0M557.4 234.5h0M559.9 233.3h0M562 232.7h0M564.8 231.8h0M562.7 223h0M546.5 236.8h0M541.6 239.6h0M531.8 248.3h0" stroke="#000" stroke-width="2.6" stroke-linecap="round" fill="none"/>
<path d="M549.5 192.3 498.6 194.2 507.2 195.5 515.2 197.1 529.4 197.5 513 199 538 198.5 516.8 199.8 497.5 200.6 517 201 541.8 201 499 201.5 509.3 201.9 515.9 202 520 201.4 570.6 201.4 534.3 202.4 541.6 202.2 492.7 203.7 492.5 203.9 536.2 203.4 538.9 203.7 539.1 203.3 546.5 203.4 539.7 204.9 551.9 205 490.5 205.4 495.8 205.3 528.9 205.5 539.8 205.4 506.8 206.5 512.5 206.2 513.7 206.8 536.7 206.5 546.8 206.7 507.9 207.7 511.5 207.8 529.1 207.6 539.2 207.6 553.4 207.6 554.8 207.2 563.8 209 508.5 209.5 521.1 209.2 522.3 209.4 527.7 209.4 532.6 209.7 540.6 209.1 551.2 209.9 511.1 210.7 532.6 210.7 536.2 210.6 517.8 211.7 525.7 211.9 526.4 211.2 530 211.5 535.7 211.3 488.4 212.8 511.2 212.1 512.3 212.7 519.6 212.7 542.7 212.8 544.9 212.2 552.7 212.2 560.7 212 498.3 213.9 502.9 213.8 508.9 213.7 527.7 213.1 527.6 213.2 533.3 213.3 533.5 213.5 538.3 213.9 555 213.4 507.5 214.6 514.6 214.7 526.2 214 547.2 214.3 504.2 215 510.9 215.4 512.6 214.9 523.6 215 538.5 215 549.9 215.9 512.4 216.1 516.1 216.3 516.2 216.8 520.5 216.2 526.9 216.1 526.5 216.4 528.6 216.7 537.9 216.8 495.7 217.4 503.2 217.6 503.2 217 506.4 217.3 515 217.4 519.3 217 526.6 217.4 529.1 216.9 533.4 217.6 552.4 217.8 556.3 217.4 501 218.7 514.3 218 535.1 218 538.9 218 541 218.2 545.5 218.8 498.6 219.2 502 219.9 510.6 219.2 513.5 219 525.2 219.3 527.3 219.3 528.3 219.5 530.8 219.6 540 219.3 546.6 219.3 487.6 219.9 496.5 220.7 502.7 220.7 502.9 220.6 513.1 220.8 518.4 220.7 524.8 220.4 526.9 220.7 539.1 220.5 540.7 220.4 542 220.5 551.4 220.5 490.9 220.9 504.6 221.6 509.3 221.5 515.7 221.7 531.1 221 532.4 221.3 532.7 221.6 539.6 221.4 541.1 221.2 543.8 221.4 544.2 221.7 544.6 221.4 486.4 222.7 509.2 221.9 516.2 222.6 541.6 222.1 491.6 223.7 493.7 222.9 494.4 223.1 507.4 223 515 223.8 514.3 223.4 514.5 223.4 523.7 223.5 524.2 223.8 533.5 223.7 541.7 222.9 545.5 223 553.6 222.9 487 224.3 496.9 224.6 496.4 224.7 506.1 224.3 537.3 224.2 545.7 224.5 492 225.8 503.8 225.4 521.4 225.3 554 224.9 488.5 226.3 498.7 226.6 499.5 226.3 500.7 226.2 507.7 226.1 521.3 226 523.2 226.3 535.6 226.5 542.2 226 549.3 225.9 508.6 227 511.1 227.6 517.4 227.2 521.4 227.6 526.3 227 537.5 227.4 540.5 227.7 557.6 227.7 491.1 228.5 503.4 228 507.4 228.4 513.8 228.5 527.2 228.6 542.1 228.5 542.1 227.8 551.7 228.3 504.2 229 517.2 229 518 229.5 536.9 228.9 506.3 230.3 523.6 229.9 526.3 230.5 531.3 229.7 500.8 230.8 516.2 231.2 517.6 231.2 524 231.4 489.8 232.5 511.5 231.9 516.2 232.1 528.6 232.7 551.8 231.8 507.4 233.4 528.1 233 530.4 233.2 536.6 232.7 519.4 233.9 520.9 234.1 527.9 234.5 539.8 234 540.4 233.8 495 235 529.3 235.6 536.3 235.3 540.4 235.5 513.1 236.4 532.7 236.1 509.5 237.3 519.7 236.8 521.9 237.6 530.3 237 508.4 237.9 518.1 237.8 532 238.2 537.2 238.2 539.3 238.2 546.8 237.6 513.1 239 518.9 238.7 496.6 239.8 522.2 239.6 495.4 241.3 501.7 241.2 503.4 241.3 519.9 241.4 534.7 242.9 538.1 243.3 525.3 244.8 535.1 246.1 510.4 247.1 503.5 247.6 517.9 250.3 494.4 182.2 502.7 177.7 505.3 176.7 509.6 178.1 515.3 175.4 520 179 522.4 176.7 523.7 181.3 524.9 188 536 185.3 537.3 193.2 510.7 197.1 535.9 185.2 553.8 186.4 555.9 187.6 556.6 191.2 557.4 192.6 544.9 192.6 571.2 198.9 571.5 205.3 503.3 251.6 515.7 252.4 526.4 247.2 525 243.9 559.3 226.7 557.4 234.5 559.9 233.3 562 232.7 564.8 231.8 562.7 223 546.5 236.8 541.6 239.6" class="rg"/>
<path d="M54.6 150.7v-2.7M54.6 20.5v2.7M61.3 150.7v-2.7M61.3 20.5v2.7M67.2 150.7v-2.7M67.2 20.5v2.7M72.3 150.7v-2.7M72.3 20.5v2.7M107.3 150.7v-2.7M107.3 20.5v2.7M125 150.7v-2.7M125 20.5v2.7M137.6 150.7v-2.7M137.6 20.5v2.7M147.3 150.7v-2.7M147.3 20.5v2.7M155.3 150.7v-2.7M155.3 20.5v2.7M162.1 150.7v-2.7M162.1 20.5v2.7M167.9 150.7v-2.7M167.9 20.5v2.7M173.1 150.7v-2.7M173.1 20.5v2.7M76.9 150.7v-5.5M76.9 20.5v5.5M177.7 150.7v-5.5M177.7 20.5v5.5M46.6 137.6h2.7M208 137.6h-2.7M46.6 130h2.7M208 130h-2.7M46.6 124.6h2.7M208 124.6h-2.7M46.6 120.4h2.7M208 120.4h-2.7M46.6 116.9h2.7M208 116.9h-2.7M46.6 114h2.7M208 114h-2.7M46.6 111.5h2.7M208 111.5h-2.7M46.6 109.3h2.7M208 109.3h-2.7M46.6 94.2h2.7M208 94.2h-2.7M46.6 86.6h2.7M208 86.6h-2.7M46.6 81.2h2.7M208 81.2h-2.7M46.6 77h2.7M208 77h-2.7M46.6 73.5h2.7M208 73.5h-2.7M46.6 70.6h2.7M208 70.6h-2.7M46.6 68.1h2.7M208 68.1h-2.7M46.6 65.9h2.7M208 65.9h-2.7M46.6 50.8h2.7M208 50.8h-2.7M46.6 43.2h2.7M208 43.2h-2.7M46.6 37.8h2.7M208 37.8h-2.7M46.6 33.6h2.7M208 33.6h-2.7M46.6 30.1h2.7M208 30.1h-2.7M46.6 27.2h2.7M208 27.2h-2.7M46.6 24.7h2.7M208 24.7h-2.7M46.6 22.5h2.7M208 22.5h-2.7M46.6 107.3h5.5M208 107.3h-5.5M46.6 63.9h5.5M208 63.9h-5.5" stroke="#000" stroke-width="1.2" fill="none"/>
<rect x="46.6" y="20.5" width="161.4" height="130.2" stroke="#000" stroke-width="1.2" fill="none"/>
<path d="M235.3 150.7v-2.7M235.3 20.5v2.7M242.7 150.7v-2.7M242.7 20.5v2.7M249.1 150.7v-2.7M249.1 20.5v2.7M254.7 150.7v-2.7M254.7 20.5v2.7M293 150.7v-2.7M293 20.5v2.7M312.4 150.7v-2.7M312.4 20.5v2.7M326.2 150.7v-2.7M326.2 20.5v2.7M336.8 150.7v-2.7M336.8 20.5v2.7M345.6 150.7v-2.7M345.6 20.5v2.7M352.9 150.7v-2.7M352.9 20.5v2.7M359.3 150.7v-2.7M359.3 20.5v2.7M365 150.7v-2.7M365 20.5v2.7M259.8 150.7v-5.5M259.8 20.5v5.5M370 150.7v-5.5M370 20.5v5.5M226.6 137.6h2.7M403.2 137.6h-2.7M226.6 130h2.7M403.2 130h-2.7M226.6 124.6h2.7M403.2 124.6h-2.7M226.6 120.4h2.7M403.2 120.4h-2.7M226.6 116.9h2.7M403.2 116.9h-2.7M226.6 114h2.7M403.2 114h-2.7M226.6 111.5h2.7M403.2 111.5h-2.7M226.6 109.3h2.7M403.2 109.3h-2.7M226.6 94.2h2.7M403.2 94.2h-2.7M226.6 86.6h2.7M403.2 86.6h-2.7M226.6 81.2h2.7M403.2 81.2h-2.7M226.6 77h2.7M403.2 77h-2.7M226.6 73.5h2.7M403.2 73.5h-2.7M226.6 70.6h2.7M403.2 70.6h-2.7M226.6 68.1h2.7M403.2 68.1h-2.7M226.6 65.9h2.7M403.2 65.9h-2.7M226.6 50.8h2.7M403.2 50.8h-2.7M226.6 43.2h2.7M403.2 43.2h-2.7M226.6 37.8h2.7M403.2 37.8h-2.7M226.6 33.6h2.7M403.2 33.6h-2.7M226.6 30.1h2.7M403.2 30.1h-2.7M226.6 27.2h2.7M403.2 27.2h-2.7M226.6 24.7h2.7M403.2 24.7h-2.7M226.6 22.5h2.7M403.2 22.5h-2.7M226.6 107.3h5.5M403.2 107.3h-5.5M226.6 63.9h5.5M403.2 63.9h-5.5" stroke="#000" stroke-width="1.2" fill="none"/>
<rect x="226.6" y="20.5" width="176.6" height="130.2" stroke="#000" stroke-width="1.2" fill="none"/>
<path d="M430.3 150.7v-2.7M430.3 20.5v2.7M437.7 150.7v-2.7M437.7 20.5v2.7M444.1 150.7v-2.7M444.1 20.5v2.7M449.8 150.7v-2.7M449.8 20.5v2.7M488 150.7v-2.7M488 20.5v2.7M507.5 150.7v-2.7M507.5 20.5v2.7M521.3 150.7v-2.7M521.3 20.5v2.7M532 150.7v-2.7M532 20.5v2.7M540.7 150.7v-2.7M540.7 20.5v2.7M548.1 150.7v-2.7M548.1 20.5v2.7M554.5 150.7v-2.7M554.5 20.5v2.7M560.1 150.7v-2.7M560.1 20.5v2.7M454.8 150.7v-5.5M454.8 20.5v5.5M565.2 150.7v-5.5M565.2 20.5v5.5M421.6 137.6h2.7M598.4 137.6h-2.7M421.6 130h2.7M598.4 130h-2.7M421.6 124.6h2.7M598.4 124.6h-2.7M421.6 120.4h2.7M598.4 120.4h-2.7M421.6 116.9h2.7M598.4 116.9h-2.7M421.6 114h2.7M598.4 114h-2.7M421.6 111.5h2.7M598.4 111.5h-2.7M421.6 109.3h2.7M598.4 109.3h-2.7M421.6 94.2h2.7M598.4 94.2h-2.7M421.6 86.6h2.7M598.4 86.6h-2.7M421.6 81.2h2.7M598.4 81.2h-2.7M421.6 77h2.7M598.4 77h-2.7M421.6 73.5h2.7M598.4 73.5h-2.7M421.6 70.6h2.7M598.4 70.6h-2.7M421.6 68.1h2.7M598.4 68.1h-2.7M421.6 65.9h2.7M598.4 65.9h-2.7M421.6 50.8h2.7M598.4 50.8h-2.7M421.6 43.2h2.7M598.4 43.2h-2.7M421.6 37.8h2.7M598.4 37.8h-2.7M421.6 33.6h2.7M598.4 33.6h-2.7M421.6 30.1h2.7M598.4 30.1h-2.7M421.6 27.2h2.7M598.4 27.2h-2.7M421.6 24.7h2.7M598.4 24.7h-2.7M421.6 22.5h2.7M598.4 22.5h-2.7M421.6 107.3h5.5M598.4 107.3h-5.5M421.6 63.9h5.5M598.4 63.9h-5.5" stroke="#000" stroke-width="1.2" fill="none"/>
<rect x="421.6" y="20.5" width="176.8" height="130.2" stroke="#000" stroke-width="1.2" fill="none"/>
<path d="M54.6 296.6v-2.7M54.6 168v2.7M61.3 296.6v-2.7M61.3 168v2.7M67.2 296.6v-2.7M67.2 168v2.7M72.3 296.6v-2.7M72.3 168v2.7M107.3 296.6v-2.7M107.3 168v2.7M125 296.6v-2.7M125 168v2.7M137.6 296.6v-2.7M137.6 168v2.7M147.3 296.6v-2.7M147.3 168v2.7M155.3 296.6v-2.7M155.3 168v2.7M162.1 296.6v-2.7M162.1 168v2.7M167.9 296.6v-2.7M167.9 168v2.7M173.1 296.6v-2.7M173.1 168v2.7M76.9 296.6v-5.5M76.9 168v5.5M177.7 296.6v-5.5M177.7 168v5.5M46.6 283.7h2.7M208 283.7h-2.7M46.6 276.1h2.7M208 276.1h-2.7M46.6 270.8h2.7M208 270.8h-2.7M46.6 266.6h2.7M208 266.6h-2.7M46.6 263.2h2.7M208 263.2h-2.7M46.6 260.4h2.7M208 260.4h-2.7M46.6 257.9h2.7M208 257.9h-2.7M46.6 255.7h2.7M208 255.7h-2.7M46.6 240.8h2.7M208 240.8h-2.7M46.6 233.3h2.7M208 233.3h-2.7M46.6 227.9h2.7M208 227.9h-2.7M46.6 223.8h2.7M208 223.8h-2.7M46.6 220.4h2.7M208 220.4h-2.7M46.6 217.5h2.7M208 217.5h-2.7M46.6 215h2.7M208 215h-2.7M46.6 212.8h2.7M208 212.8h-2.7M46.6 198h2.7M208 198h-2.7M46.6 190.4h2.7M208 190.4h-2.7M46.6 185.1h2.7M208 185.1h-2.7M46.6 180.9h2.7M208 180.9h-2.7M46.6 177.5h2.7M208 177.5h-2.7M46.6 174.6h2.7M208 174.6h-2.7M46.6 172.2h2.7M208 172.2h-2.7M46.6 170h2.7M208 170h-2.7M46.6 253.7h5.5M208 253.7h-5.5M46.6 210.9h5.5M208 210.9h-5.5" stroke="#000" stroke-width="1.2" fill="none"/>
<rect x="46.6" y="168" width="161.4" height="128.6" stroke="#000" stroke-width="1.2" fill="none"/>
<path d="M235.3 296.6v-2.7M235.3 168v2.7M242.7 296.6v-2.7M242.7 168v2.7M249.1 296.6v-2.7M249.1 168v2.7M254.7 296.6v-2.7M254.7 168v2.7M293 296.6v-2.7M293 168v2.7M312.4 296.6v-2.7M312.4 168v2.7M326.2 296.6v-2.7M326.2 168v2.7M336.8 296.6v-2.7M336.8 168v2.7M345.6 296.6v-2.7M345.6 168v2.7M352.9 296.6v-2.7M352.9 168v2.7M359.3 296.6v-2.7M359.3 168v2.7M365 296.6v-2.7M365 168v2.7M259.8 296.6v-5.5M259.8 168v5.5M370 296.6v-5.5M370 168v5.5M226.6 283.7h2.7M403.2 283.7h-2.7M226.6 276.1h2.7M403.2 276.1h-2.7M226.6 270.8h2.7M403.2 270.8h-2.7M226.6 266.6h2.7M403.2 266.6h-2.7M226.6 263.2h2.7M403.2 263.2h-2.7M226.6 260.4h2.7M403.2 260.4h-2.7M226.6 257.9h2.7M403.2 257.9h-2.7M226.6 255.7h2.7M403.2 255.7h-2.7M226.6 240.8h2.7M403.2 240.8h-2.7M226.6 233.3h2.7M403.2 233.3h-2.7M226.6 227.9h2.7M403.2 227.9h-2.7M226.6 223.8h2.7M403.2 223.8h-2.7M226.6 220.4h2.7M403.2 220.4h-2.7M226.6 217.5h2.7M403.2 217.5h-2.7M226.6 215h2.7M403.2 215h-2.7M226.6 212.8h2.7M403.2 212.8h-2.7M226.6 198h2.7M403.2 198h-2.7M226.6 190.4h2.7M403.2 190.4h-2.7M226.6 185.1h2.7M403.2 185.1h-2.7M226.6 180.9h2.7M403.2 180.9h-2.7M226.6 177.5h2.7M403.2 177.5h-2.7M226.6 174.6h2.7M403.2 174.6h-2.7M226.6 172.2h2.7M403.2 172.2h-2.7M226.6 170h2.7M403.2 170h-2.7M226.6 253.7h5.5M403.2 253.7h-5.5M226.6 210.9h5.5M403.2 210.9h-5.5" stroke="#000" stroke-width="1.2" fill="none"/>
<rect x="226.6" y="168" width="176.6" height="128.6" stroke="#000" stroke-width="1.2" fill="none"/>
<path d="M430.3 296.6v-2.7M430.3 168v2.7M437.7 296.6v-2.7M437.7 168v2.7M444.1 296.6v-2.7M444.1 168v2.7M449.8 296.6v-2.7M449.8 168v2.7M488 296.6v-2.7M488 168v2.7M507.5 296.6v-2.7M507.5 168v2.7M521.3 296.6v-2.7M521.3 168v2.7M532 296.6v-2.7M532 168v2.7M540.7 296.6v-2.7M540.7 168v2.7M548.1 296.6v-2.7M548.1 168v2.7M554.5 296.6v-2.7M554.5 168v2.7M560.1 296.6v-2.7M560.1 168v2.7M454.8 296.6v-5.5M454.8 168v5.5M565.2 296.6v-5.5M565.2 168v5.5M421.6 283.7h2.7M598.4 283.7h-2.7M421.6 276.1h2.7M598.4 276.1h-2.7M421.6 270.8h2.7M598.4 270.8h-2.7M421.6 266.6h2.7M598.4 266.6h-2.7M421.6 263.2h2.7M598.4 263.2h-2.7M421.6 260.4h2.7M598.4 260.4h-2.7M421.6 257.9h2.7M598.4 257.9h-2.7M421.6 255.7h2.7M598.4 255.7h-2.7M421.6 240.8h2.7M598.4 240.8h-2.7M421.6 233.3h2.7M598.4 233.3h-2.7M421.6 227.9h2.7M598.4 227.9h-2.7M421.6 223.8h2.7M598.4 223.8h-2.7M421.6 220.4h2.7M598.4 220.4h-2.7M421.6 217.5h2.7M598.4 217.5h-2.7M421.6 215h2.7M598.4 215h-2.7M421.6 212.8h2.7M598.4 212.8h-2.7M421.6 198h2.7M598.4 198h-2.7M421.6 190.4h2.7M598.4 190.4h-2.7M421.6 185.1h2.7M598.4 185.1h-2.7M421.6 180.9h2.7M598.4 180.9h-2.7M421.6 177.5h2.7M598.4 177.5h-2.7M421.6 174.6h2.7M598.4 174.6h-2.7M421.6 172.2h2.7M598.4 172.2h-2.7M421.6 170h2.7M598.4 170h-2.7M421.6 253.7h5.5M598.4 253.7h-5.5M421.6 210.9h5.5M598.4 210.9h-5.5" stroke="#000" stroke-width="1.2" fill="none"/>
<rect x="421.6" y="168" width="176.8" height="128.6" stroke="#000" stroke-width="1.2" fill="none"/>
<text transform="translate(127.3 12.9) scale(1 1.06)" font-size="14.3" text-anchor="middle">&#916;t=2 s thr=1+1&#963;</text>
<text transform="translate(314.9 12.9) scale(1 1.06)" font-size="14.3" text-anchor="middle">&#916;t=2 s thr=1+3&#963;</text>
<text transform="translate(510 12.9) scale(1 1.06)" font-size="14.3" text-anchor="middle">&#916;t=2 s thr=1+5&#963;</text>
<text transform="translate(39 25.3) scale(1 1.14)" font-size="13.5" text-anchor="end">1</text>
<text transform="translate(39 68.7) scale(1 1.14)" font-size="13.5" text-anchor="end">0.1</text>
<text transform="translate(39 112.1) scale(1 1.14)" font-size="13.5" text-anchor="end">0.01</text>
<text transform="translate(39 155.5) scale(1 1.14)" font-size="13.5" text-anchor="end">0.001</text>
<text transform="translate(13.2,93.5) rotate(-90) scale(1 1.14)" font-size="14">S<tspan font-size="10" dy="3">B</tspan></text>
<text transform="translate(39 172.8) scale(1 1.14)" font-size="13.5" text-anchor="end">1</text>
<text transform="translate(39 215.7) scale(1 1.14)" font-size="13.5" text-anchor="end">0.1</text>
<text transform="translate(39 258.5) scale(1 1.14)" font-size="13.5" text-anchor="end">0.01</text>
<text transform="translate(39 301.4) scale(1 1.14)" font-size="13.5" text-anchor="end">0.001</text>
<text transform="translate(13.2,240.1) rotate(-90) scale(1 1.14)" font-size="14">S<tspan font-size="10" dy="3">B</tspan></text>
<text transform="translate(78.9 315.3) scale(1 1.14)" font-size="14" text-anchor="middle">10</text>
<text transform="translate(179.7 315.3) scale(1 1.14)" font-size="14" text-anchor="middle">100</text>
<text transform="translate(127.3 323.6) scale(1 1.04)" font-size="14" text-anchor="middle">&#952;(<tspan font-size="11" dy="-0.5">&#176;</tspan><tspan dy="0.5">)</tspan></text>
<text transform="translate(261.8 315.3) scale(1 1.14)" font-size="14" text-anchor="middle">10</text>
<text transform="translate(372 315.3) scale(1 1.14)" font-size="14" text-anchor="middle">100</text>
<text transform="translate(314.9 323.6) scale(1 1.04)" font-size="14" text-anchor="middle">&#952;(<tspan font-size="11" dy="-0.5">&#176;</tspan><tspan dy="0.5">)</tspan></text>
<text transform="translate(456.8 315.3) scale(1 1.14)" font-size="14" text-anchor="middle">10</text>
<text transform="translate(567.2 315.3) scale(1 1.14)" font-size="14" text-anchor="middle">100</text>
<text transform="translate(510 323.6) scale(1 1.04)" font-size="14" text-anchor="middle">&#952;(<tspan font-size="11" dy="-0.5">&#176;</tspan><tspan dy="0.5">)</tspan></text>
<text transform="translate(143.5 142.2) scale(1 1.1)" font-size="13" text-anchor="end">PVI</text>
<circle cx="170" cy="138.2" r="1.3"/>
<text transform="translate(143.5 277.3) scale(1 1.1)" font-size="13" text-anchor="end">PVI</text>
<circle cx="170" cy="273.8" r="1.3"/>
<text transform="translate(143.5 290.3) scale(1 1.1)" font-size="13" text-anchor="end">PVI/LIM</text>
<circle cx="170" cy="286.8" r="2.7" stroke="#f00" stroke-width="0.55" fill="none"/>
<text transform="translate(338.7 142.2) scale(1 1.1)" font-size="13" text-anchor="end">PVI</text>
<circle cx="365.2" cy="138.2" r="1.3"/>
<text transform="translate(338.7 277.3) scale(1 1.1)" font-size="13" text-anchor="end">PVI</text>
<circle cx="365.2" cy="273.8" r="1.3"/>
<text transform="translate(338.7 290.3) scale(1 1.1)" font-size="13" text-anchor="end">PVI/LIM</text>
<circle cx="365.2" cy="286.8" r="2.7" stroke="#f00" stroke-width="0.55" fill="none"/>
<text transform="translate(533.9 142.2) scale(1 1.1)" font-size="13" text-anchor="end">PVI</text>
<circle cx="560.4" cy="138.2" r="1.3"/>
<text transform="translate(533.9 277.3) scale(1 1.1)" font-size="13" text-anchor="end">PVI</text>
<circle cx="560.4" cy="273.8" r="1.3"/>
<text transform="translate(533.9 290.3) scale(1 1.1)" font-size="13" text-anchor="end">PVI/LIM</text>
<circle cx="560.4" cy="286.8" r="2.7" stroke="#f00" stroke-width="0.55" fill="none"/>
</svg></body></html>
